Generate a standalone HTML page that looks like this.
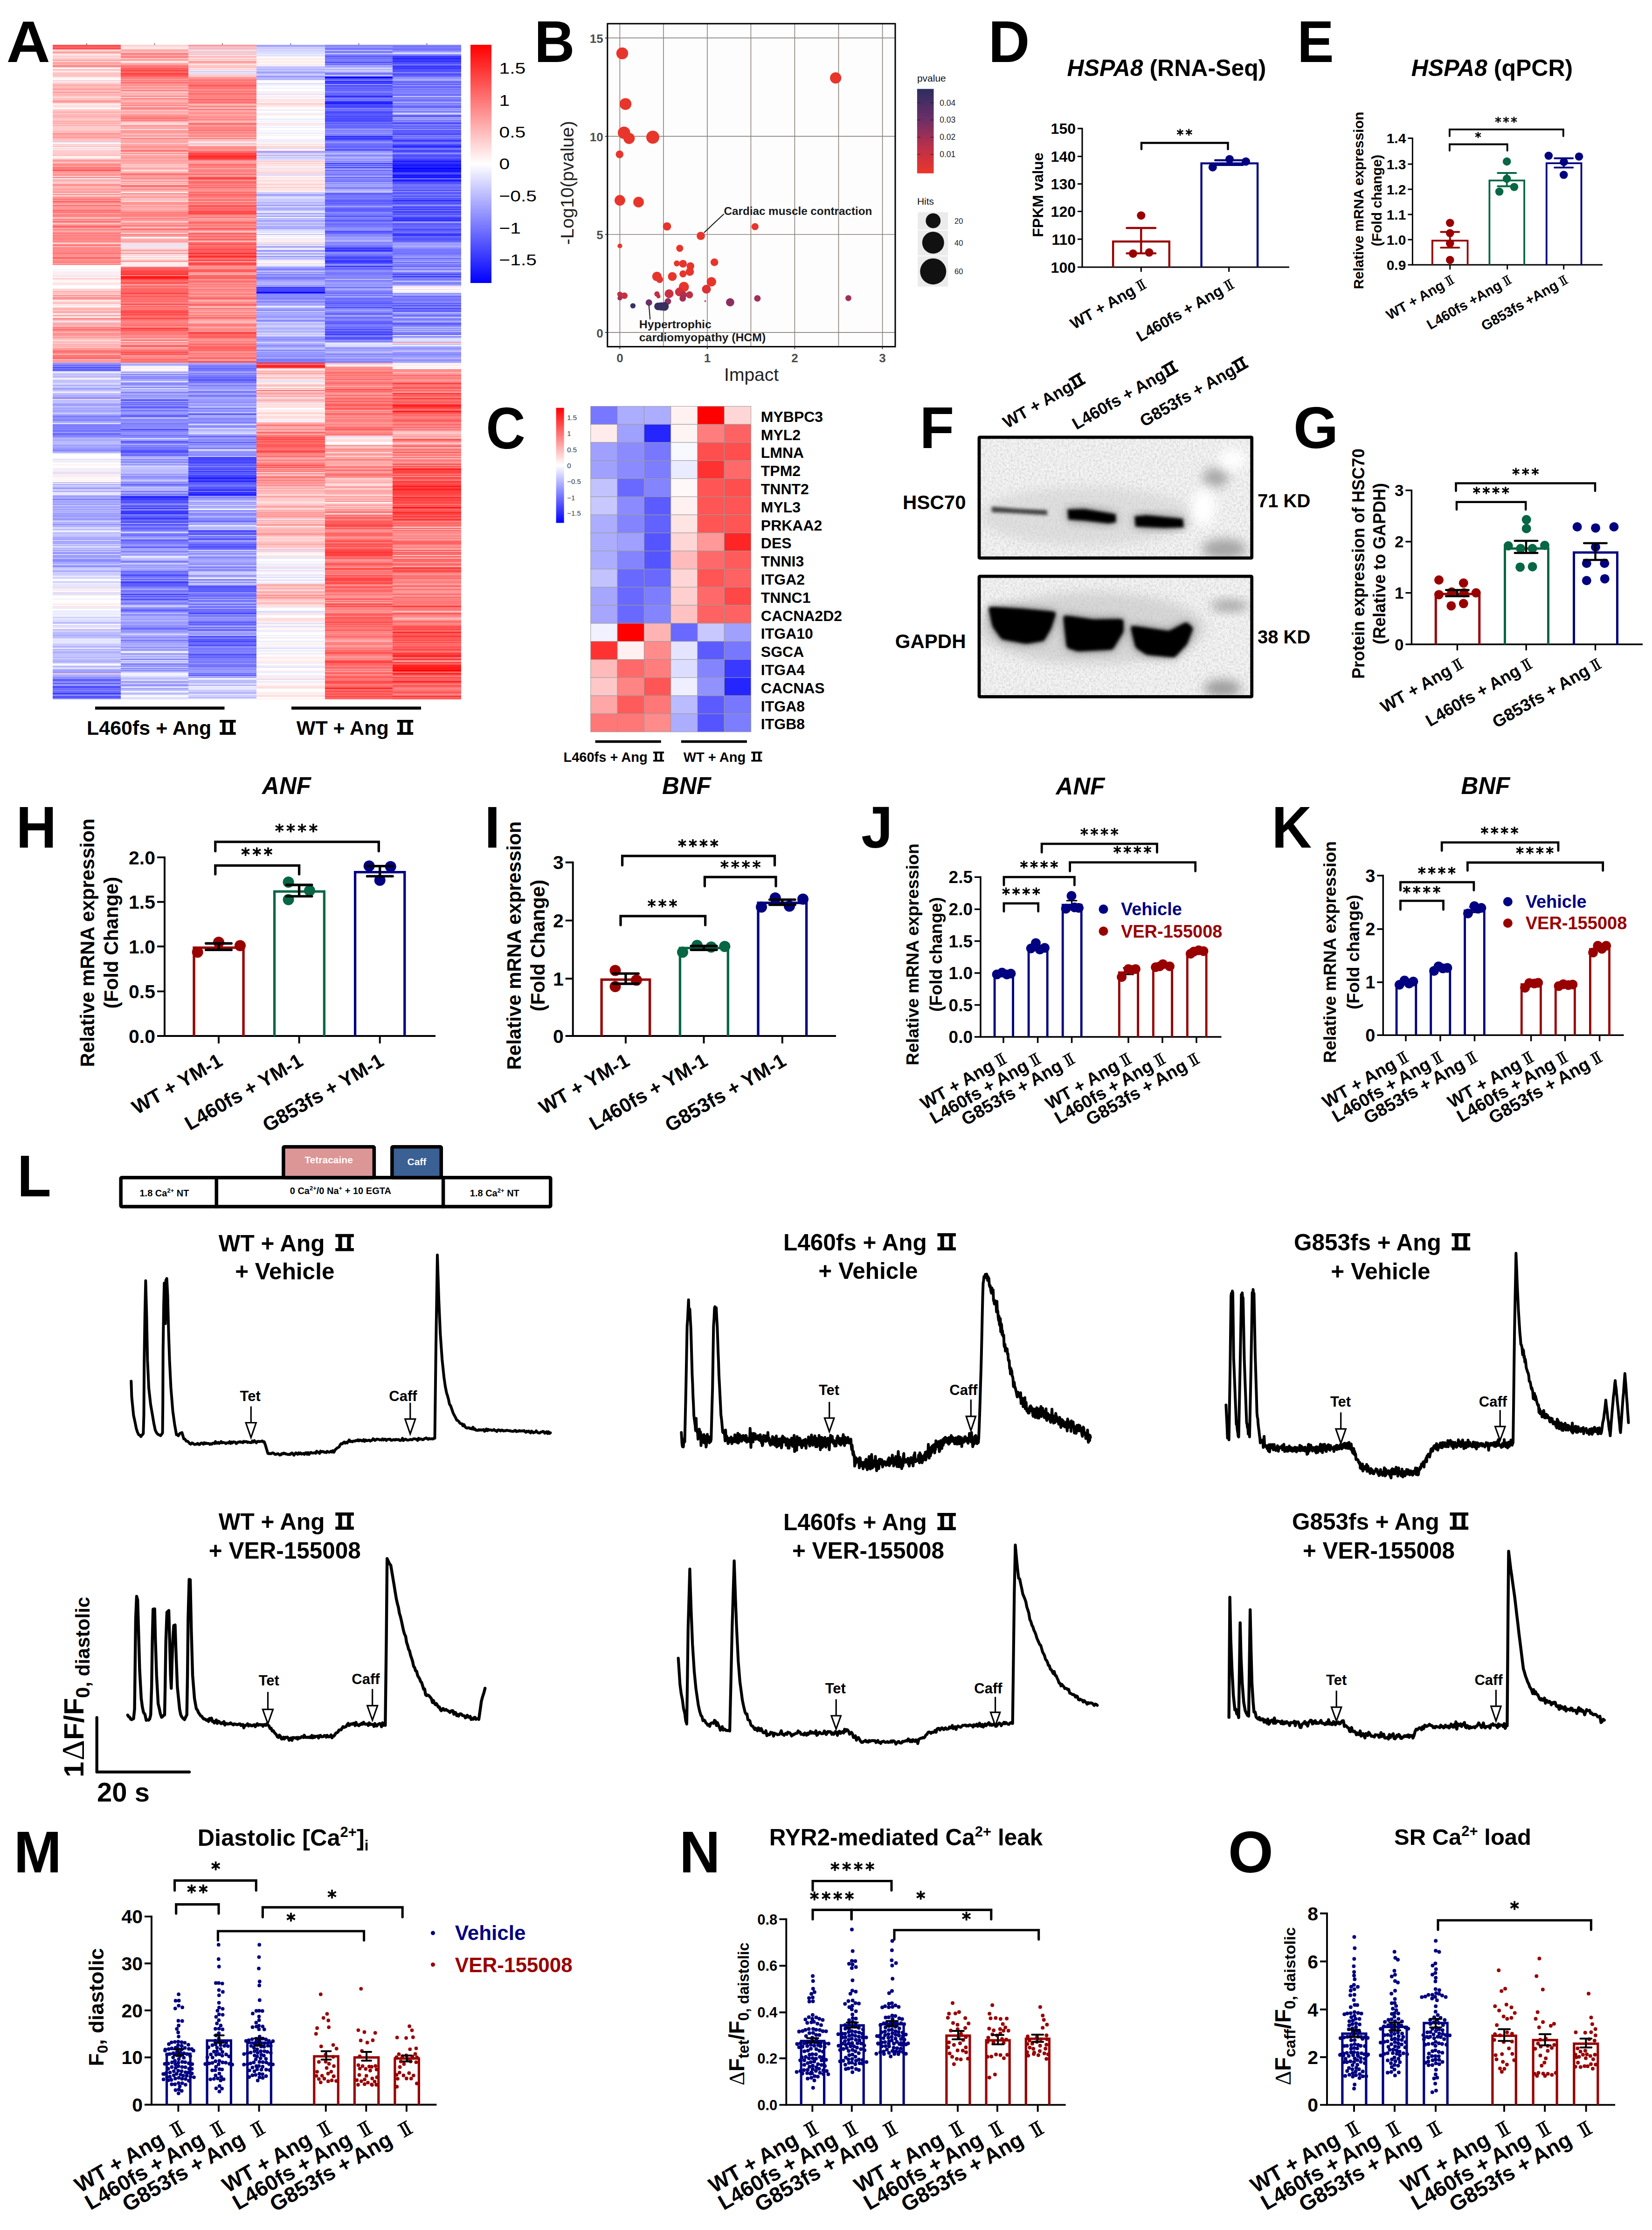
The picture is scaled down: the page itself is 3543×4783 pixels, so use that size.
<!DOCTYPE html>
<html><head><meta charset="utf-8"><title>Figure</title>
<style>
html,body{margin:0;padding:0;background:#fff}
#pg{position:relative;width:3543px;height:4783px;background:#fff;overflow:hidden;font-family:"Liberation Sans",sans-serif}
#pg svg{position:absolute;left:0;top:0}
svg text{font-family:"Liberation Sans",sans-serif}
</style></head><body><div id="pg">
<div style="position:absolute;left:113px;top:96px;width:146px;height:1404px;background:linear-gradient(#f55 0 2px,#f44 0 4px,#f77 0 6px,#f44 0 8px,#f55 0 10px,#fcc 0 12px,#fdd 0 14px,#faa 0 16px,#f99 0 18px,#fcc 0 20px,#fee 0 22px,#fdd 0 24px,#fcc 0 26px,#fdd 0 28px,#fcc 0 32px,#f99 0 34px,#fcc 0 38px,#f88 0 40px,#fbb 0 42px,#faa 0 44px,#f88 0 48px,#fdd 0 50px,#fff 0 52px,#fbb 0 54px,#fcc 0 56px,#fee 0 58px,#fdd 0 60px,#fbb 0 62px,#fcc 0 64px,#fbb 0 66px,#fcc 0 70px,#fff 0 72px,#fee 0 74px,#fff 0 76px,#fcc 0 78px,#eef 0 80px,#fdd 0 82px,#fcc 0 84px,#fbb 0 86px,#faa 0 88px,#fbb 0 94px,#f99 0 96px,#faa 0 98px,#fcc 0 100px,#faa 0 102px,#f99 0 104px,#fcc 0 106px,#faa 0 108px,#fbb 0 110px,#fcc 0 112px,#fdd 0 114px,#fbb 0 116px,#fcc 0 118px,#faa 0 120px,#f99 0 124px,#fcc 0 126px,#fee 0 130px,#fdd 0 134px,#fee 0 136px,#fff 0 138px,#fcc 0 142px,#fbb 0 144px,#faa 0 146px,#fcc 0 148px,#fbb 0 152px,#faa 0 154px,#fbb 0 158px,#fcc 0 162px,#fbb 0 164px,#faa 0 166px,#fbb 0 168px,#faa 0 170px,#fcc 0 172px,#faa 0 174px,#fcc 0 184px,#fbb 0 190px,#f88 0 192px,#faa 0 198px,#f99 0 200px,#fbb 0 204px,#fcc 0 206px,#fbb 0 208px,#ddf 0 210px,#fff 0 212px,#fdd 0 214px,#fcc 0 216px,#fdd 0 218px,#fbb 0 220px,#fff 0 222px,#fcc 0 224px,#eef 0 226px,#fcc 0 236px,#fbb 0 238px,#fdd 0 240px,#fff 0 242px,#fdd 0 246px,#f99 0 250px,#faa 0 252px,#fcc 0 254px,#f99 0 256px,#f88 0 260px,#faa 0 262px,#f77 0 266px,#f88 0 268px,#f44 0 270px,#f88 0 272px,#f99 0 276px,#faa 0 278px,#f88 0 280px,#faa 0 282px,#fdd 0 284px,#f77 0 286px,#eef 0 288px,#fbb 0 290px,#faa 0 292px,#fbb 0 294px,#fcc 0 298px,#faa 0 300px,#f77 0 302px,#fbb 0 304px,#faa 0 306px,#fbb 0 308px,#faa 0 310px,#f99 0 312px,#fbb 0 314px,#f99 0 318px,#fdd 0 320px,#f88 0 322px,#fcc 0 326px,#f88 0 328px,#faa 0 330px,#f66 0 332px,#f99 0 334px,#f88 0 336px,#f55 0 338px,#f99 0 342px,#faa 0 344px,#f66 0 346px,#f99 0 354px,#f66 0 356px,#f88 0 358px,#f66 0 360px,#f99 0 364px,#f77 0 366px,#f88 0 370px,#fcc 0 372px,#faa 0 374px,#f77 0 376px,#faa 0 378px,#f66 0 380px,#f88 0 382px,#fcc 0 384px,#faa 0 386px,#f99 0 388px,#f66 0 392px,#f99 0 394px,#faa 0 396px,#f77 0 398px,#faa 0 402px,#f88 0 404px,#f77 0 406px,#f99 0 408px,#f77 0 410px,#f88 0 416px,#f77 0 418px,#f99 0 420px,#f77 0 422px,#f99 0 424px,#fbb 0 426px,#fdd 0 428px,#f66 0 430px,#f88 0 432px,#fbb 0 434px,#f88 0 446px,#f77 0 450px,#faa 0 452px,#f77 0 454px,#faa 0 456px,#f44 0 458px,#f88 0 460px,#f99 0 462px,#f88 0 466px,#f77 0 468px,#faa 0 470px,#f77 0 472px,#fee 0 474px,#fff 0 482px,#fee 0 484px,#fff 0 486px,#eef 0 488px,#fee 0 494px,#eef 0 496px,#fdd 0 498px,#fff 0 500px,#fcc 0 502px,#fdd 0 504px,#fee 0 506px,#fff 0 508px,#fee 0 512px,#fdd 0 514px,#fee 0 516px,#fff 0 522px,#fee 0 524px,#fcc 0 526px,#fdd 0 528px,#faa 0 530px,#fcc 0 532px,#faa 0 534px,#fee 0 536px,#f88 0 538px,#fbb 0 540px,#faa 0 542px,#f88 0 544px,#f99 0 546px,#fbb 0 548px,#fff 0 550px,#fcc 0 554px,#fbb 0 556px,#fee 0 558px,#fdd 0 560px,#fff 0 562px,#fdd 0 564px,#fbb 0 566px,#faa 0 568px,#fbb 0 570px,#fcc 0 572px,#f99 0 574px,#fbb 0 576px,#fee 0 578px,#fdd 0 580px,#f99 0 582px,#fdd 0 584px,#fee 0 586px,#f88 0 588px,#f99 0 590px,#fbb 0 592px,#fdd 0 594px,#ddf 0 596px,#faa 0 602px,#fbb 0 604px,#faa 0 606px,#f77 0 608px,#f99 0 610px,#f66 0 612px,#f88 0 614px,#f99 0 616px,#fbb 0 618px,#f88 0 620px,#f99 0 622px,#f88 0 624px,#fbb 0 626px,#f99 0 628px,#faa 0 630px,#fbb 0 632px,#fcc 0 634px,#fdd 0 636px,#fbb 0 640px,#fcc 0 642px,#faa 0 644px,#fbb 0 646px,#faa 0 648px,#fcc 0 650px,#f99 0 652px,#faa 0 654px,#f77 0 656px,#f88 0 658px,#f55 0 660px,#f99 0 662px,#f88 0 664px,#fbb 0 666px,#f55 0 668px,#f88 0 670px,#f66 0 674px,#fbb 0 676px,#f99 0 680px,#faa 0 682px,#88f 0 684px,#aaf 0 686px,#55f 0 688px,#88f 0 690px,#77f 0 692px,#44f 0 694px,#88f 0 696px,#55f 0 698px,#66f 0 700px,#ddf 0 702px,#eef 0 704px,#ccf 0 706px,#bbf 0 708px,#ccf 0 710px,#bbf 0 714px,#fdd 0 716px,#fff 0 718px,#bbf 0 720px,#ccf 0 722px,#bbf 0 724px,#ccf 0 726px,#ddf 0 728px,#ccf 0 730px,#aaf 0 732px,#ccf 0 736px,#99f 0 738px,#aaf 0 740px,#bbf 0 742px,#ccf 0 744px,#fee 0 746px,#ddf 0 748px,#aaf 0 750px,#ccf 0 752px,#99f 0 754px,#bbf 0 756px,#88f 0 758px,#99f 0 760px,#fdd 0 762px,#bbf 0 766px,#ccf 0 768px,#aaf 0 772px,#88f 0 774px,#ccf 0 776px,#aaf 0 778px,#bbf 0 780px,#99f 0 782px,#bbf 0 784px,#99f 0 786px,#aaf 0 788px,#bbf 0 790px,#ccf 0 792px,#aaf 0 794px,#99f 0 796px,#77f 0 798px,#88f 0 800px,#99f 0 802px,#88f 0 808px,#bbf 0 810px,#aaf 0 812px,#eef 0 814px,#66f 0 816px,#88f 0 818px,#77f 0 820px,#88f 0 822px,#77f 0 824px,#88f 0 826px,#77f 0 828px,#66f 0 830px,#aaf 0 832px,#77f 0 834px,#66f 0 836px,#77f 0 838px,#88f 0 842px,#aaf 0 844px,#bbf 0 846px,#aaf 0 850px,#bbf 0 858px,#99f 0 860px,#aaf 0 864px,#99f 0 868px,#88f 0 872px,#aaf 0 874px,#bbf 0 876px,#eef 0 878px,#fff 0 888px,#ddf 0 890px,#fee 0 892px,#eef 0 896px,#fff 0 900px,#fee 0 902px,#fff 0 908px,#eef 0 912px,#fee 0 914px,#eef 0 916px,#fdd 0 918px,#ddf 0 920px,#eef 0 922px,#fee 0 924px,#eef 0 926px,#fee 0 928px,#fff 0 930px,#fee 0 932px,#fff 0 934px,#fee 0 936px,#fff 0 938px,#bbf 0 940px,#fee 0 942px,#aaf 0 944px,#ccf 0 948px,#bbf 0 950px,#99f 0 952px,#aaf 0 954px,#eef 0 956px,#aaf 0 958px,#bbf 0 960px,#fee 0 962px,#ddf 0 964px,#eef 0 966px,#aaf 0 968px,#99f 0 970px,#aaf 0 974px,#77f 0 976px,#aaf 0 980px,#99f 0 982px,#bbf 0 984px,#99f 0 986px,#aaf 0 988px,#ccf 0 990px,#99f 0 992px,#aaf 0 994px,#bbf 0 996px,#99f 0 998px,#bbf 0 1000px,#aaf 0 1002px,#bbf 0 1004px,#99f 0 1006px,#aaf 0 1008px,#99f 0 1012px,#aaf 0 1016px,#99f 0 1020px,#ccf 0 1024px,#aaf 0 1026px,#bbf 0 1028px,#88f 0 1030px,#bbf 0 1032px,#aaf 0 1034px,#ccf 0 1036px,#eef 0 1038px,#aaf 0 1040px,#ddf 0 1044px,#fff 0 1046px,#99f 0 1048px,#ddf 0 1050px,#bbf 0 1052px,#ccf 0 1054px,#bbf 0 1056px,#aaf 0 1060px,#99f 0 1062px,#ddf 0 1064px,#99f 0 1066px,#bbf 0 1068px,#88f 0 1070px,#ddf 0 1072px,#aaf 0 1074px,#ccf 0 1076px,#ddf 0 1078px,#ccf 0 1080px,#aaf 0 1082px,#ccf 0 1084px,#99f 0 1086px,#ccf 0 1088px,#99f 0 1090px,#88f 0 1092px,#ddf 0 1094px,#99f 0 1096px,#aaf 0 1098px,#88f 0 1100px,#ccf 0 1102px,#99f 0 1104px,#88f 0 1108px,#99f 0 1110px,#aaf 0 1114px,#ccf 0 1116px,#99f 0 1118px,#88f 0 1120px,#bbf 0 1122px,#ccf 0 1128px,#99f 0 1130px,#ccf 0 1138px,#ddf 0 1140px,#eef 0 1142px,#ccf 0 1144px,#ddf 0 1146px,#fff 0 1150px,#ddf 0 1152px,#ccf 0 1154px,#eef 0 1158px,#ddf 0 1160px,#eef 0 1162px,#ddf 0 1164px,#fdd 0 1166px,#eef 0 1168px,#fee 0 1170px,#eef 0 1172px,#fff 0 1174px,#ddf 0 1178px,#fdd 0 1180px,#eef 0 1182px,#fff 0 1188px,#eef 0 1190px,#fff 0 1198px,#fee 0 1202px,#fff 0 1204px,#fdd 0 1206px,#eef 0 1210px,#fff 0 1214px,#ddf 0 1216px,#fff 0 1218px,#ddf 0 1220px,#fff 0 1222px,#ddf 0 1224px,#fff 0 1226px,#ddf 0 1228px,#ccf 0 1230px,#eef 0 1232px,#ddf 0 1238px,#bbf 0 1242px,#fff 0 1244px,#ddf 0 1250px,#fee 0 1252px,#eef 0 1254px,#aaf 0 1256px,#ddf 0 1258px,#ccf 0 1260px,#bbf 0 1266px,#aaf 0 1268px,#bbf 0 1272px,#ccf 0 1274px,#eef 0 1276px,#ddf 0 1278px,#eef 0 1280px,#ddf 0 1282px,#eef 0 1284px,#ccf 0 1290px,#aaf 0 1292px,#ccf 0 1294px,#eef 0 1296px,#aaf 0 1298px,#ccf 0 1300px,#bbf 0 1302px,#aaf 0 1304px,#bbf 0 1308px,#ccf 0 1310px,#bbf 0 1312px,#ccf 0 1314px,#aaf 0 1316px,#ddf 0 1318px,#aaf 0 1320px,#bbf 0 1322px,#aaf 0 1324px,#bbf 0 1326px,#ddf 0 1328px,#fff 0 1330px,#eef 0 1332px,#bbf 0 1336px,#eef 0 1338px,#ccf 0 1340px,#99f 0 1342px,#aaf 0 1344px,#99f 0 1348px,#fcc 0 1350px,#bbf 0 1352px,#aaf 0 1356px,#88f 0 1358px,#99f 0 1360px,#66f 0 1362px,#55f 0 1364px,#77f 0 1366px,#99f 0 1368px,#77f 0 1370px,#55f 0 1372px,#bbf 0 1374px,#77f 0 1376px,#44f 0 1378px,#55f 0 1380px,#77f 0 1382px,#66f 0 1384px,#88f 0 1386px,#66f 0 1388px,#77f 0 1390px,#33f 0 1392px,#55f 0 1394px,#99f 0 1396px,#66f 0 1398px,#44f 0 1400px,#66f 0 1402px,#99f 0)"></div>
<div style="position:absolute;left:259px;top:96px;width:145px;height:1404px;background:linear-gradient(#fcc 0 2px,#fdd 0 6px,#fee 0 8px,#fdd 0 10px,#faa 0 14px,#fbb 0 18px,#f77 0 20px,#f88 0 22px,#faa 0 24px,#f88 0 26px,#f77 0 28px,#fcc 0 30px,#faa 0 32px,#f99 0 34px,#fcc 0 36px,#fff 0 38px,#fbb 0 40px,#faa 0 42px,#f99 0 44px,#f77 0 50px,#f55 0 52px,#f66 0 54px,#f44 0 56px,#f55 0 58px,#f77 0 60px,#f44 0 64px,#f55 0 68px,#f77 0 72px,#f88 0 74px,#f99 0 76px,#f77 0 78px,#f99 0 80px,#f66 0 82px,#f88 0 84px,#f99 0 86px,#f88 0 88px,#faa 0 92px,#f77 0 94px,#fcc 0 96px,#f88 0 100px,#fcc 0 102px,#fbb 0 104px,#faa 0 106px,#fbb 0 108px,#faa 0 110px,#f88 0 112px,#fdd 0 114px,#f88 0 116px,#f99 0 118px,#faa 0 120px,#fbb 0 122px,#faa 0 124px,#f99 0 128px,#faa 0 130px,#f77 0 132px,#fdd 0 134px,#f77 0 136px,#f88 0 138px,#f99 0 140px,#fcc 0 142px,#faa 0 146px,#fbb 0 148px,#faa 0 150px,#f99 0 152px,#f88 0 156px,#f77 0 160px,#f99 0 162px,#f77 0 164px,#fbb 0 166px,#fcc 0 168px,#fdd 0 172px,#f99 0 176px,#fbb 0 178px,#f88 0 180px,#fee 0 182px,#faa 0 184px,#f99 0 190px,#fbb 0 194px,#f99 0 196px,#faa 0 198px,#fcc 0 200px,#f77 0 202px,#faa 0 208px,#f99 0 210px,#fcc 0 212px,#fbb 0 214px,#f99 0 216px,#faa 0 218px,#f88 0 220px,#f99 0 222px,#faa 0 226px,#f66 0 228px,#f88 0 230px,#fcc 0 232px,#f88 0 234px,#fcc 0 236px,#faa 0 240px,#f99 0 244px,#faa 0 248px,#f99 0 250px,#faa 0 256px,#fcc 0 258px,#fbb 0 260px,#fcc 0 262px,#fbb 0 264px,#faa 0 266px,#f99 0 268px,#fff 0 270px,#faa 0 272px,#fdd 0 274px,#f88 0 278px,#f66 0 280px,#faa 0 282px,#f99 0 286px,#f88 0 288px,#faa 0 290px,#fcc 0 292px,#f88 0 294px,#fcc 0 296px,#f99 0 298px,#fdd 0 300px,#f88 0 302px,#f66 0 304px,#f88 0 306px,#fbb 0 308px,#f99 0 310px,#f88 0 312px,#fbb 0 316px,#fff 0 318px,#f88 0 320px,#faa 0 322px,#fbb 0 324px,#faa 0 326px,#f99 0 328px,#faa 0 330px,#fdd 0 332px,#f99 0 334px,#fee 0 336px,#fbb 0 338px,#f88 0 340px,#f99 0 344px,#fbb 0 346px,#f99 0 348px,#faa 0 352px,#fbb 0 354px,#f99 0 356px,#faa 0 358px,#f77 0 360px,#f88 0 364px,#f77 0 366px,#f88 0 370px,#faa 0 372px,#f77 0 374px,#f99 0 378px,#fcc 0 380px,#fbb 0 382px,#f88 0 384px,#faa 0 386px,#f77 0 388px,#f88 0 390px,#faa 0 392px,#fcc 0 394px,#f66 0 396px,#f77 0 398px,#faa 0 400px,#f99 0 402px,#faa 0 404px,#fdd 0 406px,#f77 0 408px,#f99 0 412px,#fff 0 414px,#fdd 0 416px,#fbb 0 418px,#f99 0 420px,#fbb 0 422px,#f88 0 424px,#eef 0 426px,#fcc 0 428px,#fee 0 430px,#ddf 0 432px,#eef 0 434px,#fdd 0 438px,#fcc 0 440px,#f99 0 442px,#fbb 0 444px,#eef 0 446px,#f88 0 448px,#fdd 0 450px,#fcc 0 452px,#fee 0 456px,#fcc 0 458px,#fff 0 460px,#fcc 0 462px,#fbb 0 464px,#f99 0 466px,#fee 0 474px,#eef 0 476px,#f77 0 478px,#f66 0 480px,#f55 0 482px,#f66 0 484px,#f44 0 492px,#f33 0 494px,#f88 0 496px,#f22 0 498px,#f11 0 500px,#f22 0 502px,#f44 0 504px,#f66 0 508px,#f77 0 510px,#f33 0 512px,#f88 0 514px,#f99 0 516px,#f77 0 518px,#f66 0 520px,#f88 0 522px,#f66 0 532px,#f44 0 534px,#f55 0 536px,#f88 0 538px,#f44 0 540px,#f77 0 542px,#f66 0 544px,#f77 0 546px,#f66 0 548px,#f77 0 550px,#f66 0 552px,#f88 0 554px,#f77 0 556px,#f44 0 558px,#f99 0 560px,#f66 0 562px,#f77 0 570px,#f44 0 572px,#f55 0 574px,#f44 0 576px,#f66 0 578px,#f44 0 580px,#f66 0 582px,#f77 0 584px,#f66 0 586px,#f44 0 588px,#f66 0 590px,#f77 0 592px,#f88 0 596px,#f77 0 598px,#f88 0 600px,#f66 0 602px,#f77 0 604px,#f99 0 606px,#f66 0 608px,#f33 0 610px,#f66 0 612px,#f55 0 614px,#f77 0 622px,#f88 0 624px,#f99 0 626px,#f77 0 628px,#f99 0 630px,#fbb 0 632px,#f77 0 634px,#f88 0 636px,#fdd 0 638px,#f77 0 640px,#faa 0 644px,#f66 0 646px,#f55 0 648px,#faa 0 650px,#f99 0 654px,#f66 0 656px,#f88 0 658px,#f44 0 660px,#f66 0 664px,#f55 0 666px,#faa 0 668px,#f88 0 674px,#f66 0 676px,#f77 0 680px,#f66 0 682px,#ccf 0 684px,#aaf 0 688px,#ddf 0 690px,#fff 0 692px,#fee 0 696px,#fff 0 698px,#fee 0 700px,#ccf 0 702px,#99f 0 704px,#ddf 0 706px,#77f 0 708px,#bbf 0 710px,#88f 0 712px,#99f 0 714px,#77f 0 716px,#aaf 0 718px,#99f 0 720px,#bbf 0 722px,#eef 0 724px,#88f 0 730px,#aaf 0 732px,#ccf 0 734px,#77f 0 736px,#ddf 0 738px,#bbf 0 740px,#aaf 0 742px,#ccf 0 744px,#77f 0 746px,#99f 0 748px,#aaf 0 752px,#88f 0 754px,#aaf 0 756px,#99f 0 758px,#bbf 0 760px,#66f 0 762px,#55f 0 764px,#aaf 0 766px,#66f 0 768px,#88f 0 770px,#66f 0 772px,#88f 0 776px,#55f 0 778px,#66f 0 780px,#99f 0 784px,#66f 0 786px,#99f 0 792px,#88f 0 794px,#66f 0 796px,#55f 0 798px,#99f 0 800px,#ccf 0 802px,#88f 0 808px,#99f 0 810px,#88f 0 812px,#77f 0 814px,#88f 0 822px,#99f 0 824px,#44f 0 826px,#77f 0 830px,#99f 0 832px,#88f 0 834px,#99f 0 836px,#88f 0 838px,#66f 0 840px,#99f 0 842px,#88f 0 844px,#eef 0 846px,#99f 0 850px,#55f 0 852px,#66f 0 854px,#77f 0 856px,#bbf 0 858px,#77f 0 860px,#99f 0 862px,#66f 0 864px,#88f 0 866px,#66f 0 868px,#77f 0 870px,#44f 0 872px,#55f 0 876px,#88f 0 878px,#66f 0 882px,#aaf 0 886px,#ccf 0 888px,#88f 0 890px,#99f 0 892px,#aaf 0 894px,#77f 0 896px,#aaf 0 898px,#bbf 0 900px,#88f 0 902px,#ccf 0 904px,#ddf 0 906px,#bbf 0 908px,#ccf 0 910px,#bbf 0 918px,#ccf 0 920px,#88f 0 922px,#bbf 0 924px,#99f 0 926px,#88f 0 928px,#99f 0 932px,#bbf 0 934px,#ccf 0 936px,#aaf 0 938px,#88f 0 940px,#99f 0 942px,#66f 0 944px,#77f 0 946px,#99f 0 948px,#bbf 0 950px,#ccf 0 952px,#99f 0 954px,#ddf 0 956px,#88f 0 958px,#77f 0 960px,#bbf 0 962px,#88f 0 964px,#77f 0 966px,#99f 0 968px,#22f 0 972px,#44f 0 974px,#33f 0 976px,#55f 0 984px,#99f 0 986px,#77f 0 988px,#55f 0 992px,#77f 0 994px,#33f 0 996px,#99f 0 998px,#66f 0 1000px,#33f 0 1002px,#44f 0 1004px,#22f 0 1006px,#66f 0 1008px,#77f 0 1010px,#66f 0 1012px,#55f 0 1016px,#22f 0 1018px,#77f 0 1020px,#66f 0 1022px,#55f 0 1026px,#aaf 0 1028px,#44f 0 1030px,#66f 0 1032px,#88f 0 1034px,#77f 0 1036px,#55f 0 1038px,#77f 0 1040px,#66f 0 1042px,#99f 0 1044px,#aaf 0 1046px,#eef 0 1048px,#55f 0 1050px,#88f 0 1052px,#66f 0 1054px,#99f 0 1058px,#bbf 0 1060px,#88f 0 1062px,#55f 0 1064px,#77f 0 1070px,#88f 0 1072px,#99f 0 1076px,#66f 0 1080px,#bbf 0 1082px,#99f 0 1084px,#aaf 0 1086px,#77f 0 1088px,#99f 0 1090px,#bbf 0 1092px,#99f 0 1096px,#eef 0 1098px,#ddf 0 1102px,#aaf 0 1104px,#ccf 0 1106px,#88f 0 1108px,#77f 0 1110px,#99f 0 1112px,#ddf 0 1114px,#aaf 0 1116px,#99f 0 1118px,#aaf 0 1120px,#99f 0 1122px,#bbf 0 1124px,#99f 0 1126px,#bbf 0 1128px,#55f 0 1130px,#88f 0 1132px,#66f 0 1134px,#88f 0 1136px,#44f 0 1138px,#55f 0 1140px,#77f 0 1144px,#99f 0 1146px,#55f 0 1148px,#99f 0 1150px,#66f 0 1152px,#33f 0 1154px,#55f 0 1156px,#66f 0 1158px,#55f 0 1160px,#66f 0 1162px,#77f 0 1164px,#88f 0 1166px,#99f 0 1168px,#aaf 0 1170px,#66f 0 1172px,#77f 0 1174px,#88f 0 1178px,#33f 0 1180px,#88f 0 1182px,#55f 0 1184px,#77f 0 1186px,#88f 0 1188px,#55f 0 1192px,#aaf 0 1194px,#88f 0 1198px,#77f 0 1200px,#99f 0 1202px,#ccf 0 1206px,#99f 0 1208px,#88f 0 1210px,#77f 0 1212px,#55f 0 1214px,#77f 0 1216px,#88f 0 1218px,#bbf 0 1220px,#aaf 0 1222px,#77f 0 1224px,#aaf 0 1232px,#99f 0 1234px,#bbf 0 1236px,#aaf 0 1238px,#99f 0 1242px,#aaf 0 1244px,#99f 0 1246px,#88f 0 1248px,#99f 0 1250px,#66f 0 1252px,#77f 0 1256px,#aaf 0 1258px,#88f 0 1260px,#aaf 0 1262px,#bbf 0 1264px,#ddf 0 1266px,#aaf 0 1270px,#88f 0 1272px,#99f 0 1274px,#bbf 0 1276px,#66f 0 1278px,#99f 0 1284px,#bbf 0 1286px,#99f 0 1288px,#bbf 0 1290px,#aaf 0 1292px,#88f 0 1294px,#bbf 0 1296px,#99f 0 1300px,#ddf 0 1302px,#fff 0 1304px,#bbf 0 1306px,#88f 0 1308px,#ccf 0 1310px,#bbf 0 1312px,#aaf 0 1314px,#ccf 0 1316px,#aaf 0 1318px,#77f 0 1320px,#eef 0 1322px,#aaf 0 1324px,#ddf 0 1326px,#99f 0 1328px,#77f 0 1330px,#aaf 0 1332px,#77f 0 1334px,#ddf 0 1336px,#88f 0 1338px,#99f 0 1340px,#bbf 0 1342px,#66f 0 1344px,#ddf 0 1346px,#ccf 0 1348px,#fff 0 1350px,#eef 0 1354px,#ddf 0 1356px,#ccf 0 1358px,#bbf 0 1362px,#eef 0 1364px,#aaf 0 1366px,#99f 0 1368px,#bbf 0 1370px,#ccf 0 1372px,#88f 0 1374px,#99f 0 1376px,#ddf 0 1380px,#99f 0 1382px,#bbf 0 1386px,#fff 0 1388px,#ddf 0 1390px,#bbf 0 1394px,#eef 0 1396px,#fff 0 1398px,#eef 0 1400px,#ddf 0)"></div>
<div style="position:absolute;left:404px;top:96px;width:146px;height:1404px;background:linear-gradient(#f88 0 2px,#fbb 0 4px,#faa 0 6px,#ddf 0 8px,#f99 0 10px,#eef 0 12px,#fcc 0 16px,#fbb 0 18px,#ddf 0 20px,#fbb 0 22px,#fee 0 24px,#fbb 0 28px,#fee 0 30px,#fbb 0 32px,#fdd 0 34px,#fbb 0 36px,#f88 0 38px,#fbb 0 40px,#fcc 0 42px,#fee 0 44px,#fbb 0 46px,#fcc 0 48px,#fbb 0 50px,#fee 0 52px,#fcc 0 54px,#fee 0 56px,#ccf 0 58px,#fdd 0 60px,#ddf 0 64px,#fcc 0 68px,#fbb 0 70px,#f88 0 72px,#f99 0 74px,#f77 0 78px,#f88 0 80px,#f77 0 86px,#f55 0 88px,#f66 0 90px,#f77 0 96px,#faa 0 98px,#f66 0 100px,#f88 0 104px,#f66 0 106px,#f77 0 108px,#f88 0 112px,#f77 0 114px,#f99 0 116px,#f55 0 118px,#f88 0 120px,#f66 0 122px,#f99 0 124px,#f44 0 126px,#fdd 0 128px,#f99 0 130px,#faa 0 132px,#f77 0 134px,#fbb 0 138px,#f66 0 140px,#faa 0 144px,#f99 0 146px,#f88 0 148px,#faa 0 150px,#f99 0 152px,#faa 0 154px,#f77 0 156px,#faa 0 158px,#f88 0 162px,#faa 0 164px,#fbb 0 166px,#faa 0 168px,#f66 0 170px,#f77 0 172px,#f99 0 176px,#f88 0 178px,#f77 0 180px,#f99 0 182px,#f66 0 184px,#f88 0 186px,#f99 0 188px,#f77 0 190px,#f99 0 194px,#f88 0 198px,#fbb 0 200px,#f77 0 202px,#fbb 0 206px,#fcc 0 208px,#eef 0 210px,#fdd 0 212px,#faa 0 214px,#fee 0 216px,#fbb 0 218px,#f88 0 224px,#f99 0 228px,#f66 0 232px,#f44 0 238px,#f22 0 240px,#f33 0 244px,#f44 0 246px,#f66 0 248px,#f99 0 250px,#faa 0 252px,#f99 0 256px,#f66 0 258px,#f77 0 260px,#f88 0 262px,#f77 0 264px,#faa 0 266px,#f88 0 270px,#f77 0 272px,#f88 0 274px,#f99 0 276px,#f77 0 280px,#faa 0 282px,#f88 0 284px,#f44 0 288px,#f66 0 290px,#f99 0 292px,#f77 0 294px,#f66 0 298px,#f99 0 300px,#f66 0 302px,#f88 0 304px,#f77 0 306px,#f66 0 308px,#f99 0 310px,#f88 0 312px,#f99 0 314px,#f88 0 316px,#f66 0 318px,#f88 0 320px,#f66 0 324px,#f77 0 328px,#f99 0 330px,#f88 0 332px,#f66 0 334px,#f88 0 336px,#faa 0 338px,#f55 0 340px,#f88 0 344px,#f55 0 348px,#f77 0 350px,#f66 0 354px,#f77 0 356px,#f44 0 358px,#f55 0 360px,#f44 0 362px,#f55 0 364px,#f77 0 366px,#f99 0 368px,#f88 0 370px,#f77 0 372px,#faa 0 374px,#f99 0 378px,#f88 0 380px,#f66 0 384px,#f99 0 386px,#f77 0 388px,#f88 0 394px,#f44 0 396px,#f88 0 398px,#f99 0 400px,#fcc 0 402px,#f99 0 404px,#f55 0 406px,#f77 0 408px,#f88 0 410px,#f66 0 412px,#f77 0 414px,#f99 0 416px,#f55 0 418px,#f77 0 420px,#faa 0 422px,#fbb 0 424px,#f44 0 426px,#f77 0 428px,#f44 0 430px,#f88 0 432px,#f66 0 438px,#f44 0 440px,#f66 0 442px,#f55 0 444px,#f66 0 446px,#f33 0 450px,#f88 0 452px,#f11 0 454px,#f44 0 458px,#f88 0 460px,#f55 0 462px,#f44 0 464px,#faa 0 466px,#f66 0 468px,#f44 0 472px,#f66 0 474px,#f99 0 476px,#f88 0 478px,#f99 0 480px,#f88 0 482px,#f55 0 484px,#f66 0 486px,#f55 0 488px,#faa 0 490px,#f99 0 492px,#faa 0 494px,#f66 0 500px,#f55 0 502px,#f99 0 504px,#f88 0 506px,#f77 0 508px,#f66 0 510px,#f99 0 512px,#f88 0 514px,#f77 0 516px,#f99 0 518px,#f77 0 520px,#f99 0 524px,#f77 0 526px,#f88 0 530px,#f99 0 534px,#f66 0 536px,#faa 0 538px,#f88 0 542px,#f66 0 546px,#f99 0 548px,#fbb 0 550px,#f99 0 552px,#f88 0 556px,#f66 0 560px,#faa 0 562px,#fcc 0 564px,#f77 0 566px,#f88 0 568px,#f99 0 572px,#faa 0 574px,#f77 0 576px,#faa 0 578px,#f99 0 580px,#f77 0 582px,#f99 0 584px,#f66 0 586px,#f77 0 588px,#f99 0 590px,#faa 0 594px,#fcc 0 596px,#f99 0 600px,#f66 0 602px,#f88 0 604px,#f99 0 606px,#faa 0 608px,#f88 0 614px,#f99 0 616px,#f44 0 620px,#f66 0 626px,#f55 0 628px,#f77 0 630px,#f88 0 632px,#f99 0 636px,#f77 0 638px,#f99 0 640px,#f77 0 642px,#f66 0 644px,#f88 0 646px,#f66 0 650px,#f55 0 652px,#f77 0 654px,#f55 0 656px,#f88 0 660px,#f99 0 662px,#f66 0 664px,#f99 0 666px,#f77 0 668px,#f99 0 670px,#f66 0 674px,#f99 0 676px,#faa 0 678px,#f55 0 682px,#aaf 0 684px,#99f 0 688px,#66f 0 690px,#88f 0 692px,#77f 0 694px,#66f 0 696px,#77f 0 700px,#99f 0 702px,#aaf 0 704px,#77f 0 706px,#99f 0 708px,#77f 0 710px,#88f 0 712px,#55f 0 714px,#88f 0 716px,#55f 0 718px,#66f 0 720px,#55f 0 722px,#88f 0 724px,#66f 0 726px,#aaf 0 728px,#99f 0 730px,#77f 0 732px,#99f 0 740px,#ccf 0 742px,#77f 0 744px,#88f 0 746px,#77f 0 748px,#ccf 0 750px,#77f 0 754px,#88f 0 756px,#aaf 0 760px,#99f 0 766px,#88f 0 768px,#aaf 0 772px,#99f 0 776px,#ddf 0 778px,#77f 0 780px,#88f 0 782px,#aaf 0 784px,#88f 0 786px,#99f 0 788px,#ccf 0 790px,#77f 0 792px,#55f 0 794px,#aaf 0 800px,#88f 0 806px,#99f 0 808px,#88f 0 810px,#77f 0 812px,#bbf 0 814px,#ddf 0 816px,#88f 0 820px,#99f 0 822px,#ddf 0 824px,#bbf 0 826px,#aaf 0 828px,#ccf 0 830px,#bbf 0 832px,#eef 0 834px,#bbf 0 836px,#99f 0 838px,#88f 0 840px,#55f 0 842px,#aaf 0 844px,#99f 0 846px,#88f 0 850px,#99f 0 852px,#55f 0 854px,#99f 0 856px,#77f 0 858px,#99f 0 862px,#aaf 0 864px,#77f 0 866px,#88f 0 868px,#fff 0 870px,#aaf 0 872px,#99f 0 874px,#88f 0 876px,#99f 0 878px,#88f 0 882px,#ccf 0 884px,#44f 0 892px,#55f 0 894px,#44f 0 898px,#66f 0 902px,#55f 0 904px,#88f 0 906px,#55f 0 910px,#44f 0 912px,#77f 0 914px,#33f 0 916px,#66f 0 918px,#44f 0 920px,#77f 0 922px,#44f 0 928px,#22f 0 932px,#55f 0 934px,#33f 0 936px,#22f 0 938px,#66f 0 940px,#55f 0 942px,#66f 0 944px,#77f 0 948px,#55f 0 954px,#22f 0 956px,#55f 0 958px,#77f 0 960px,#11f 0 962px,#44f 0 964px,#11f 0 966px,#44f 0 968px,#aaf 0 970px,#77f 0 972px,#99f 0 976px,#aaf 0 978px,#ddf 0 980px,#99f 0 982px,#aaf 0 988px,#ddf 0 990px,#88f 0 992px,#bbf 0 994px,#ccf 0 996px,#fff 0 998px,#88f 0 1000px,#99f 0 1002px,#bbf 0 1004px,#88f 0 1010px,#aaf 0 1012px,#bbf 0 1014px,#88f 0 1020px,#77f 0 1022px,#66f 0 1024px,#aaf 0 1028px,#99f 0 1030px,#eef 0 1032px,#ccf 0 1034px,#bbf 0 1036px,#aaf 0 1038px,#ccf 0 1040px,#99f 0 1042px,#22f 0 1044px,#77f 0 1046px,#66f 0 1048px,#55f 0 1050px,#66f 0 1052px,#bbf 0 1054px,#66f 0 1056px,#88f 0 1058px,#66f 0 1060px,#44f 0 1062px,#99f 0 1064px,#aaf 0 1066px,#77f 0 1068px,#88f 0 1070px,#55f 0 1072px,#66f 0 1076px,#44f 0 1078px,#66f 0 1082px,#88f 0 1084px,#ddf 0 1086px,#88f 0 1088px,#bbf 0 1090px,#88f 0 1092px,#99f 0 1094px,#bbf 0 1098px,#77f 0 1100px,#99f 0 1104px,#aaf 0 1110px,#99f 0 1114px,#88f 0 1116px,#ccf 0 1118px,#99f 0 1120px,#77f 0 1122px,#aaf 0 1124px,#99f 0 1126px,#77f 0 1128px,#aaf 0 1130px,#ccf 0 1136px,#bbf 0 1138px,#88f 0 1140px,#aaf 0 1142px,#ddf 0 1144px,#eef 0 1146px,#77f 0 1148px,#99f 0 1150px,#ccf 0 1152px,#88f 0 1154px,#bbf 0 1156px,#ccf 0 1158px,#aaf 0 1160px,#55f 0 1166px,#66f 0 1168px,#55f 0 1170px,#66f 0 1172px,#55f 0 1174px,#99f 0 1176px,#77f 0 1180px,#66f 0 1184px,#99f 0 1186px,#66f 0 1188px,#99f 0 1192px,#55f 0 1194px,#99f 0 1196px,#aaf 0 1198px,#88f 0 1200px,#66f 0 1202px,#bbf 0 1204px,#66f 0 1206px,#77f 0 1208px,#aaf 0 1210px,#66f 0 1212px,#77f 0 1214px,#66f 0 1216px,#77f 0 1218px,#44f 0 1220px,#55f 0 1222px,#aaf 0 1224px,#55f 0 1226px,#99f 0 1230px,#88f 0 1232px,#99f 0 1234px,#88f 0 1236px,#77f 0 1238px,#55f 0 1240px,#77f 0 1242px,#66f 0 1246px,#ccf 0 1248px,#66f 0 1250px,#88f 0 1252px,#99f 0 1254px,#55f 0 1256px,#77f 0 1258px,#bbf 0 1260px,#99f 0 1266px,#bbf 0 1268px,#44f 0 1270px,#66f 0 1272px,#88f 0 1274px,#55f 0 1276px,#66f 0 1278px,#44f 0 1280px,#55f 0 1282px,#77f 0 1284px,#66f 0 1288px,#44f 0 1290px,#99f 0 1292px,#88f 0 1294px,#77f 0 1298px,#88f 0 1300px,#77f 0 1302px,#88f 0 1306px,#55f 0 1310px,#77f 0 1312px,#66f 0 1316px,#88f 0 1318px,#77f 0 1320px,#88f 0 1322px,#77f 0 1326px,#99f 0 1328px,#77f 0 1332px,#66f 0 1334px,#88f 0 1336px,#99f 0 1338px,#88f 0 1340px,#99f 0 1348px,#66f 0 1350px,#88f 0 1352px,#55f 0 1354px,#bbf 0 1356px,#99f 0 1358px,#eef 0 1362px,#bbf 0 1370px,#eef 0 1372px,#bbf 0 1376px,#fff 0 1378px,#ddf 0 1380px,#eef 0 1382px,#ddf 0 1384px,#ccf 0 1388px,#bbf 0 1390px,#aaf 0 1392px,#eef 0 1394px,#ccf 0 1396px,#ddf 0 1398px,#bbf 0 1402px,#eef 0)"></div>
<div style="position:absolute;left:550px;top:96px;width:147px;height:1404px;background:linear-gradient(#aaf 0 2px,#99f 0 4px,#ccf 0 10px,#ddf 0 12px,#ccf 0 14px,#ddf 0 20px,#eef 0 22px,#ddf 0 24px,#eef 0 26px,#fff 0 28px,#fee 0 34px,#fff 0 36px,#fdd 0 38px,#fff 0 40px,#fee 0 44px,#eef 0 46px,#ccf 0 48px,#bbf 0 50px,#ccf 0 52px,#aaf 0 54px,#ccf 0 56px,#bbf 0 58px,#99f 0 60px,#aaf 0 62px,#ccf 0 66px,#aaf 0 68px,#88f 0 70px,#ccf 0 72px,#aaf 0 74px,#bbf 0 76px,#fff 0 82px,#ddf 0 84px,#eef 0 88px,#fff 0 92px,#eef 0 94px,#fff 0 100px,#eef 0 102px,#fee 0 106px,#ddf 0 108px,#fff 0 110px,#fee 0 112px,#eef 0 114px,#fff 0 116px,#fdd 0 118px,#fee 0 120px,#fdd 0 122px,#fee 0 126px,#fbb 0 128px,#fee 0 130px,#fdd 0 132px,#fee 0 134px,#fff 0 138px,#fee 0 140px,#eef 0 142px,#fff 0 146px,#eef 0 148px,#fee 0 152px,#fff 0 158px,#eef 0 162px,#fff 0 164px,#eef 0 166px,#fff 0 168px,#fdd 0 170px,#fee 0 172px,#eef 0 174px,#fff 0 176px,#eef 0 178px,#fff 0 184px,#eef 0 186px,#fff 0 188px,#eef 0 192px,#fff 0 194px,#fee 0 196px,#fff 0 202px,#eef 0 204px,#fee 0 206px,#eef 0 210px,#fff 0 212px,#fdd 0 214px,#fee 0 218px,#fcc 0 220px,#fdd 0 222px,#ddf 0 224px,#fff 0 226px,#fdd 0 228px,#99f 0 230px,#aaf 0 232px,#ccf 0 234px,#fdd 0 236px,#aaf 0 238px,#ddf 0 240px,#ccf 0 244px,#ddf 0 248px,#fdd 0 250px,#fcc 0 252px,#fee 0 254px,#fcc 0 256px,#fee 0 258px,#fdd 0 260px,#fee 0 264px,#fdd 0 266px,#eef 0 268px,#fdd 0 270px,#fee 0 272px,#fcc 0 274px,#fdd 0 276px,#ddf 0 280px,#fdd 0 282px,#fff 0 284px,#fdd 0 286px,#fee 0 290px,#fdd 0 294px,#fee 0 298px,#fcc 0 300px,#fdd 0 302px,#fee 0 304px,#fdd 0 306px,#fcc 0 308px,#fee 0 310px,#fdd 0 312px,#fee 0 316px,#ccf 0 320px,#aaf 0 322px,#99f 0 324px,#ccf 0 326px,#ddf 0 330px,#ccf 0 338px,#aaf 0 340px,#ccf 0 342px,#bbf 0 344px,#99f 0 346px,#ddf 0 348px,#bbf 0 350px,#aaf 0 354px,#bbf 0 356px,#ddf 0 358px,#eef 0 360px,#ccf 0 362px,#88f 0 364px,#fff 0 366px,#99f 0 368px,#bbf 0 370px,#fff 0 372px,#aaf 0 374px,#ccf 0 376px,#99f 0 378px,#aaf 0 380px,#ccf 0 382px,#bbf 0 384px,#aaf 0 386px,#ccf 0 388px,#bbf 0 390px,#99f 0 392px,#bbf 0 394px,#99f 0 396px,#eef 0 398px,#ccf 0 400px,#eef 0 402px,#ddf 0 404px,#fff 0 406px,#bbf 0 408px,#fff 0 410px,#eef 0 412px,#fff 0 414px,#fee 0 416px,#eef 0 418px,#fee 0 424px,#ddf 0 426px,#fdd 0 428px,#ccf 0 430px,#eef 0 432px,#99f 0 434px,#bbf 0 436px,#eef 0 438px,#fee 0 440px,#99f 0 444px,#ddf 0 446px,#ccf 0 448px,#88f 0 450px,#fff 0 452px,#aaf 0 454px,#99f 0 456px,#ddf 0 458px,#aaf 0 460px,#ddf 0 462px,#eef 0 464px,#fee 0 466px,#fff 0 468px,#fdd 0 470px,#eef 0 474px,#ddf 0 476px,#99f 0 478px,#aaf 0 480px,#77f 0 482px,#88f 0 484px,#bbf 0 488px,#88f 0 490px,#bbf 0 492px,#77f 0 494px,#99f 0 498px,#77f 0 502px,#88f 0 504px,#99f 0 506px,#aaf 0 510px,#bbf 0 512px,#aaf 0 514px,#bbf 0 516px,#88f 0 518px,#99f 0 520px,#22f 0 522px,#55f 0 524px,#44f 0 530px,#00f 0 532px,#33f 0 534px,#88f 0 544px,#77f 0 546px,#99f 0 548px,#aaf 0 550px,#77f 0 552px,#99f 0 554px,#aaf 0 556px,#99f 0 558px,#aaf 0 560px,#eef 0 562px,#ddf 0 564px,#aaf 0 566px,#99f 0 570px,#88f 0 572px,#eef 0 574px,#77f 0 576px,#ccf 0 578px,#99f 0 580px,#aaf 0 582px,#99f 0 586px,#bbf 0 590px,#88f 0 594px,#ccf 0 598px,#aaf 0 600px,#ccf 0 606px,#bbf 0 608px,#aaf 0 610px,#bbf 0 612px,#ccf 0 614px,#aaf 0 616px,#bbf 0 618px,#ddf 0 620px,#bbf 0 622px,#ddf 0 624px,#ccf 0 626px,#99f 0 632px,#88f 0 634px,#aaf 0 638px,#ddf 0 640px,#aaf 0 644px,#88f 0 646px,#99f 0 648px,#aaf 0 650px,#bbf 0 652px,#ccf 0 654px,#77f 0 656px,#aaf 0 660px,#88f 0 662px,#aaf 0 664px,#88f 0 666px,#99f 0 668px,#88f 0 670px,#aaf 0 672px,#99f 0 674px,#77f 0 678px,#88f 0 680px,#77f 0 682px,#f22 0 684px,#f88 0 686px,#f33 0 688px,#f22 0 692px,#f55 0 694px,#fdd 0 696px,#fee 0 698px,#fcc 0 700px,#faa 0 702px,#fcc 0 704px,#f99 0 706px,#fcc 0 710px,#fee 0 712px,#fbb 0 714px,#fcc 0 718px,#fee 0 720px,#ddf 0 722px,#fdd 0 724px,#fee 0 728px,#fcc 0 730px,#fbb 0 732px,#fcc 0 734px,#fff 0 736px,#faa 0 738px,#fff 0 740px,#f66 0 742px,#fbb 0 744px,#fcc 0 746px,#f99 0 748px,#faa 0 750px,#fbb 0 754px,#faa 0 756px,#eef 0 758px,#fcc 0 760px,#fbb 0 762px,#faa 0 764px,#fcc 0 768px,#eef 0 770px,#fdd 0 774px,#fee 0 776px,#fcc 0 778px,#fff 0 782px,#fee 0 788px,#fdd 0 790px,#fcc 0 792px,#fee 0 796px,#fdd 0 802px,#fee 0 806px,#eef 0 808px,#fee 0 810px,#faa 0 814px,#f88 0 816px,#f77 0 818px,#faa 0 824px,#f88 0 826px,#faa 0 828px,#fbb 0 830px,#f66 0 832px,#f77 0 834px,#faa 0 836px,#f99 0 838px,#f66 0 840px,#f77 0 842px,#f44 0 844px,#f66 0 846px,#f44 0 848px,#f77 0 850px,#f55 0 852px,#f66 0 854px,#f77 0 856px,#f55 0 858px,#f66 0 860px,#f44 0 862px,#f77 0 864px,#f55 0 866px,#f88 0 868px,#f66 0 870px,#f55 0 872px,#f44 0 874px,#f66 0 876px,#f88 0 882px,#f66 0 884px,#f99 0 886px,#faa 0 890px,#f77 0 892px,#f99 0 894px,#faa 0 896px,#f77 0 898px,#f88 0 900px,#f66 0 902px,#f55 0 904px,#f88 0 906px,#f55 0 908px,#faa 0 910px,#f77 0 912px,#f99 0 914px,#f66 0 916px,#fdd 0 918px,#f99 0 922px,#fcc 0 924px,#faa 0 926px,#f66 0 928px,#f88 0 930px,#f99 0 934px,#f77 0 936px,#faa 0 938px,#f88 0 940px,#f99 0 942px,#faa 0 944px,#f88 0 946px,#faa 0 948px,#fcc 0 950px,#f99 0 952px,#fcc 0 954px,#fbb 0 956px,#faa 0 958px,#fbb 0 964px,#fdd 0 966px,#fcc 0 968px,#f99 0 970px,#fbb 0 972px,#fcc 0 980px,#fee 0 982px,#fcc 0 984px,#fdd 0 986px,#fbb 0 990px,#f99 0 992px,#fbb 0 994px,#fdd 0 996px,#fcc 0 998px,#faa 0 1000px,#fbb 0 1002px,#f99 0 1004px,#faa 0 1006px,#f99 0 1008px,#faa 0 1010px,#f99 0 1014px,#fcc 0 1016px,#fbb 0 1018px,#eef 0 1020px,#f99 0 1022px,#fdd 0 1024px,#faa 0 1026px,#fcc 0 1028px,#f99 0 1032px,#fee 0 1034px,#fcc 0 1036px,#fbb 0 1040px,#faa 0 1042px,#fbb 0 1046px,#faa 0 1048px,#f99 0 1052px,#fbb 0 1054px,#fcc 0 1056px,#fdd 0 1058px,#fcc 0 1062px,#fdd 0 1064px,#fcc 0 1066px,#fbb 0 1068px,#fcc 0 1070px,#f99 0 1072px,#fcc 0 1074px,#fbb 0 1076px,#fcc 0 1080px,#eef 0 1082px,#fbb 0 1084px,#ddf 0 1086px,#fcc 0 1088px,#fee 0 1092px,#fff 0 1094px,#fee 0 1096px,#fdd 0 1098px,#eef 0 1100px,#ddf 0 1102px,#fff 0 1108px,#eef 0 1110px,#fff 0 1112px,#eef 0 1120px,#fdd 0 1122px,#ddf 0 1124px,#fff 0 1126px,#ddf 0 1128px,#fee 0 1130px,#eef 0 1132px,#fff 0 1136px,#ddf 0 1138px,#fee 0 1140px,#eef 0 1142px,#ddf 0 1144px,#fff 0 1146px,#eef 0 1148px,#ddf 0 1150px,#fff 0 1152px,#eef 0 1156px,#fbb 0 1158px,#faa 0 1162px,#fdd 0 1164px,#faa 0 1166px,#fbb 0 1168px,#fcc 0 1170px,#fdd 0 1172px,#faa 0 1176px,#fcc 0 1178px,#fbb 0 1180px,#f88 0 1182px,#fbb 0 1184px,#f99 0 1188px,#fcc 0 1190px,#fbb 0 1192px,#fdd 0 1194px,#fcc 0 1196px,#fbb 0 1200px,#fdd 0 1206px,#eef 0 1208px,#fff 0 1214px,#ddf 0 1218px,#eef 0 1220px,#fdd 0 1222px,#fee 0 1224px,#fff 0 1228px,#fee 0 1230px,#fdd 0 1236px,#fee 0 1240px,#ddf 0 1242px,#fee 0 1244px,#fff 0 1246px,#ddf 0 1248px,#eef 0 1250px,#fee 0 1252px,#fff 0 1254px,#fee 0 1256px,#eef 0 1260px,#fff 0 1266px,#eef 0 1268px,#fff 0 1270px,#eef 0 1272px,#fee 0 1274px,#fff 0 1278px,#eef 0 1282px,#fff 0 1284px,#fee 0 1288px,#fff 0 1290px,#eef 0 1294px,#ddf 0 1296px,#fff 0 1298px,#eef 0 1302px,#fff 0 1304px,#fee 0 1306px,#eef 0 1308px,#fff 0 1312px,#fee 0 1318px,#fff 0 1320px,#fee 0 1324px,#eef 0 1326px,#fee 0 1328px,#fff 0 1330px,#fee 0 1332px,#eef 0 1334px,#ddf 0 1336px,#fff 0 1342px,#fee 0 1344px,#eef 0 1348px,#fff 0 1352px,#eef 0 1356px,#fee 0 1358px,#eef 0 1360px,#fcc 0 1362px,#fff 0 1364px,#eef 0 1368px,#fee 0 1370px,#fff 0 1372px,#fee 0 1376px,#fdd 0 1380px,#fee 0 1382px,#fff 0 1388px,#fee 0 1396px,#fcc 0 1398px,#fff 0 1402px,#fee 0)"></div>
<div style="position:absolute;left:697px;top:96px;width:145px;height:1404px;background:linear-gradient(#88f 0 4px,#99f 0 6px,#88f 0 8px,#66f 0 10px,#99f 0 12px,#bbf 0 14px,#66f 0 16px,#88f 0 18px,#ccf 0 20px,#88f 0 22px,#77f 0 24px,#55f 0 26px,#77f 0 28px,#66f 0 30px,#88f 0 32px,#66f 0 34px,#99f 0 36px,#44f 0 38px,#66f 0 40px,#88f 0 42px,#66f 0 44px,#bbf 0 46px,#99f 0 48px,#bbf 0 50px,#ddf 0 52px,#aaf 0 54px,#ccf 0 58px,#aaf 0 60px,#77f 0 64px,#aaf 0 66px,#ccf 0 68px,#00f 0 70px,#11f 0 72px,#55f 0 74px,#66f 0 76px,#77f 0 78px,#22f 0 80px,#44f 0 82px,#33f 0 84px,#99f 0 86px,#55f 0 90px,#66f 0 94px,#55f 0 96px,#77f 0 98px,#55f 0 100px,#99f 0 102px,#66f 0 108px,#55f 0 110px,#22f 0 112px,#55f 0 114px,#88f 0 116px,#66f 0 118px,#88f 0 120px,#44f 0 122px,#33f 0 124px,#11f 0 126px,#33f 0 128px,#55f 0 130px,#44f 0 134px,#55f 0 136px,#88f 0 138px,#66f 0 140px,#77f 0 142px,#55f 0 144px,#44f 0 146px,#55f 0 150px,#66f 0 152px,#44f 0 154px,#55f 0 158px,#44f 0 160px,#55f 0 162px,#44f 0 164px,#55f 0 166px,#77f 0 168px,#55f 0 170px,#77f 0 172px,#66f 0 180px,#aaf 0 182px,#77f 0 184px,#88f 0 190px,#99f 0 192px,#77f 0 196px,#22f 0 198px,#55f 0 200px,#33f 0 202px,#44f 0 204px,#66f 0 206px,#77f 0 208px,#99f 0 210px,#88f 0 212px,#66f 0 214px,#77f 0 216px,#66f 0 222px,#88f 0 224px,#44f 0 226px,#66f 0 228px,#99f 0 232px,#bbf 0 234px,#aaf 0 236px,#88f 0 240px,#bbf 0 242px,#aaf 0 244px,#99f 0 248px,#aaf 0 250px,#77f 0 252px,#99f 0 254px,#33f 0 256px,#88f 0 258px,#55f 0 260px,#99f 0 262px,#44f 0 264px,#77f 0 266px,#bbf 0 268px,#55f 0 270px,#99f 0 272px,#77f 0 274px,#99f 0 276px,#77f 0 280px,#99f 0 282px,#aaf 0 284px,#55f 0 286px,#99f 0 288px,#77f 0 290px,#88f 0 292px,#66f 0 294px,#aaf 0 296px,#88f 0 298px,#aaf 0 300px,#99f 0 302px,#aaf 0 304px,#99f 0 306px,#77f 0 308px,#88f 0 310px,#bbf 0 312px,#aaf 0 314px,#ccf 0 316px,#aaf 0 318px,#55f 0 320px,#66f 0 322px,#77f 0 330px,#88f 0 332px,#55f 0 334px,#66f 0 336px,#55f 0 338px,#77f 0 340px,#55f 0 342px,#77f 0 346px,#aaf 0 348px,#77f 0 350px,#66f 0 352px,#55f 0 354px,#66f 0 356px,#55f 0 358px,#88f 0 362px,#77f 0 366px,#66f 0 368px,#55f 0 370px,#99f 0 372px,#77f 0 376px,#55f 0 378px,#66f 0 380px,#88f 0 382px,#77f 0 384px,#66f 0 386px,#77f 0 392px,#99f 0 394px,#88f 0 396px,#99f 0 398px,#77f 0 400px,#44f 0 402px,#66f 0 406px,#88f 0 412px,#aaf 0 414px,#99f 0 418px,#aaf 0 420px,#bbf 0 422px,#99f 0 424px,#77f 0 426px,#99f 0 428px,#88f 0 430px,#77f 0 434px,#55f 0 436px,#33f 0 438px,#55f 0 440px,#33f 0 444px,#99f 0 446px,#77f 0 448px,#99f 0 450px,#55f 0 452px,#88f 0 454px,#33f 0 456px,#55f 0 458px,#44f 0 460px,#66f 0 462px,#33f 0 466px,#44f 0 468px,#55f 0 470px,#88f 0 472px,#99f 0 474px,#22f 0 476px,#77f 0 478px,#66f 0 482px,#77f 0 484px,#99f 0 486px,#88f 0 488px,#77f 0 494px,#88f 0 500px,#77f 0 502px,#ccf 0 504px,#77f 0 506px,#99f 0 508px,#77f 0 510px,#bbf 0 512px,#88f 0 514px,#99f 0 520px,#66f 0 522px,#aaf 0 526px,#99f 0 528px,#77f 0 530px,#88f 0 532px,#55f 0 534px,#aaf 0 536px,#66f 0 538px,#99f 0 540px,#aaf 0 542px,#77f 0 544px,#66f 0 546px,#77f 0 550px,#66f 0 554px,#55f 0 556px,#77f 0 558px,#66f 0 560px,#88f 0 562px,#44f 0 564px,#77f 0 566px,#88f 0 568px,#99f 0 570px,#aaf 0 572px,#77f 0 574px,#88f 0 576px,#55f 0 578px,#77f 0 580px,#aaf 0 582px,#99f 0 584px,#66f 0 586px,#77f 0 588px,#88f 0 592px,#66f 0 596px,#55f 0 598px,#66f 0 600px,#88f 0 602px,#77f 0 606px,#66f 0 608px,#77f 0 610px,#44f 0 612px,#77f 0 614px,#55f 0 616px,#44f 0 618px,#66f 0 620px,#33f 0 622px,#66f 0 624px,#88f 0 626px,#66f 0 628px,#44f 0 630px,#55f 0 632px,#77f 0 634px,#99f 0 636px,#77f 0 638px,#ccf 0 640px,#eef 0 642px,#ddf 0 648px,#aaf 0 650px,#88f 0 652px,#aaf 0 654px,#99f 0 656px,#aaf 0 658px,#bbf 0 662px,#88f 0 666px,#aaf 0 668px,#88f 0 670px,#bbf 0 672px,#99f 0 674px,#88f 0 676px,#99f 0 678px,#88f 0 680px,#77f 0 682px,#fbb 0 686px,#fff 0 688px,#fdd 0 690px,#fbb 0 692px,#f77 0 694px,#f99 0 696px,#f77 0 698px,#f99 0 700px,#f88 0 702px,#f66 0 704px,#f77 0 706px,#f88 0 708px,#f66 0 710px,#f99 0 712px,#f66 0 714px,#faa 0 716px,#f55 0 718px,#f88 0 720px,#f99 0 722px,#f77 0 726px,#f66 0 728px,#f88 0 732px,#faa 0 734px,#f77 0 736px,#f99 0 738px,#f44 0 740px,#f77 0 742px,#f66 0 744px,#f77 0 746px,#f99 0 750px,#f88 0 752px,#f66 0 754px,#faa 0 756px,#f77 0 758px,#f66 0 760px,#f77 0 762px,#f88 0 764px,#f55 0 766px,#f88 0 768px,#f77 0 770px,#f66 0 772px,#f55 0 774px,#f66 0 776px,#f88 0 778px,#f66 0 780px,#f55 0 782px,#f77 0 784px,#faa 0 786px,#f77 0 788px,#f99 0 790px,#f66 0 794px,#f88 0 796px,#f99 0 798px,#f77 0 800px,#f99 0 802px,#f88 0 804px,#f77 0 806px,#f88 0 808px,#f77 0 810px,#faa 0 812px,#f88 0 816px,#f99 0 818px,#f88 0 820px,#f66 0 822px,#f77 0 824px,#f55 0 826px,#f77 0 828px,#f99 0 830px,#f88 0 834px,#f77 0 838px,#fcc 0 840px,#ddf 0 842px,#fee 0 846px,#fdd 0 852px,#fff 0 858px,#f99 0 860px,#faa 0 862px,#fcc 0 864px,#fbb 0 866px,#f99 0 868px,#f88 0 870px,#faa 0 872px,#f99 0 874px,#fee 0 876px,#f99 0 880px,#faa 0 882px,#fdd 0 884px,#f99 0 886px,#faa 0 888px,#f88 0 890px,#f77 0 892px,#fbb 0 894px,#f99 0 896px,#fbb 0 898px,#f99 0 900px,#fbb 0 902px,#faa 0 904px,#f77 0 908px,#faa 0 910px,#f88 0 912px,#f66 0 914px,#f99 0 916px,#faa 0 918px,#f88 0 920px,#f77 0 922px,#f66 0 924px,#f88 0 928px,#faa 0 930px,#fdd 0 932px,#fbb 0 938px,#faa 0 940px,#fcc 0 942px,#fdd 0 946px,#fbb 0 948px,#f88 0 950px,#fcc 0 954px,#fbb 0 956px,#f99 0 958px,#faa 0 964px,#fcc 0 966px,#fdd 0 968px,#f99 0 970px,#fbb 0 974px,#f99 0 976px,#fcc 0 978px,#f88 0 980px,#fdd 0 982px,#fff 0 984px,#faa 0 986px,#fbb 0 988px,#f99 0 990px,#fdd 0 992px,#f99 0 994px,#fcc 0 996px,#f88 0 998px,#faa 0 1000px,#f88 0 1002px,#f66 0 1004px,#fcc 0 1008px,#f66 0 1010px,#f88 0 1012px,#f77 0 1014px,#f55 0 1016px,#f77 0 1018px,#f88 0 1020px,#f66 0 1022px,#f55 0 1024px,#f66 0 1026px,#f55 0 1030px,#f44 0 1034px,#f88 0 1036px,#f55 0 1038px,#f77 0 1040px,#f99 0 1042px,#f88 0 1044px,#f99 0 1046px,#f66 0 1054px,#f88 0 1056px,#f99 0 1058px,#f88 0 1060px,#f77 0 1062px,#f66 0 1064px,#f44 0 1066px,#f77 0 1070px,#f44 0 1072px,#f66 0 1074px,#f55 0 1078px,#f88 0 1080px,#f55 0 1084px,#f44 0 1088px,#f33 0 1090px,#f44 0 1094px,#f33 0 1096px,#f66 0 1104px,#faa 0 1106px,#f88 0 1110px,#f77 0 1112px,#f55 0 1116px,#f77 0 1120px,#f99 0 1122px,#f55 0 1124px,#f44 0 1126px,#f88 0 1128px,#f77 0 1136px,#f88 0 1138px,#f44 0 1140px,#f77 0 1142px,#f55 0 1144px,#f44 0 1150px,#f66 0 1152px,#f55 0 1154px,#f44 0 1156px,#f66 0 1158px,#f99 0 1160px,#f77 0 1162px,#f55 0 1164px,#f66 0 1166px,#f88 0 1168px,#f66 0 1174px,#f88 0 1178px,#f77 0 1180px,#f88 0 1182px,#f99 0 1186px,#f88 0 1188px,#f55 0 1190px,#f77 0 1192px,#faa 0 1194px,#f55 0 1196px,#fcc 0 1198px,#f44 0 1200px,#f55 0 1202px,#f77 0 1204px,#f44 0 1206px,#f88 0 1210px,#f77 0 1212px,#f99 0 1214px,#f88 0 1216px,#f99 0 1218px,#f88 0 1220px,#f55 0 1222px,#f66 0 1226px,#f88 0 1228px,#f44 0 1230px,#f66 0 1238px,#f44 0 1240px,#f77 0 1242px,#f55 0 1244px,#f77 0 1246px,#f66 0 1250px,#f88 0 1252px,#f66 0 1254px,#f77 0 1256px,#f55 0 1258px,#f99 0 1260px,#f77 0 1262px,#f99 0 1264px,#f77 0 1266px,#f88 0 1268px,#f66 0 1270px,#f77 0 1272px,#f88 0 1274px,#f99 0 1278px,#fbb 0 1280px,#f99 0 1282px,#f77 0 1284px,#f88 0 1286px,#f77 0 1288px,#faa 0 1290px,#f99 0 1292px,#f88 0 1294px,#f77 0 1296px,#f88 0 1298px,#f66 0 1300px,#f77 0 1302px,#f55 0 1306px,#f66 0 1308px,#f88 0 1310px,#f77 0 1312px,#faa 0 1314px,#f88 0 1320px,#f55 0 1322px,#f44 0 1326px,#f66 0 1332px,#f88 0 1334px,#f66 0 1338px,#f88 0 1342px,#f77 0 1344px,#faa 0 1346px,#f55 0 1348px,#f66 0 1350px,#f99 0 1352px,#f77 0 1354px,#f66 0 1356px,#f55 0 1358px,#f77 0 1364px,#f55 0 1366px,#f44 0 1368px,#f55 0 1370px,#f66 0 1372px,#f88 0 1374px,#f66 0 1378px,#f44 0 1380px,#f22 0 1382px,#f77 0 1384px,#f66 0 1386px,#f44 0 1388px,#f66 0 1392px,#f44 0 1394px,#f77 0 1396px,#f44 0 1398px,#f55 0 1400px,#f66 0)"></div>
<div style="position:absolute;left:842px;top:96px;width:147px;height:1404px;background:linear-gradient(#88f 0 2px,#77f 0 6px,#88f 0 8px,#66f 0 10px,#77f 0 12px,#88f 0 14px,#99f 0 16px,#ccf 0 18px,#ddf 0 20px,#88f 0 22px,#77f 0 24px,#33f 0 26px,#44f 0 28px,#22f 0 30px,#33f 0 32px,#44f 0 34px,#33f 0 38px,#66f 0 40px,#44f 0 42px,#88f 0 44px,#44f 0 46px,#33f 0 48px,#44f 0 50px,#33f 0 52px,#55f 0 56px,#44f 0 58px,#88f 0 60px,#66f 0 62px,#55f 0 64px,#44f 0 66px,#77f 0 68px,#66f 0 70px,#aaf 0 72px,#88f 0 74px,#bbf 0 76px,#99f 0 78px,#66f 0 82px,#88f 0 84px,#55f 0 86px,#99f 0 88px,#77f 0 90px,#55f 0 92px,#88f 0 94px,#77f 0 98px,#88f 0 100px,#77f 0 102px,#88f 0 106px,#66f 0 108px,#77f 0 110px,#ccf 0 112px,#77f 0 114px,#88f 0 116px,#77f 0 120px,#66f 0 122px,#bbf 0 124px,#88f 0 126px,#77f 0 128px,#99f 0 130px,#66f 0 136px,#aaf 0 138px,#88f 0 140px,#aaf 0 142px,#77f 0 144px,#88f 0 146px,#ddf 0 148px,#bbf 0 150px,#77f 0 152px,#44f 0 154px,#88f 0 156px,#aaf 0 158px,#88f 0 160px,#aaf 0 162px,#66f 0 164px,#99f 0 166px,#55f 0 168px,#44f 0 170px,#88f 0 172px,#77f 0 174px,#55f 0 176px,#88f 0 178px,#44f 0 180px,#aaf 0 182px,#55f 0 184px,#66f 0 186px,#55f 0 188px,#66f 0 190px,#44f 0 192px,#55f 0 194px,#88f 0 196px,#66f 0 198px,#88f 0 200px,#66f 0 204px,#33f 0 206px,#44f 0 208px,#66f 0 210px,#88f 0 212px,#55f 0 216px,#22f 0 218px,#33f 0 220px,#44f 0 222px,#88f 0 224px,#66f 0 226px,#44f 0 230px,#66f 0 232px,#99f 0 234px,#66f 0 236px,#55f 0 238px,#44f 0 240px,#66f 0 242px,#55f 0 246px,#33f 0 250px,#11f 0 252px,#44f 0 254px,#22f 0 258px,#11f 0 260px,#22f 0 264px,#00f 0 266px,#11f 0 268px,#22f 0 270px,#00f 0 272px,#33f 0 274px,#44f 0 276px,#55f 0 278px,#22f 0 280px,#11f 0 282px,#22f 0 284px,#11f 0 286px,#77f 0 288px,#44f 0 290px,#11f 0 292px,#33f 0 294px,#55f 0 296px,#44f 0 298px,#77f 0 300px,#66f 0 302px,#88f 0 304px,#55f 0 306px,#77f 0 308px,#66f 0 310px,#77f 0 312px,#44f 0 314px,#99f 0 316px,#55f 0 320px,#77f 0 324px,#44f 0 326px,#88f 0 328px,#55f 0 334px,#11f 0 336px,#77f 0 338px,#44f 0 340px,#55f 0 342px,#77f 0 344px,#99f 0 346px,#55f 0 348px,#44f 0 350px,#66f 0 352px,#33f 0 354px,#77f 0 356px,#55f 0 358px,#33f 0 360px,#66f 0 362px,#55f 0 366px,#88f 0 368px,#55f 0 370px,#44f 0 372px,#33f 0 374px,#44f 0 376px,#22f 0 378px,#77f 0 380px,#aaf 0 382px,#66f 0 384px,#55f 0 386px,#66f 0 392px,#77f 0 394px,#55f 0 396px,#44f 0 398px,#66f 0 402px,#77f 0 404px,#44f 0 406px,#33f 0 410px,#66f 0 414px,#55f 0 420px,#66f 0 424px,#aaf 0 426px,#99f 0 430px,#aaf 0 434px,#99f 0 436px,#88f 0 438px,#77f 0 448px,#66f 0 450px,#99f 0 452px,#77f 0 454px,#aaf 0 456px,#88f 0 458px,#66f 0 460px,#99f 0 462px,#88f 0 464px,#aaf 0 466px,#66f 0 468px,#99f 0 470px,#77f 0 472px,#88f 0 474px,#55f 0 476px,#99f 0 482px,#66f 0 484px,#ddf 0 486px,#99f 0 488px,#77f 0 490px,#66f 0 492px,#44f 0 494px,#88f 0 496px,#33f 0 498px,#66f 0 500px,#88f 0 502px,#77f 0 506px,#ccf 0 508px,#99f 0 510px,#77f 0 512px,#88f 0 514px,#99f 0 516px,#ccf 0 518px,#fee 0 522px,#fff 0 524px,#fdd 0 526px,#fff 0 528px,#eef 0 530px,#fff 0 532px,#99f 0 536px,#bbf 0 538px,#66f 0 540px,#77f 0 542px,#88f 0 544px,#77f 0 550px,#88f 0 554px,#55f 0 556px,#88f 0 558px,#55f 0 560px,#66f 0 562px,#99f 0 564px,#44f 0 566px,#66f 0 568px,#77f 0 570px,#55f 0 572px,#77f 0 574px,#ccf 0 576px,#88f 0 580px,#66f 0 582px,#88f 0 584px,#ccf 0 586px,#88f 0 588px,#77f 0 590px,#88f 0 592px,#aaf 0 596px,#55f 0 598px,#66f 0 602px,#88f 0 604px,#99f 0 606px,#bbf 0 608px,#88f 0 610px,#bbf 0 612px,#88f 0 614px,#bbf 0 616px,#77f 0 618px,#88f 0 620px,#44f 0 622px,#eef 0 624px,#99f 0 628px,#bbf 0 630px,#eef 0 632px,#ddf 0 636px,#ccf 0 638px,#f99 0 640px,#ddf 0 642px,#bbf 0 644px,#fff 0 646px,#bbf 0 648px,#aaf 0 650px,#88f 0 652px,#aaf 0 654px,#99f 0 656px,#ddf 0 658px,#99f 0 662px,#88f 0 666px,#99f 0 670px,#aaf 0 672px,#bbf 0 674px,#99f 0 676px,#88f 0 678px,#aaf 0 680px,#99f 0 682px,#fee 0 690px,#fff 0 692px,#eef 0 694px,#fff 0 696px,#f77 0 698px,#f99 0 700px,#f88 0 702px,#fbb 0 704px,#f99 0 708px,#f66 0 710px,#f88 0 714px,#f77 0 716px,#f88 0 718px,#f99 0 722px,#f88 0 724px,#f66 0 726px,#f33 0 728px,#f77 0 734px,#f55 0 738px,#f88 0 740px,#f77 0 742px,#f55 0 744px,#fcc 0 746px,#f44 0 750px,#f66 0 752px,#f55 0 754px,#f77 0 758px,#f33 0 760px,#f66 0 762px,#f77 0 764px,#f66 0 766px,#f55 0 768px,#f77 0 770px,#f55 0 772px,#f11 0 774px,#f33 0 776px,#f22 0 778px,#f55 0 780px,#f44 0 782px,#f88 0 784px,#f44 0 786px,#f11 0 788px,#f55 0 792px,#f77 0 794px,#f66 0 796px,#f77 0 798px,#f88 0 800px,#f77 0 804px,#f55 0 806px,#f66 0 810px,#f99 0 812px,#f77 0 814px,#f66 0 816px,#f88 0 820px,#f66 0 822px,#f99 0 824px,#f77 0 826px,#f88 0 828px,#fbb 0 832px,#fdd 0 834px,#faa 0 836px,#fbb 0 838px,#faa 0 840px,#f99 0 842px,#fcc 0 844px,#f99 0 846px,#f44 0 848px,#f77 0 850px,#f88 0 852px,#faa 0 854px,#fcc 0 856px,#faa 0 858px,#f88 0 860px,#f55 0 862px,#f99 0 864px,#fbb 0 866px,#f77 0 870px,#f88 0 874px,#f55 0 876px,#faa 0 878px,#f77 0 882px,#fbb 0 884px,#f66 0 886px,#fbb 0 888px,#f99 0 890px,#f77 0 892px,#f88 0 896px,#faa 0 898px,#f55 0 900px,#f66 0 902px,#f99 0 904px,#f44 0 906px,#f88 0 908px,#f33 0 910px,#f22 0 912px,#f44 0 920px,#f88 0 922px,#f44 0 924px,#f77 0 926px,#f88 0 928px,#f22 0 930px,#f66 0 934px,#f77 0 936px,#f33 0 938px,#f44 0 940px,#f55 0 942px,#f44 0 946px,#f11 0 948px,#f44 0 950px,#f33 0 954px,#f11 0 956px,#f55 0 958px,#f33 0 960px,#f44 0 966px,#f55 0 968px,#f66 0 970px,#f22 0 972px,#f44 0 980px,#f66 0 982px,#f22 0 984px,#f88 0 986px,#f55 0 992px,#f00 0 994px,#f55 0 996px,#f66 0 998px,#f55 0 1002px,#f22 0 1004px,#f44 0 1006px,#f33 0 1008px,#f66 0 1010px,#f44 0 1012px,#f33 0 1014px,#f77 0 1016px,#f44 0 1018px,#f33 0 1020px,#f66 0 1022px,#f88 0 1024px,#f66 0 1028px,#f77 0 1030px,#f66 0 1032px,#f77 0 1034px,#fdd 0 1036px,#f44 0 1038px,#fcc 0 1040px,#f66 0 1042px,#f88 0 1048px,#f99 0 1052px,#f88 0 1056px,#f99 0 1058px,#f77 0 1060px,#faa 0 1062px,#f88 0 1064px,#f66 0 1068px,#f55 0 1070px,#f77 0 1074px,#faa 0 1076px,#f77 0 1078px,#f88 0 1080px,#faa 0 1082px,#f99 0 1084px,#f55 0 1086px,#faa 0 1088px,#f55 0 1090px,#f77 0 1092px,#f55 0 1094px,#fcc 0 1096px,#f77 0 1098px,#f66 0 1100px,#fbb 0 1102px,#f77 0 1104px,#f55 0 1106px,#f77 0 1108px,#f66 0 1110px,#faa 0 1112px,#f66 0 1116px,#f77 0 1118px,#fbb 0 1120px,#f55 0 1122px,#f33 0 1124px,#f66 0 1126px,#f55 0 1128px,#f44 0 1130px,#f55 0 1132px,#f88 0 1136px,#f99 0 1138px,#f66 0 1140px,#f77 0 1144px,#f66 0 1146px,#f99 0 1148px,#f88 0 1152px,#f77 0 1154px,#f88 0 1156px,#faa 0 1158px,#f88 0 1160px,#f66 0 1162px,#f77 0 1164px,#fbb 0 1166px,#f77 0 1170px,#f99 0 1176px,#f88 0 1178px,#f66 0 1180px,#f99 0 1184px,#f66 0 1186px,#f88 0 1188px,#f77 0 1190px,#f88 0 1192px,#f77 0 1200px,#f88 0 1202px,#f66 0 1204px,#f33 0 1206px,#f77 0 1214px,#fbb 0 1218px,#f55 0 1220px,#f66 0 1222px,#f77 0 1224px,#f88 0 1228px,#faa 0 1230px,#fbb 0 1232px,#faa 0 1234px,#f88 0 1236px,#f66 0 1238px,#f77 0 1240px,#f88 0 1244px,#f77 0 1246px,#f55 0 1250px,#f44 0 1252px,#f66 0 1254px,#f33 0 1256px,#f88 0 1258px,#f44 0 1260px,#f22 0 1262px,#f66 0 1264px,#f55 0 1268px,#f33 0 1270px,#f55 0 1274px,#f66 0 1276px,#f44 0 1278px,#f66 0 1282px,#f44 0 1284px,#f88 0 1286px,#f55 0 1288px,#f77 0 1290px,#f55 0 1294px,#f66 0 1296px,#f44 0 1298px,#f55 0 1300px,#f77 0 1304px,#f33 0 1306px,#f44 0 1308px,#f33 0 1310px,#f22 0 1312px,#f33 0 1314px,#f88 0 1316px,#f44 0 1318px,#f33 0 1320px,#f99 0 1324px,#f33 0 1326px,#f66 0 1328px,#f55 0 1330px,#f22 0 1336px,#f11 0 1338px,#f22 0 1340px,#f11 0 1342px,#f00 0 1344px,#f66 0 1348px,#f11 0 1350px,#f44 0 1352px,#f66 0 1354px,#f88 0 1356px,#f44 0 1358px,#f66 0 1360px,#f55 0 1362px,#f77 0 1364px,#f22 0 1366px,#f33 0 1368px,#f55 0 1370px,#f77 0 1374px,#f44 0 1376px,#f66 0 1378px,#f77 0 1380px,#f88 0 1382px,#f77 0 1386px,#f66 0 1388px,#f55 0 1390px,#f66 0 1392px,#f88 0 1396px,#f33 0 1398px,#f44 0 1400px,#f77 0 1402px,#f44 0)"></div>
<svg width="3543" height="4783" viewBox="0 0 3543 4783" fill="#000" stroke="none">

<!-- panelA -->

<text transform="translate(16.9 132.7) scale(1.066 1.04)" x="-2.9" y="0" font-size="122" font-weight="bold">A</text>
<path d="M186 93L186 96" stroke="#444" stroke-width="1.5"/>
<path d="M331.5 93L331.5 96" stroke="#444" stroke-width="1.5"/>
<path d="M477 93L477 96" stroke="#444" stroke-width="1.5"/>
<path d="M623.5 93L623.5 96" stroke="#444" stroke-width="1.5"/>
<path d="M769.5 93L769.5 96" stroke="#444" stroke-width="1.5"/>
<path d="M915.5 93L915.5 96" stroke="#444" stroke-width="1.5"/>
<defs><linearGradient id="cbA" x1="0" y1="0" x2="0" y2="1"><stop offset="0" stop-color="#f00"/><stop offset="0.5" stop-color="#fff"/><stop offset="1" stop-color="#00f"/></linearGradient></defs>
<rect x="1009" y="96" width="45" height="511" fill="url(#cbA)"/>
<text x="0" y="0" font-size="34"  transform="translate(1070.5 158) scale(1.200 1)">1.5</text>
<text x="0" y="0" font-size="34"  transform="translate(1070.5 226.5) scale(1.200 1)">1</text>
<text x="0" y="0" font-size="34"  transform="translate(1070.5 295.1) scale(1.200 1)">0.5</text>
<text x="0" y="0" font-size="34"  transform="translate(1070.5 362.9) scale(1.200 1)">0</text>
<text x="0" y="0" font-size="34"  transform="translate(1070.5 431.7) scale(1.200 1)">−0.5</text>
<text x="0" y="0" font-size="34"  transform="translate(1070.5 500.9) scale(1.200 1)">−1</text>
<text x="0" y="0" font-size="34"  transform="translate(1070.5 569.2) scale(1.200 1)">−1.5</text>
<rect x="204" y="1515.5" width="277.5" height="6.5" fill="#000"/>
<rect x="625" y="1515.5" width="278" height="6.5" fill="#000"/>
<g transform="translate(186 1576)"><text x="0" y="0" font-size="43" font-weight="bold">L460fs + Ang</text><path d="M0 -32h34.4v5.8h-34.4zM0 -5.8h34.4v5.8h-34.4zM5.4 -32h7.1v32h-7.1zM21.7 -32h7.1v32h-7.1z" transform="translate(285.3 0)"/></g>
<g transform="translate(761 1576)"><text x="-125.2" y="0" font-size="43" font-weight="bold">WT + Ang</text><path d="M0 -32h34.4v5.8h-34.4zM0 -5.8h34.4v5.8h-34.4zM5.4 -32h7.1v32h-7.1zM21.7 -32h7.1v32h-7.1z" transform="translate(90.8 0)"/></g>

<!-- panelB -->

<text transform="translate(1153.9 132.7) scale(0.982 1.04)" x="-8.1" y="0" font-size="122" font-weight="bold">B</text>
<rect x="1302.8" y="50.8" width="617.2" height="692.8" fill="#fdfdfd"/>
<path d="M1329.4 50.8V743.6M1422.9 50.8V743.6M1516.9 50.8V743.6M1610.4 50.8V743.6M1704.4 50.8V743.6M1798.5 50.8V743.6M1892.6 50.8V743.6M1302.8 81.4H1919.9M1302.8 292.4H1919.9M1302.8 502.8H1919.9M1302.8 713.1H1919.9" stroke="#8a817c" stroke-width="1.6" fill="none"/>
<circle cx="1334.5" cy="114.4" r="12.7" fill="#e8352b"/>
<circle cx="1792.2" cy="167.2" r="12.1" fill="#e8352b"/>
<circle cx="1341.5" cy="223.1" r="12.7" fill="#e8352b"/>
<circle cx="1338.3" cy="284.7" r="13.3" fill="#e8352b"/>
<circle cx="1349.2" cy="296.8" r="12.1" fill="#e8352b"/>
<circle cx="1400" cy="294.3" r="14" fill="#e8352b"/>
<circle cx="1328.8" cy="331.1" r="8.3" fill="#e8352b"/>
<circle cx="1329.4" cy="429.7" r="11.4" fill="#e8352b"/>
<circle cx="1369.5" cy="433.5" r="11.4" fill="#e8352b"/>
<circle cx="1430.5" cy="485.6" r="8.9" fill="#e8352b"/>
<circle cx="1619.3" cy="486.2" r="7.6" fill="#e8352b"/>
<circle cx="1503" cy="505.9" r="8.9" fill="#e8352b"/>
<circle cx="1329.4" cy="527.5" r="5.1" fill="#e8352b"/>
<circle cx="1457.8" cy="532.6" r="7.6" fill="#e8352b"/>
<circle cx="1451.5" cy="565" r="6.4" fill="#e8352b"/>
<circle cx="1464.8" cy="565.7" r="8.3" fill="#e8352b"/>
<circle cx="1480.7" cy="570.8" r="8.3" fill="#e8352b"/>
<circle cx="1532.2" cy="562.5" r="8.3" fill="#e8352b"/>
<circle cx="1479.4" cy="582.8" r="8.9" fill="#e8352b"/>
<circle cx="1464.8" cy="587.3" r="7.6" fill="#e8352b"/>
<circle cx="1408.9" cy="593" r="10.2" fill="#e8352b"/>
<circle cx="1414.6" cy="599.4" r="7.6" fill="#e8352b"/>
<circle cx="1441.9" cy="593" r="9.5" fill="#e8352b"/>
<circle cx="1525.8" cy="604.4" r="10.2" fill="#e8352b"/>
<circle cx="1466.7" cy="615.3" r="10.8" fill="#e8352b"/>
<circle cx="1515" cy="620.3" r="9.5" fill="#dc3034"/>
<circle cx="1457.2" cy="626.1" r="9.5" fill="#d2303a"/>
<circle cx="1435" cy="629.9" r="9.5" fill="#cc3040"/>
<circle cx="1465.5" cy="632.4" r="7.6" fill="#b03050"/>
<circle cx="1478.8" cy="632.4" r="7.6" fill="#c03045"/>
<circle cx="1329.4" cy="631.1" r="5.7" fill="#c03045"/>
<circle cx="1339" cy="634.3" r="7" fill="#c83040"/>
<circle cx="1329.4" cy="639.4" r="5.1" fill="#a03055"/>
<circle cx="1408.9" cy="630.5" r="5.7" fill="#c03045"/>
<circle cx="1412.1" cy="635.6" r="4.4" fill="#c03045"/>
<circle cx="1464.2" cy="640" r="7" fill="#a03058"/>
<circle cx="1432.4" cy="646.4" r="7" fill="#903060"/>
<circle cx="1624.4" cy="640" r="7" fill="#a03058"/>
<circle cx="1819.5" cy="639.4" r="6.4" fill="#a03058"/>
<circle cx="1565.9" cy="648.3" r="8.9" fill="#8a3060"/>
<circle cx="1512.5" cy="645.8" r="1.9" fill="#c03045"/>
<circle cx="1391.7" cy="648.9" r="7" fill="#6a3068"/>
<circle cx="1357.4" cy="655.9" r="5.7" fill="#3b3068"/>
<circle cx="1411.4" cy="657.2" r="8.3" fill="#353060"/>
<circle cx="1417.8" cy="657.2" r="8.9" fill="#353060"/>
<circle cx="1424.8" cy="657.2" r="9.5" fill="#353060"/>
<rect x="1302.8" y="50.8" width="617.2" height="692.8" fill="none" stroke="#000" stroke-width="3"/>
<path d="M1302.8 81.4h-5M1302.8 292.4h-5M1302.8 502.8h-5M1302.8 713.1h-5M1329.4 743.6v5M1516.9 743.6v5M1704.4 743.6v5M1892.6 743.6v5" stroke="#333" stroke-width="2" fill="none"/>
<text x="1293.6" y="91.9" font-size="26" font-weight="bold" text-anchor="end" fill="#4d4d4d">15</text>
<text x="1293.6" y="302.9" font-size="26" font-weight="bold" text-anchor="end" fill="#4d4d4d">10</text>
<text x="1293.6" y="513.3" font-size="26" font-weight="bold" text-anchor="end" fill="#4d4d4d">5</text>
<text x="1293.6" y="723.6" font-size="26" font-weight="bold" text-anchor="end" fill="#4d4d4d">0</text>
<text x="1329.4" y="776.7" font-size="26" font-weight="bold" text-anchor="middle" fill="#4d4d4d">0</text>
<text x="1516.9" y="776.7" font-size="26" font-weight="bold" text-anchor="middle" fill="#4d4d4d">1</text>
<text x="1704.4" y="776.7" font-size="26" font-weight="bold" text-anchor="middle" fill="#4d4d4d">2</text>
<text x="1892.6" y="776.7" font-size="26" font-weight="bold" text-anchor="middle" fill="#4d4d4d">3</text>
<text x="1611.6" y="816.7" font-size="39"  text-anchor="middle" fill="#222">Impact</text>
<text x="1230.3" y="392.2" font-size="39.5"  text-anchor="middle" fill="#222" transform="rotate(-90 1230.3 392.2)">-Log10(pvalue)</text>
<path d="M1552.5 458.9L1510 498.9" stroke="#111" stroke-width="2"/>
<text x="1552.5" y="460.8" font-size="23" font-weight="bold" fill="#1a1a1a" textLength="317.8" lengthAdjust="spacingAndGlyphs">Cardiac muscle contraction</text>
<path d="M1391.7 654.7L1394.3 685.2" stroke="#111" stroke-width="2"/>
<text x="1370.8" y="703.6" font-size="23" font-weight="bold" fill="#1a1a1a" textLength="155.1" lengthAdjust="spacingAndGlyphs">Hypertrophic</text>
<text x="1370.8" y="731.6" font-size="23" font-weight="bold" fill="#1a1a1a" textLength="271.4" lengthAdjust="spacingAndGlyphs">cardiomyopathy (HCM)</text>
<text x="1966.9" y="175.4" font-size="21"  fill="#111">pvalue</text>
<defs><linearGradient id="cbB" x1="0" y1="0" x2="0" y2="1"><stop offset="0" stop-color="#2c2d5e"/><stop offset="0.35" stop-color="#6a2f68"/><stop offset="0.7" stop-color="#bd3048"/><stop offset="1" stop-color="#ec362b"/></linearGradient></defs>
<rect x="1966.9" y="190.7" width="35.6" height="181.1" fill="url(#cbB)"/>
<text x="2015.2" y="226.5" font-size="17.5"  fill="#222">0.04</text>
<path d="M1966.9 220.5L1973.9 220.5" stroke="#1a1a1a" stroke-width="1"/>
<path d="M1995.5 220.5L2002.5 220.5" stroke="#1a1a1a" stroke-width="1"/>
<text x="2015.2" y="263.4" font-size="17.5"  fill="#222">0.03</text>
<path d="M1966.9 257.4L1973.9 257.4" stroke="#1a1a1a" stroke-width="1"/>
<path d="M1995.5 257.4L2002.5 257.4" stroke="#1a1a1a" stroke-width="1"/>
<text x="2015.2" y="300.3" font-size="17.5"  fill="#222">0.02</text>
<path d="M1966.9 294.3L1973.9 294.3" stroke="#1a1a1a" stroke-width="1"/>
<path d="M1995.5 294.3L2002.5 294.3" stroke="#1a1a1a" stroke-width="1"/>
<text x="2015.2" y="337.1" font-size="17.5"  fill="#222">0.01</text>
<path d="M1966.9 331.1L1973.9 331.1" stroke="#1a1a1a" stroke-width="1"/>
<path d="M1995.5 331.1L2002.5 331.1" stroke="#1a1a1a" stroke-width="1"/>
<text x="1966.9" y="439.2" font-size="21"  fill="#111">Hits</text>
<rect x="1968.2" y="455.1" width="64.8" height="37.5" fill="#ebebeb"/>
<rect x="1968.2" y="494.5" width="64.8" height="53.4" fill="#ebebeb"/>
<rect x="1968.2" y="549.8" width="64.8" height="64.8" fill="#ebebeb"/>
<circle cx="2001.3" cy="473.5" r="15.9" fill="#111"/>
<circle cx="2001.3" cy="520.5" r="23.5" fill="#111"/>
<circle cx="2001.3" cy="582.2" r="28" fill="#111"/>
<text x="2047" y="479.5" font-size="16.5"  fill="#222">20</text>
<text x="2047" y="526.5" font-size="16.5"  fill="#222">40</text>
<text x="2047" y="588.2" font-size="16.5"  fill="#222">60</text>

<!-- panelC -->

<text transform="translate(1047 962) scale(0.959 1.04)" x="-5" y="0" font-size="122" font-weight="bold">C</text>
<defs><linearGradient id="cbC" x1="0" y1="0" x2="0" y2="1"><stop offset="0" stop-color="#f00"/><stop offset="0.5" stop-color="#fff"/><stop offset="1" stop-color="#00f"/></linearGradient></defs>
<rect x="1192.7" y="874.7" width="16.9" height="246.8" fill="url(#cbC)"/>
<text x="1216.2" y="900.9" font-size="15"  fill="#333">1.5</text>
<text x="1216.2" y="935.2" font-size="15"  fill="#333">1</text>
<text x="1216.2" y="969.5" font-size="15"  fill="#333">0.5</text>
<text x="1216.2" y="1003.8" font-size="15"  fill="#333">0</text>
<text x="1216.2" y="1038.2" font-size="15"  fill="#333">−0.5</text>
<text x="1216.2" y="1072.5" font-size="15"  fill="#333">−1</text>
<text x="1216.2" y="1106.3" font-size="15"  fill="#333">−1.5</text>
<rect x="1266.8" y="871.4" width="57.3" height="38.8" fill="#7777ff" stroke="#999" stroke-width="1"/>
<rect x="1324.1" y="871.4" width="57.3" height="38.8" fill="#adadff" stroke="#999" stroke-width="1"/>
<rect x="1381.4" y="871.4" width="57.3" height="38.8" fill="#adadff" stroke="#999" stroke-width="1"/>
<rect x="1438.7" y="871.4" width="57.3" height="38.8" fill="#fff1f1" stroke="#999" stroke-width="1"/>
<rect x="1496" y="871.4" width="57.3" height="38.8" fill="#ff0000" stroke="#999" stroke-width="1"/>
<rect x="1553.3" y="871.4" width="57.3" height="38.8" fill="#ffd6d6" stroke="#999" stroke-width="1"/>
<text x="1631.8" y="904.8" font-size="32" font-weight="bold">MYBPC3</text>
<rect x="1266.8" y="910.2" width="57.3" height="38.8" fill="#ffebeb" stroke="#999" stroke-width="1"/>
<rect x="1324.1" y="910.2" width="57.3" height="38.8" fill="#a0a0ff" stroke="#999" stroke-width="1"/>
<rect x="1381.4" y="910.2" width="57.3" height="38.8" fill="#2525ff" stroke="#999" stroke-width="1"/>
<rect x="1438.7" y="910.2" width="57.3" height="38.8" fill="#fff4f4" stroke="#999" stroke-width="1"/>
<rect x="1496" y="910.2" width="57.3" height="38.8" fill="#ff7d7d" stroke="#999" stroke-width="1"/>
<rect x="1553.3" y="910.2" width="57.3" height="38.8" fill="#ff6262" stroke="#999" stroke-width="1"/>
<text x="1631.8" y="943.6" font-size="32" font-weight="bold">MYL2</text>
<rect x="1266.8" y="949" width="57.3" height="38.8" fill="#a0a0ff" stroke="#999" stroke-width="1"/>
<rect x="1324.1" y="949" width="57.3" height="38.8" fill="#8b8bff" stroke="#999" stroke-width="1"/>
<rect x="1381.4" y="949" width="57.3" height="38.8" fill="#7777ff" stroke="#999" stroke-width="1"/>
<rect x="1438.7" y="949" width="57.3" height="38.8" fill="#f8f8ff" stroke="#999" stroke-width="1"/>
<rect x="1496" y="949" width="57.3" height="38.8" fill="#ff4e4e" stroke="#999" stroke-width="1"/>
<rect x="1553.3" y="949" width="57.3" height="38.8" fill="#ff4e4e" stroke="#999" stroke-width="1"/>
<text x="1631.8" y="982.4" font-size="32" font-weight="bold">LMNA</text>
<rect x="1266.8" y="987.8" width="57.3" height="38.8" fill="#a0a0ff" stroke="#999" stroke-width="1"/>
<rect x="1324.1" y="987.8" width="57.3" height="38.8" fill="#8b8bff" stroke="#999" stroke-width="1"/>
<rect x="1381.4" y="987.8" width="57.3" height="38.8" fill="#7d7dff" stroke="#999" stroke-width="1"/>
<rect x="1438.7" y="987.8" width="57.3" height="38.8" fill="#ebebff" stroke="#999" stroke-width="1"/>
<rect x="1496" y="987.8" width="57.3" height="38.8" fill="#ff3232" stroke="#999" stroke-width="1"/>
<rect x="1553.3" y="987.8" width="57.3" height="38.8" fill="#ff6969" stroke="#999" stroke-width="1"/>
<text x="1631.8" y="1021.2" font-size="32" font-weight="bold">TPM2</text>
<rect x="1266.8" y="1026.6" width="57.3" height="38.8" fill="#c2c2ff" stroke="#999" stroke-width="1"/>
<rect x="1324.1" y="1026.6" width="57.3" height="38.8" fill="#6969ff" stroke="#999" stroke-width="1"/>
<rect x="1381.4" y="1026.6" width="57.3" height="38.8" fill="#8484ff" stroke="#999" stroke-width="1"/>
<rect x="1438.7" y="1026.6" width="57.3" height="38.8" fill="#fff8f8" stroke="#999" stroke-width="1"/>
<rect x="1496" y="1026.6" width="57.3" height="38.8" fill="#ff5555" stroke="#999" stroke-width="1"/>
<rect x="1553.3" y="1026.6" width="57.3" height="38.8" fill="#ff4e4e" stroke="#999" stroke-width="1"/>
<text x="1631.8" y="1060" font-size="32" font-weight="bold">TNNT2</text>
<rect x="1266.8" y="1065.4" width="57.3" height="38.8" fill="#c8c8ff" stroke="#999" stroke-width="1"/>
<rect x="1324.1" y="1065.4" width="57.3" height="38.8" fill="#8b8bff" stroke="#999" stroke-width="1"/>
<rect x="1381.4" y="1065.4" width="57.3" height="38.8" fill="#5b5bff" stroke="#999" stroke-width="1"/>
<rect x="1438.7" y="1065.4" width="57.3" height="38.8" fill="#fff1f1" stroke="#999" stroke-width="1"/>
<rect x="1496" y="1065.4" width="57.3" height="38.8" fill="#ff5555" stroke="#999" stroke-width="1"/>
<rect x="1553.3" y="1065.4" width="57.3" height="38.8" fill="#ff5555" stroke="#999" stroke-width="1"/>
<text x="1631.8" y="1098.8" font-size="32" font-weight="bold">MYL3</text>
<rect x="1266.8" y="1104.2" width="57.3" height="38.8" fill="#adadff" stroke="#999" stroke-width="1"/>
<rect x="1324.1" y="1104.2" width="57.3" height="38.8" fill="#8484ff" stroke="#999" stroke-width="1"/>
<rect x="1381.4" y="1104.2" width="57.3" height="38.8" fill="#6262ff" stroke="#999" stroke-width="1"/>
<rect x="1438.7" y="1104.2" width="57.3" height="38.8" fill="#ffe4e4" stroke="#999" stroke-width="1"/>
<rect x="1496" y="1104.2" width="57.3" height="38.8" fill="#ff5555" stroke="#999" stroke-width="1"/>
<rect x="1553.3" y="1104.2" width="57.3" height="38.8" fill="#ff5555" stroke="#999" stroke-width="1"/>
<text x="1631.8" y="1137.6" font-size="32" font-weight="bold">PRKAA2</text>
<rect x="1266.8" y="1143" width="57.3" height="38.8" fill="#adadff" stroke="#999" stroke-width="1"/>
<rect x="1324.1" y="1143" width="57.3" height="38.8" fill="#a0a0ff" stroke="#999" stroke-width="1"/>
<rect x="1381.4" y="1143" width="57.3" height="38.8" fill="#5555ff" stroke="#999" stroke-width="1"/>
<rect x="1438.7" y="1143" width="57.3" height="38.8" fill="#ffd6d6" stroke="#999" stroke-width="1"/>
<rect x="1496" y="1143" width="57.3" height="38.8" fill="#ff9999" stroke="#999" stroke-width="1"/>
<rect x="1553.3" y="1143" width="57.3" height="38.8" fill="#ff2525" stroke="#999" stroke-width="1"/>
<text x="1631.8" y="1176.4" font-size="32" font-weight="bold">DES</text>
<rect x="1266.8" y="1181.8" width="57.3" height="38.8" fill="#adadff" stroke="#999" stroke-width="1"/>
<rect x="1324.1" y="1181.8" width="57.3" height="38.8" fill="#8484ff" stroke="#999" stroke-width="1"/>
<rect x="1381.4" y="1181.8" width="57.3" height="38.8" fill="#5555ff" stroke="#999" stroke-width="1"/>
<rect x="1438.7" y="1181.8" width="57.3" height="38.8" fill="#ffbbbb" stroke="#999" stroke-width="1"/>
<rect x="1496" y="1181.8" width="57.3" height="38.8" fill="#ff6969" stroke="#999" stroke-width="1"/>
<rect x="1553.3" y="1181.8" width="57.3" height="38.8" fill="#ff5b5b" stroke="#999" stroke-width="1"/>
<text x="1631.8" y="1215.2" font-size="32" font-weight="bold">TNNI3</text>
<rect x="1266.8" y="1220.6" width="57.3" height="38.8" fill="#c2c2ff" stroke="#999" stroke-width="1"/>
<rect x="1324.1" y="1220.6" width="57.3" height="38.8" fill="#6969ff" stroke="#999" stroke-width="1"/>
<rect x="1381.4" y="1220.6" width="57.3" height="38.8" fill="#6969ff" stroke="#999" stroke-width="1"/>
<rect x="1438.7" y="1220.6" width="57.3" height="38.8" fill="#ffd6d6" stroke="#999" stroke-width="1"/>
<rect x="1496" y="1220.6" width="57.3" height="38.8" fill="#ff5555" stroke="#999" stroke-width="1"/>
<rect x="1553.3" y="1220.6" width="57.3" height="38.8" fill="#ff6262" stroke="#999" stroke-width="1"/>
<text x="1631.8" y="1254" font-size="32" font-weight="bold">ITGA2</text>
<rect x="1266.8" y="1259.4" width="57.3" height="38.8" fill="#a6a6ff" stroke="#999" stroke-width="1"/>
<rect x="1324.1" y="1259.4" width="57.3" height="38.8" fill="#6969ff" stroke="#999" stroke-width="1"/>
<rect x="1381.4" y="1259.4" width="57.3" height="38.8" fill="#7d7dff" stroke="#999" stroke-width="1"/>
<rect x="1438.7" y="1259.4" width="57.3" height="38.8" fill="#ffcfcf" stroke="#999" stroke-width="1"/>
<rect x="1496" y="1259.4" width="57.3" height="38.8" fill="#ff6969" stroke="#999" stroke-width="1"/>
<rect x="1553.3" y="1259.4" width="57.3" height="38.8" fill="#ff4747" stroke="#999" stroke-width="1"/>
<text x="1631.8" y="1292.8" font-size="32" font-weight="bold">TNNC1</text>
<rect x="1266.8" y="1298.2" width="57.3" height="38.8" fill="#a6a6ff" stroke="#999" stroke-width="1"/>
<rect x="1324.1" y="1298.2" width="57.3" height="38.8" fill="#6969ff" stroke="#999" stroke-width="1"/>
<rect x="1381.4" y="1298.2" width="57.3" height="38.8" fill="#8484ff" stroke="#999" stroke-width="1"/>
<rect x="1438.7" y="1298.2" width="57.3" height="38.8" fill="#ffc2c2" stroke="#999" stroke-width="1"/>
<rect x="1496" y="1298.2" width="57.3" height="38.8" fill="#ff6262" stroke="#999" stroke-width="1"/>
<rect x="1553.3" y="1298.2" width="57.3" height="38.8" fill="#ff6262" stroke="#999" stroke-width="1"/>
<text x="1631.8" y="1331.6" font-size="32" font-weight="bold">CACNA2D2</text>
<rect x="1266.8" y="1337" width="57.3" height="38.8" fill="#f1f1ff" stroke="#999" stroke-width="1"/>
<rect x="1324.1" y="1337" width="57.3" height="38.8" fill="#ff0000" stroke="#999" stroke-width="1"/>
<rect x="1381.4" y="1337" width="57.3" height="38.8" fill="#ffb4b4" stroke="#999" stroke-width="1"/>
<rect x="1438.7" y="1337" width="57.3" height="38.8" fill="#6969ff" stroke="#999" stroke-width="1"/>
<rect x="1496" y="1337" width="57.3" height="38.8" fill="#c8c8ff" stroke="#999" stroke-width="1"/>
<rect x="1553.3" y="1337" width="57.3" height="38.8" fill="#a0a0ff" stroke="#999" stroke-width="1"/>
<text x="1631.8" y="1370.4" font-size="32" font-weight="bold">ITGA10</text>
<rect x="1266.8" y="1375.8" width="57.3" height="38.8" fill="#ff3232" stroke="#999" stroke-width="1"/>
<rect x="1324.1" y="1375.8" width="57.3" height="38.8" fill="#fff1f1" stroke="#999" stroke-width="1"/>
<rect x="1381.4" y="1375.8" width="57.3" height="38.8" fill="#ff8b8b" stroke="#999" stroke-width="1"/>
<rect x="1438.7" y="1375.8" width="57.3" height="38.8" fill="#e4e4ff" stroke="#999" stroke-width="1"/>
<rect x="1496" y="1375.8" width="57.3" height="38.8" fill="#5b5bff" stroke="#999" stroke-width="1"/>
<rect x="1553.3" y="1375.8" width="57.3" height="38.8" fill="#7777ff" stroke="#999" stroke-width="1"/>
<text x="1631.8" y="1409.2" font-size="32" font-weight="bold">SGCA</text>
<rect x="1266.8" y="1414.6" width="57.3" height="38.8" fill="#ffbbbb" stroke="#999" stroke-width="1"/>
<rect x="1324.1" y="1414.6" width="57.3" height="38.8" fill="#ff6969" stroke="#999" stroke-width="1"/>
<rect x="1381.4" y="1414.6" width="57.3" height="38.8" fill="#ff7d7d" stroke="#999" stroke-width="1"/>
<rect x="1438.7" y="1414.6" width="57.3" height="38.8" fill="#ddddff" stroke="#999" stroke-width="1"/>
<rect x="1496" y="1414.6" width="57.3" height="38.8" fill="#8484ff" stroke="#999" stroke-width="1"/>
<rect x="1553.3" y="1414.6" width="57.3" height="38.8" fill="#3939ff" stroke="#999" stroke-width="1"/>
<text x="1631.8" y="1448" font-size="32" font-weight="bold">ITGA4</text>
<rect x="1266.8" y="1453.4" width="57.3" height="38.8" fill="#ffc8c8" stroke="#999" stroke-width="1"/>
<rect x="1324.1" y="1453.4" width="57.3" height="38.8" fill="#ff8484" stroke="#999" stroke-width="1"/>
<rect x="1381.4" y="1453.4" width="57.3" height="38.8" fill="#ff5555" stroke="#999" stroke-width="1"/>
<rect x="1438.7" y="1453.4" width="57.3" height="38.8" fill="#efefff" stroke="#999" stroke-width="1"/>
<rect x="1496" y="1453.4" width="57.3" height="38.8" fill="#9292ff" stroke="#999" stroke-width="1"/>
<rect x="1553.3" y="1453.4" width="57.3" height="38.8" fill="#2525ff" stroke="#999" stroke-width="1"/>
<text x="1631.8" y="1486.8" font-size="32" font-weight="bold">CACNAS</text>
<rect x="1266.8" y="1492.2" width="57.3" height="38.8" fill="#ffa6a6" stroke="#999" stroke-width="1"/>
<rect x="1324.1" y="1492.2" width="57.3" height="38.8" fill="#ff5b5b" stroke="#999" stroke-width="1"/>
<rect x="1381.4" y="1492.2" width="57.3" height="38.8" fill="#ff7777" stroke="#999" stroke-width="1"/>
<rect x="1438.7" y="1492.2" width="57.3" height="38.8" fill="#bbbbff" stroke="#999" stroke-width="1"/>
<rect x="1496" y="1492.2" width="57.3" height="38.8" fill="#5b5bff" stroke="#999" stroke-width="1"/>
<rect x="1553.3" y="1492.2" width="57.3" height="38.8" fill="#7777ff" stroke="#999" stroke-width="1"/>
<text x="1631.8" y="1525.6" font-size="32" font-weight="bold">ITGA8</text>
<rect x="1266.8" y="1531" width="57.3" height="38.8" fill="#ff7777" stroke="#999" stroke-width="1"/>
<rect x="1324.1" y="1531" width="57.3" height="38.8" fill="#ff7777" stroke="#999" stroke-width="1"/>
<rect x="1381.4" y="1531" width="57.3" height="38.8" fill="#ff8b8b" stroke="#999" stroke-width="1"/>
<rect x="1438.7" y="1531" width="57.3" height="38.8" fill="#adadff" stroke="#999" stroke-width="1"/>
<rect x="1496" y="1531" width="57.3" height="38.8" fill="#5555ff" stroke="#999" stroke-width="1"/>
<rect x="1553.3" y="1531" width="57.3" height="38.8" fill="#7d7dff" stroke="#999" stroke-width="1"/>
<text x="1631.8" y="1564.4" font-size="32" font-weight="bold">ITGB8</text>
<rect x="1276.6" y="1587.8" width="141.1" height="5.5" fill="#000"/>
<rect x="1460.8" y="1587.8" width="141.1" height="5.5" fill="#000"/>
<g transform="translate(1208.5 1633.6)"><text x="0" y="0" font-size="29" font-weight="bold">L460fs + Ang</text><path d="M0 -21.6h23.2v3.9h-23.2zM0 -3.9h23.2v3.9h-23.2zM3.6 -21.6h4.8v21.6h-4.8zM14.6 -21.6h4.8v21.6h-4.8z" transform="translate(192.4 0)"/></g>
<g transform="translate(1465.7 1633.6)"><text x="0" y="0" font-size="29" font-weight="bold">WT + Ang</text><path d="M0 -21.6h23.2v3.9h-23.2zM0 -3.9h23.2v3.9h-23.2zM3.6 -21.6h4.8v21.6h-4.8zM14.6 -21.6h4.8v21.6h-4.8z" transform="translate(145.6 0)"/></g>

<!-- panelD -->

<text transform="translate(2128 132.7) scale(1.006 1.04)" x="-8.1" y="0" font-size="122" font-weight="bold">D</text>
<text x="2502" y="162.5" font-size="50" text-anchor="middle" font-weight="bold"><tspan font-style="italic">HSPA8</tspan> (RNA-Seq)</text>
<path d="M2321 274.1V573H2765" stroke="#000" stroke-width="3.1" fill="none"/>
<text x="2307" y="287.1" font-size="32" font-weight="bold" text-anchor="end">150</text>
<text x="2307" y="347" font-size="32" font-weight="bold" text-anchor="end">140</text>
<text x="2307" y="406" font-size="32" font-weight="bold" text-anchor="end">130</text>
<text x="2307" y="465" font-size="32" font-weight="bold" text-anchor="end">120</text>
<text x="2307" y="524.5" font-size="32" font-weight="bold" text-anchor="end">110</text>
<text x="2307" y="584.5" font-size="32" font-weight="bold" text-anchor="end">100</text>
<path d="M2311 275.6h10M2311 335.5h10M2311 394.5h10M2311 453.5h10M2311 513h10M2311 573h10M2447.3 573v10M2635.7 573v10" stroke="#000" stroke-width="3.1" fill="none"/>
<text x="2237" y="418" font-size="32" font-weight="bold" text-anchor="middle" transform="rotate(-90 2237 418)">FPKM value</text>
<path d="M2387.2 573V518H2507.8V573" stroke="#990000" stroke-width="4.4" fill="none"/>
<path d="M2576.6 573V350.4H2697.1V573" stroke="#000080" stroke-width="4.4" fill="none"/>
<path d="M2447.3 489V543.4M2416.5 489h61.6M2416.5 543.4h61.6" stroke="#990000" stroke-width="4.4" fill="none" stroke-linecap="round"/>
<path d="M2636 343.7V353.7M2606.2 343.7h59.6M2606.2 353.7h59.6" stroke="#000080" stroke-width="4.4" fill="none" stroke-linecap="round"/>
<circle cx="2447.3" cy="462.2" r="9" fill="#990000"/>
<circle cx="2430" cy="543.9" r="9" fill="#990000"/>
<circle cx="2464.6" cy="541.6" r="9" fill="#990000"/>
<circle cx="2637" cy="341.4" r="9" fill="#000080"/>
<circle cx="2672" cy="346.4" r="9" fill="#000080"/>
<circle cx="2600.8" cy="358.7" r="9" fill="#000080"/>
<path d="M2448 320V306.5H2633.5V320" stroke="#000" stroke-width="4.4" fill="none" stroke-linejoin="miter" stroke-linecap="round"/>
<path d="M2531 276.6V291M2524.4 280L2537.5 287.6M2524.4 287.6L2537.5 280M2549.8 276.6V291M2543.3 280L2556.4 287.6M2543.3 287.6L2556.4 280" stroke="#000" stroke-width="2.8" fill="none"/>
<g transform="translate(2437.3 630) rotate(-30)"><text x="-154.1" y="0" font-size="33.5" font-weight="bold">WT + Ang</text><path d="M0 -22.1h16.8v1.8h-16.8zM0 -1.8h16.8v1.8h-16.8zM3.2 -22.1h3.4v22.1h-3.4zM10.2 -22.1h3.4v22.1h-3.4z" transform="translate(9.4 0)"/></g>
<g transform="translate(2625.7 630) rotate(-30)"><text x="-208.2" y="0" font-size="33.5" font-weight="bold">L460fs + Ang</text><path d="M0 -22.1h16.8v1.8h-16.8zM0 -1.8h16.8v1.8h-16.8zM3.2 -22.1h3.4v22.1h-3.4zM10.2 -22.1h3.4v22.1h-3.4z" transform="translate(9.4 0)"/></g>

<!-- panelE -->

<text transform="translate(2790 132.7) scale(0.963 1.04)" x="-8.1" y="0" font-size="122" font-weight="bold">E</text>
<text x="3200" y="162.5" font-size="50" text-anchor="middle" font-weight="bold"><tspan font-style="italic">HSPA8</tspan> (qPCR)</text>
<path d="M3029.4 295.1V568H3437" stroke="#000" stroke-width="2.9" fill="none"/>
<text x="3015.4" y="307.2" font-size="30" font-weight="bold" text-anchor="end">1.4</text>
<text x="3015.4" y="362.7" font-size="30" font-weight="bold" text-anchor="end">1.3</text>
<text x="3015.4" y="416.7" font-size="30" font-weight="bold" text-anchor="end">1.2</text>
<text x="3015.4" y="470.7" font-size="30" font-weight="bold" text-anchor="end">1.1</text>
<text x="3015.4" y="524.7" font-size="30" font-weight="bold" text-anchor="end">1.0</text>
<text x="3015.4" y="578.7" font-size="30" font-weight="bold" text-anchor="end">0.9</text>
<path d="M3019.4 296.5h10M3019.4 352h10M3019.4 406h10M3019.4 460h10M3019.4 514h10M3019.4 568h10M3109.8 568v10M3232.7 568v10M3353.7 568v10" stroke="#000" stroke-width="2.9" fill="none"/>
<text x="2924" y="430" font-size="30" font-weight="bold" text-anchor="middle" transform="rotate(-90 2924 430)">Relative mRNA expression</text>
<text x="2963" y="430" font-size="30" font-weight="bold" text-anchor="middle" transform="rotate(-90 2963 430)">(Fold change)</text>
<path d="M3071.9 568V516.2H3147.6V568" stroke="#990000" stroke-width="3.8" fill="none"/>
<path d="M3194.4 568V387.2H3269.1V568" stroke="#076644" stroke-width="3.8" fill="none"/>
<path d="M3316.8 568V350.2H3391.5V568" stroke="#000080" stroke-width="3.8" fill="none"/>
<path d="M3109.8 497.5V531.2M3090.2 497.5h39.2M3090.2 531.2h39.2" stroke="#990000" stroke-width="3.8" fill="none" stroke-linecap="round"/>
<path d="M3231.7 371V399.5M3212.1 371h39.2M3212.1 399.5h39.2" stroke="#076644" stroke-width="3.8" fill="none" stroke-linecap="round"/>
<path d="M3353.7 339.5V359.4M3334.1 339.5h39.2M3334.1 359.4h39.2" stroke="#000080" stroke-width="3.8" fill="none" stroke-linecap="round"/>
<circle cx="3109.8" cy="478" r="8.8" fill="#990000"/>
<circle cx="3109.8" cy="500" r="8.8" fill="#990000"/>
<circle cx="3109.8" cy="522" r="8.8" fill="#990000"/>
<circle cx="3109.8" cy="557.5" r="8.8" fill="#990000"/>
<circle cx="3231.7" cy="346.4" r="8.8" fill="#076644"/>
<circle cx="3231.7" cy="383.4" r="8.8" fill="#076644"/>
<circle cx="3215.6" cy="411" r="8.8" fill="#076644"/>
<circle cx="3247.4" cy="401" r="8.8" fill="#076644"/>
<circle cx="3321.3" cy="334" r="8.8" fill="#000080"/>
<circle cx="3386.5" cy="335.8" r="8.8" fill="#000080"/>
<circle cx="3354" cy="347.3" r="8.8" fill="#000080"/>
<circle cx="3353.7" cy="375" r="8.8" fill="#000080"/>
<path d="M3108.9 323V309.5H3232.7V323" stroke="#000" stroke-width="3.8" fill="none" stroke-linejoin="miter" stroke-linecap="round"/>
<path d="M3170 283.1V296.1M3164.1 286.2L3175.9 293M3164.1 293L3175.9 286.2" stroke="#000" stroke-width="2.5" fill="none"/>
<path d="M3108.9 292V277.6H3352.8V292" stroke="#000" stroke-width="3.8" fill="none" stroke-linejoin="miter" stroke-linecap="round"/>
<path d="M3213 250.5V263.5M3207.1 253.6L3218.9 260.4M3207.1 260.4L3218.9 253.6M3230 250.5V263.5M3224.1 253.6L3235.9 260.4M3224.1 260.4L3235.9 253.6M3247 250.5V263.5M3241.1 253.6L3252.9 260.4M3241.1 260.4L3252.9 253.6" stroke="#000" stroke-width="2.5" fill="none"/>
<g transform="translate(3099.9 618.1) rotate(-30)"><text x="-138" y="0" font-size="30" font-weight="bold">WT + Ang</text><path d="M0 -19.8h15v1.6h-15zM0 -1.6h15v1.6h-15zM2.9 -19.8h3v19.8h-3zM9.2 -19.8h3v19.8h-3z" transform="translate(8.4 0)"/></g>
<g transform="translate(3222.8 618.1) rotate(-30)"><text x="-179.2" y="0" font-size="30" font-weight="bold">L460fs +Ang</text><path d="M0 -19.8h15v1.6h-15zM0 -1.6h15v1.6h-15zM2.9 -19.8h3v19.8h-3zM9.2 -19.8h3v19.8h-3z" transform="translate(8.4 0)"/></g>
<g transform="translate(3343.8 618.1) rotate(-30)"><text x="-184.2" y="0" font-size="30" font-weight="bold">G853fs +Ang</text><path d="M0 -19.8h15v1.6h-15zM0 -1.6h15v1.6h-15zM2.9 -19.8h3v19.8h-3zM9.2 -19.8h3v19.8h-3z" transform="translate(8.4 0)"/></g>

<!-- panelF -->

<text transform="translate(1980.5 960.5) scale(0.990 1.04)" x="-8.1" y="0" font-size="122" font-weight="bold">F</text>
<defs><filter id="bl6" x="-20%" y="-50%" width="140%" height="200%"><feGaussianBlur stdDeviation="5"/></filter><filter id="bl3" x="-20%" y="-50%" width="140%" height="200%"><feGaussianBlur stdDeviation="3.2"/></filter><filter id="bl12" x="-50%" y="-50%" width="200%" height="200%"><feGaussianBlur stdDeviation="11"/></filter><filter id="nz" x="0" y="0" width="100%" height="100%"><feTurbulence type="fractalNoise" baseFrequency="0.22" numOctaves="2" seed="3" result="n"/><feColorMatrix type="matrix" values="0 0 0 0 0.45  0 0 0 0 0.45  0 0 0 0 0.45  0.9 0 0 0 -0.33"/><feComposite in2="SourceGraphic" operator="in"/></filter><clipPath id="cpF1"><rect x="2097" y="935" width="591" height="265"/></clipPath><clipPath id="cpF2"><rect x="2097" y="1233" width="591" height="264.5"/></clipPath></defs>
<rect x="2096.6" y="934.4" width="591.5" height="265.9" fill="#f4f4f4"/>
<rect x="2096.6" y="934.4" width="591.5" height="265.9" fill="#777" filter="url(#nz)"/>
<rect x="2096.6" y="1232.7" width="591.5" height="265.1" fill="#f4f4f4"/>
<rect x="2096.6" y="1232.7" width="591.5" height="265.1" fill="#777" filter="url(#nz)"/>
<g clip-path="url(#cpF1)">
<ellipse cx="2330" cy="1107.2" rx="228.9" ry="62.8" fill="#cfcfcf" filter="url(#bl12)" opacity="0.55"/>
<ellipse cx="2606.9" cy="1024.2" rx="27.7" ry="20.3" fill="#a8a8a8" filter="url(#bl12)" opacity="1.0"/>
<ellipse cx="2625.4" cy="1177.4" rx="48" ry="22.2" fill="#a6a6a6" filter="url(#bl12)" opacity="1.0"/>
<ellipse cx="2581.1" cy="1088.8" rx="25.8" ry="40.6" fill="#fff" filter="url(#bl12)" opacity="1.0"/>
<ellipse cx="2643.9" cy="985.4" rx="29.5" ry="22.2" fill="#fff" filter="url(#bl12)" opacity="1.0"/>
<path d="M2126.9 1086.6L2182.3 1091L2245.1 1093.9L2246.6 1105L2182.3 1101.3L2126.9 1098.4z" fill="#333" filter="url(#bl3)" opacity="0.9"/>
<path d="M2289.4 1092.5L2326.3 1091.7L2392.8 1102.8L2393.5 1120.2L2378 1122.7L2326.3 1116.8L2291.2 1114.6z" fill="#000" filter="url(#bl12)" opacity="0.45"/>
<path d="M2289.4 1092.5L2326.3 1091.7L2392.8 1102.8L2393.5 1120.2L2378 1122.7L2326.3 1116.8L2291.2 1114.6z" fill="#000" filter="url(#bl3)" opacity="1.0"/>
<path d="M2433.4 1107.2L2459.2 1105L2536.8 1112.4L2539 1131.2L2496.2 1132.3L2435.2 1129.4z" fill="#000" filter="url(#bl12)" opacity="0.45"/>
<path d="M2433.4 1107.2L2459.2 1105L2536.8 1112.4L2539 1131.2L2496.2 1132.3L2435.2 1129.4z" fill="#000" filter="url(#bl3)" opacity="1.0"/>
</g><g clip-path="url(#cpF2)">
<ellipse cx="2341.1" cy="1347.3" rx="243.7" ry="77.5" fill="#c4c4c4" filter="url(#bl12)" opacity="0.6"/>
<ellipse cx="2636.5" cy="1299.2" rx="40.6" ry="11.8" fill="#a2a2a2" filter="url(#bl12)" opacity="1.0"/>
<ellipse cx="2621.7" cy="1476.5" rx="40.6" ry="18.5" fill="#9c9c9c" filter="url(#bl12)" opacity="1.0"/>
<path d="M2121.4 1302.9L2193.4 1307.4L2263.5 1314L2252.5 1347.3L2237.7 1373.1L2200.8 1379L2149.1 1369.4L2130.6 1343.6z" fill="#000" filter="url(#bl12)" opacity="0.55"/>
<path d="M2121.4 1302.9L2193.4 1307.4L2263.5 1314L2252.5 1347.3L2237.7 1373.1L2200.8 1379L2149.1 1369.4L2130.6 1343.6z" fill="#000" filter="url(#bl6)" opacity="1.0"/>
<path d="M2121.4 1302.9L2193.4 1307.4L2263.5 1314L2252.5 1347.3L2237.7 1373.1L2200.8 1379L2149.1 1369.4L2130.6 1343.6z" fill="#000" filter="url(#bl3)" opacity="1.0"/>
<path d="M2282 1321.4L2344.8 1330.6L2407.6 1329.5L2407.6 1354.6L2385.4 1391.6L2311.6 1395.3L2289.4 1387.9z" fill="#000" filter="url(#bl12)" opacity="0.55"/>
<path d="M2282 1321.4L2344.8 1330.6L2407.6 1329.5L2407.6 1354.6L2385.4 1391.6L2311.6 1395.3L2289.4 1387.9z" fill="#000" filter="url(#bl6)" opacity="1.0"/>
<path d="M2282 1321.4L2344.8 1330.6L2407.6 1329.5L2407.6 1354.6L2385.4 1391.6L2311.6 1395.3L2289.4 1387.9z" fill="#000" filter="url(#bl3)" opacity="1.0"/>
<path d="M2426 1343.6L2507.3 1355.4L2544.2 1336.2L2557.1 1347.3L2544.2 1380.5L2518.3 1408.2L2459.2 1402.6L2437.1 1387.9z" fill="#000" filter="url(#bl12)" opacity="0.55"/>
<path d="M2426 1343.6L2507.3 1355.4L2544.2 1336.2L2557.1 1347.3L2544.2 1380.5L2518.3 1408.2L2459.2 1402.6L2437.1 1387.9z" fill="#000" filter="url(#bl6)" opacity="1.0"/>
<path d="M2426 1343.6L2507.3 1355.4L2544.2 1336.2L2557.1 1347.3L2544.2 1380.5L2518.3 1408.2L2459.2 1402.6L2437.1 1387.9z" fill="#000" filter="url(#bl3)" opacity="1.0"/>
</g>
<rect x="2100" y="937.8" width="584.7" height="259.1" fill="none" stroke="#000" stroke-width="6.8" rx="1.5"/>
<rect x="2100" y="1236.1" width="584.7" height="258.3" fill="none" stroke="#000" stroke-width="6.8" rx="1.5"/>
<text x="2071.5" y="1092" font-size="42" font-weight="bold" text-anchor="end">HSC70</text>
<text x="2071.5" y="1390" font-size="42" font-weight="bold" text-anchor="end">GAPDH</text>
<text x="2697" y="1088" font-size="40" font-weight="bold">71 KD</text>
<text x="2697" y="1379.5" font-size="40" font-weight="bold">38 KD</text>
<g transform="translate(2160 919.4) rotate(-30)"><text x="0" y="0" font-size="36" font-weight="bold">WT + Ang</text><path d="M0 -26.8h28.8v4.9h-28.8zM0 -4.9h28.8v4.9h-28.8zM4.5 -26.8h5.9v26.8h-5.9zM18.2 -26.8h5.9v26.8h-5.9z" transform="translate(166.6 0)"/></g>
<g transform="translate(2308.5 922.5) rotate(-30)"><text x="0" y="0" font-size="36" font-weight="bold">L460fs + Ang</text><path d="M0 -26.8h28.8v4.9h-28.8zM0 -4.9h28.8v4.9h-28.8zM4.5 -26.8h5.9v26.8h-5.9zM18.2 -26.8h5.9v26.8h-5.9z" transform="translate(224.7 0)"/></g>
<g transform="translate(2453.8 916.4) rotate(-30)"><text x="0" y="0" font-size="36" font-weight="bold">G853fs + Ang</text><path d="M0 -26.8h28.8v4.9h-28.8zM0 -4.9h28.8v4.9h-28.8zM4.5 -26.8h5.9v26.8h-5.9zM18.2 -26.8h5.9v26.8h-5.9z" transform="translate(230.7 0)"/></g>

<!-- panelG -->

<text transform="translate(2779 961) scale(1.014 1.04)" x="-5" y="0" font-size="122" font-weight="bold">G</text>
<path d="M3027.4 1050.1V1382H3523" stroke="#000" stroke-width="3.4" fill="none"/>
<text x="3010.4" y="1064.3" font-size="35" font-weight="bold" text-anchor="end">3</text>
<text x="3010.4" y="1174.2" font-size="35" font-weight="bold" text-anchor="end">2</text>
<text x="3010.4" y="1284.1" font-size="35" font-weight="bold" text-anchor="end">1</text>
<text x="3010.4" y="1394.5" font-size="35" font-weight="bold" text-anchor="end">0</text>
<path d="M3014.4 1051.8h13M3014.4 1161.7h13M3014.4 1271.6h13M3014.4 1382h13M3125.4 1382v13M3273.2 1382v13M3421.5 1382v13" stroke="#000" stroke-width="3.4" fill="none"/>
<text x="2925.5" y="1209" font-size="36" font-weight="bold" text-anchor="middle" transform="rotate(-90 2925.5 1209)">Protein expression of HSC70</text>
<text x="2971" y="1209" font-size="36" font-weight="bold" text-anchor="middle" transform="rotate(-90 2971 1209)">(Relative to GAPDH)</text>
<path d="M3079.3 1382V1274.1H3172.8V1382" stroke="#990000" stroke-width="5" fill="none"/>
<path d="M3227.5 1382V1176.5H3320.5V1382" stroke="#076644" stroke-width="5" fill="none"/>
<path d="M3375.5 1382V1185.1H3468.5V1382" stroke="#000080" stroke-width="5" fill="none"/>
<circle cx="3086" cy="1244" r="10" fill="#990000"/>
<circle cx="3138.8" cy="1250.5" r="10" fill="#990000"/>
<circle cx="3086" cy="1275.4" r="10" fill="#990000"/>
<circle cx="3113.4" cy="1269.7" r="10" fill="#990000"/>
<circle cx="3139.8" cy="1271.6" r="10" fill="#990000"/>
<circle cx="3165.7" cy="1271.6" r="10" fill="#990000"/>
<circle cx="3112.4" cy="1299.4" r="10" fill="#990000"/>
<circle cx="3138.8" cy="1294.6" r="10" fill="#990000"/>
<circle cx="3273.7" cy="1114.6" r="10" fill="#076644"/>
<circle cx="3273.7" cy="1133.8" r="10" fill="#076644"/>
<circle cx="3234.8" cy="1170.8" r="10" fill="#076644"/>
<circle cx="3313" cy="1169.8" r="10" fill="#076644"/>
<circle cx="3261.2" cy="1176.6" r="10" fill="#076644"/>
<circle cx="3286.6" cy="1176.6" r="10" fill="#076644"/>
<circle cx="3260.2" cy="1216.4" r="10" fill="#076644"/>
<circle cx="3286.6" cy="1215.4" r="10" fill="#076644"/>
<circle cx="3382.6" cy="1130" r="10" fill="#000080"/>
<circle cx="3422" cy="1132.4" r="10" fill="#000080"/>
<circle cx="3461.4" cy="1130" r="10" fill="#000080"/>
<circle cx="3422" cy="1173.2" r="10" fill="#000080"/>
<circle cx="3402.8" cy="1208.2" r="10" fill="#000080"/>
<circle cx="3441.2" cy="1208.2" r="10" fill="#000080"/>
<circle cx="3402.8" cy="1245.2" r="10" fill="#000080"/>
<circle cx="3441.7" cy="1241.4" r="10" fill="#000080"/>
<path d="M3125.4 1265.4V1278.8M3101.2 1265.4h48.5M3101.2 1278.8h48.5" stroke="#000" stroke-width="4.5" fill="none" stroke-linecap="round"/>
<path d="M3273 1160V1186M3248.8 1160h48.5M3248.8 1186h48.5" stroke="#000" stroke-width="4.5" fill="none" stroke-linecap="round"/>
<path d="M3421.5 1165V1201M3397.2 1165h48.5M3397.2 1201h48.5" stroke="#000" stroke-width="4.5" fill="none" stroke-linecap="round"/>
<path d="M3124 1093V1076.7H3272.2V1093" stroke="#000" stroke-width="4.5" fill="none" stroke-linejoin="miter" stroke-linecap="round"/>
<path d="M3166.8 1043.9V1059.7M3159.6 1047.7L3173.9 1055.9M3159.6 1055.9L3173.9 1047.7M3187.5 1043.9V1059.7M3180.3 1047.7L3194.6 1055.9M3180.3 1055.9L3194.6 1047.7M3208.2 1043.9V1059.7M3201 1047.7L3215.3 1055.9M3201 1055.9L3215.3 1047.7M3228.9 1043.9V1059.7M3221.7 1047.7L3236 1055.9M3221.7 1055.9L3236 1047.7" stroke="#000" stroke-width="3.1" fill="none"/>
<path d="M3122.5 1053V1036.4H3421V1053" stroke="#000" stroke-width="4.5" fill="none" stroke-linejoin="miter" stroke-linecap="round"/>
<path d="M3251.1 1003.5V1019.3M3244 1007.3L3258.2 1015.5M3244 1015.5L3258.2 1007.3M3271.8 1003.5V1019.3M3264.7 1007.3L3278.9 1015.5M3264.7 1015.5L3278.9 1007.3M3292.5 1003.5V1019.3M3285.4 1007.3L3299.6 1015.5M3285.4 1015.5L3299.6 1007.3" stroke="#000" stroke-width="3.1" fill="none"/>
<g transform="translate(3115.4 1446) rotate(-30)"><text x="-167.9" y="0" font-size="36.5" font-weight="bold">WT + Ang</text><path d="M0 -24.1h18.2v2h-18.2zM0 -2h18.2v2h-18.2zM3.5 -24.1h3.7v24.1h-3.7zM11.1 -24.1h3.7v24.1h-3.7z" transform="translate(10.2 0)"/></g>
<g transform="translate(3263.2 1446) rotate(-30)"><text x="-226.8" y="0" font-size="36.5" font-weight="bold">L460fs + Ang</text><path d="M0 -24.1h18.2v2h-18.2zM0 -2h18.2v2h-18.2zM3.5 -24.1h3.7v24.1h-3.7zM11.1 -24.1h3.7v24.1h-3.7z" transform="translate(10.2 0)"/></g>
<g transform="translate(3411.5 1446) rotate(-30)"><text x="-232.9" y="0" font-size="36.5" font-weight="bold">G853fs + Ang</text><path d="M0 -24.1h18.2v2h-18.2zM0 -2h18.2v2h-18.2zM3.5 -24.1h3.7v24.1h-3.7zM11.1 -24.1h3.7v24.1h-3.7z" transform="translate(10.2 0)"/></g>

<!-- panelH -->

<text transform="translate(42.4 1818) scale(0.985 1.04)" x="-8.1" y="0" font-size="122" font-weight="bold">H</text>
<text x="614.5" y="1703.3" font-size="51" font-weight="bold" font-style="italic" text-anchor="middle">ANF</text>
<path d="M353 1837V2222H934" stroke="#000" stroke-width="3.9" fill="none"/>
<text x="333" y="1853.6" font-size="41" font-weight="bold" text-anchor="end">2.0</text>
<text x="333" y="1949.2" font-size="41" font-weight="bold" text-anchor="end">1.5</text>
<text x="333" y="2044.7" font-size="41" font-weight="bold" text-anchor="end">1.0</text>
<text x="333" y="2141.1" font-size="41" font-weight="bold" text-anchor="end">0.5</text>
<text x="333" y="2236.7" font-size="41" font-weight="bold" text-anchor="end">0.0</text>
<path d="M337 1838.9h16M337 1934.5h16M337 2030h16M337 2126.4h16M337 2222h16M469 2222v16M641.6 2222v16M814.7 2222v16" stroke="#000" stroke-width="3.9" fill="none"/>
<text x="202" y="2022" font-size="42" font-weight="bold" text-anchor="middle" transform="rotate(-90 202 2022)">Relative mRNA expression</text>
<text x="253" y="2022" font-size="42" font-weight="bold" text-anchor="middle" transform="rotate(-90 253 2022)">(Fold Change)</text>
<path d="M416 2222V2032.7H522.1V2222" stroke="#990000" stroke-width="5.3" fill="none"/>
<path d="M588.6 2222V1912.2H695.4V2222" stroke="#076644" stroke-width="5.3" fill="none"/>
<path d="M761.6 2222V1870.7H867.8V2222" stroke="#000080" stroke-width="5.3" fill="none"/>
<circle cx="423.7" cy="2042.2" r="12" fill="#990000"/>
<circle cx="469" cy="2021" r="12" fill="#990000"/>
<circle cx="515" cy="2028.3" r="12" fill="#990000"/>
<circle cx="618.6" cy="1892" r="12" fill="#076644"/>
<circle cx="664" cy="1910.3" r="12" fill="#076644"/>
<circle cx="618.6" cy="1929.6" r="12" fill="#076644"/>
<circle cx="791.7" cy="1857.6" r="12" fill="#000080"/>
<circle cx="837.7" cy="1858.8" r="12" fill="#000080"/>
<circle cx="814.7" cy="1888" r="12" fill="#000080"/>
<path d="M469 2023.5V2037.4M441.6 2023.5h54.7M441.6 2037.4h54.7" stroke="#000" stroke-width="5.3" fill="none" stroke-linecap="round"/>
<path d="M641.6 1898V1922.4M614.2 1898h54.7M614.2 1922.4h54.7" stroke="#000" stroke-width="5.3" fill="none" stroke-linecap="round"/>
<path d="M814.7 1857.6V1879.4M787.4 1857.6h54.7M787.4 1879.4h54.7" stroke="#000" stroke-width="5.3" fill="none" stroke-linecap="round"/>
<path d="M461.8 1875V1856.4H641.6V1875" stroke="#000" stroke-width="5.3" fill="none" stroke-linejoin="miter" stroke-linecap="round"/>
<path d="M526.6 1817.5V1835.9M518.3 1821.9L534.9 1831.5M518.3 1831.5L534.9 1821.9M550.8 1817.5V1835.9M542.5 1821.9L559.1 1831.5M542.5 1831.5L559.1 1821.9M575 1817.5V1835.9M566.7 1821.9L583.3 1831.5M566.7 1831.5L583.3 1821.9" stroke="#000" stroke-width="3.6" fill="none"/>
<path d="M461.8 1825.5V1805.6H812.3V1825.5" stroke="#000" stroke-width="5.3" fill="none" stroke-linejoin="miter" stroke-linecap="round"/>
<path d="M599.3 1766.8V1785.2M591 1771.2L607.6 1780.8M591 1780.8L607.6 1771.2M623.5 1766.8V1785.2M615.2 1771.2L631.8 1780.8M615.2 1780.8L631.8 1771.2M647.7 1766.8V1785.2M639.4 1771.2L656 1780.8M639.4 1780.8L656 1771.2M671.9 1766.8V1785.2M663.6 1771.2L680.2 1780.8M663.6 1780.8L680.2 1771.2" stroke="#000" stroke-width="3.6" fill="none"/>
<text transform="translate(480.2 2283.5) rotate(-30)" text-anchor="end" font-size="42.5" font-weight="bold">WT + YM-1</text>
<text transform="translate(652.8 2283.5) rotate(-30)" text-anchor="end" font-size="42.5" font-weight="bold">L460fs + YM-1</text>
<text transform="translate(825.9 2283.5) rotate(-30)" text-anchor="end" font-size="42.5" font-weight="bold">G853fs + YM-1</text>

<!-- panelI -->

<text transform="translate(1047 1818) scale(0.995 1.04)" x="-8.1" y="0" font-size="122" font-weight="bold">I</text>
<text x="1472.5" y="1703.3" font-size="51" font-weight="bold" font-style="italic" text-anchor="middle">BNF</text>
<path d="M1228.7 1847.8V2222H1793" stroke="#000" stroke-width="3.9" fill="none"/>
<text x="1208.7" y="1864.4" font-size="41" font-weight="bold" text-anchor="end">3</text>
<text x="1208.7" y="1989.1" font-size="41" font-weight="bold" text-anchor="end">2</text>
<text x="1208.7" y="2113.7" font-size="41" font-weight="bold" text-anchor="end">1</text>
<text x="1208.7" y="2236.7" font-size="41" font-weight="bold" text-anchor="end">0</text>
<path d="M1212.7 1849.7h16M1212.7 1974.4h16M1212.7 2099h16M1212.7 2222h16M1341.9 2222v16M1509.5 2222v16M1677.8 2222v16" stroke="#000" stroke-width="3.9" fill="none"/>
<text x="1117" y="2028" font-size="42" font-weight="bold" text-anchor="middle" transform="rotate(-90 1117 2028)">Relative mRNA expression</text>
<text x="1168" y="2028" font-size="42" font-weight="bold" text-anchor="middle" transform="rotate(-90 1168 2028)">(Fold Change)</text>
<path d="M1290.1 2222V2101.2H1393.6V2222" stroke="#990000" stroke-width="5.3" fill="none"/>
<path d="M1458.4 2222V2033.4H1561.3V2222" stroke="#076644" stroke-width="5.3" fill="none"/>
<path d="M1626 2222V1936.5H1729.6V2222" stroke="#000080" stroke-width="5.3" fill="none"/>
<circle cx="1319.5" cy="2081.6" r="12" fill="#990000"/>
<circle cx="1364.9" cy="2102.2" r="12" fill="#990000"/>
<circle cx="1319.5" cy="2116" r="12" fill="#990000"/>
<circle cx="1464" cy="2042.2" r="12" fill="#076644"/>
<circle cx="1495" cy="2027.7" r="12" fill="#076644"/>
<circle cx="1525.3" cy="2031.3" r="12" fill="#076644"/>
<circle cx="1554.3" cy="2030" r="12" fill="#076644"/>
<circle cx="1633" cy="1945.4" r="12" fill="#000080"/>
<circle cx="1662.7" cy="1926" r="12" fill="#000080"/>
<circle cx="1693" cy="1943.6" r="12" fill="#000080"/>
<circle cx="1722" cy="1928.4" r="12" fill="#000080"/>
<path d="M1341.9 2088.2V2110M1314.6 2088.2h54.7M1314.6 2110h54.7" stroke="#000" stroke-width="5.3" fill="none" stroke-linecap="round"/>
<path d="M1509.5 2029V2037.4M1482.2 2029h54.7M1482.2 2037.4h54.7" stroke="#000" stroke-width="5.3" fill="none" stroke-linecap="round"/>
<path d="M1677.8 1929.6V1940.5M1650.5 1929.6h54.7M1650.5 1940.5h54.7" stroke="#000" stroke-width="5.3" fill="none" stroke-linecap="round"/>
<path d="M1331 1984V1964.8H1512.6V1984" stroke="#000" stroke-width="5.3" fill="none" stroke-linejoin="miter" stroke-linecap="round"/>
<path d="M1397.7 1928.8V1946.2M1389.8 1932.9L1405.6 1942.1M1389.8 1942.1L1405.6 1932.9M1420.6 1928.8V1946.2M1412.7 1932.9L1428.5 1942.1M1412.7 1942.1L1428.5 1932.9M1443.5 1928.8V1946.2M1435.6 1932.9L1451.4 1942.1M1435.6 1942.1L1451.4 1932.9" stroke="#000" stroke-width="3.4" fill="none"/>
<path d="M1511.4 1900.6V1881.2H1664V1900.6" stroke="#000" stroke-width="5.3" fill="none" stroke-linejoin="miter" stroke-linecap="round"/>
<path d="M1553.9 1845.3V1862.7M1545.9 1849.4L1561.8 1858.6M1545.9 1858.6L1561.8 1849.4M1576.8 1845.3V1862.7M1568.8 1849.4L1584.7 1858.6M1568.8 1858.6L1584.7 1849.4M1599.7 1845.3V1862.7M1591.7 1849.4L1607.6 1858.6M1591.7 1858.6L1607.6 1849.4M1622.5 1845.3V1862.7M1614.6 1849.4L1630.5 1858.6M1614.6 1858.6L1630.5 1849.4" stroke="#000" stroke-width="3.4" fill="none"/>
<path d="M1334.6 1855.8V1835.8H1661.5V1855.8" stroke="#000" stroke-width="5.3" fill="none" stroke-linejoin="miter" stroke-linecap="round"/>
<path d="M1463.1 1799.9V1817.3M1455.1 1804L1471 1813.2M1455.1 1813.2L1471 1804M1486 1799.9V1817.3M1478 1804L1493.9 1813.2M1478 1813.2L1493.9 1804M1508.9 1799.9V1817.3M1500.9 1804L1516.8 1813.2M1500.9 1813.2L1516.8 1804M1531.8 1799.9V1817.3M1523.8 1804L1539.7 1813.2M1523.8 1813.2L1539.7 1804" stroke="#000" stroke-width="3.4" fill="none"/>
<text transform="translate(1353.1 2283.5) rotate(-30)" text-anchor="end" font-size="42.5" font-weight="bold">WT + YM-1</text>
<text transform="translate(1520.7 2283.5) rotate(-30)" text-anchor="end" font-size="42.5" font-weight="bold">L460fs + YM-1</text>
<text transform="translate(1689 2283.5) rotate(-30)" text-anchor="end" font-size="42.5" font-weight="bold">G853fs + YM-1</text>

<!-- panelJ -->

<text transform="translate(1848.9 1818) scale(0.996 1.04)" x="-1.8" y="0" font-size="122" font-weight="bold">J</text>
<text x="2317" y="1703.5" font-size="51" font-weight="bold" font-style="italic" text-anchor="middle">ANF</text>
<path d="M2103 1879.5V2224H2619.5" stroke="#000" stroke-width="3.5" fill="none"/>
<text x="2086" y="1894.4" font-size="37" font-weight="bold" text-anchor="end">2.5</text>
<text x="2086" y="1963.4" font-size="37" font-weight="bold" text-anchor="end">2.0</text>
<text x="2086" y="2031.8" font-size="37" font-weight="bold" text-anchor="end">1.5</text>
<text x="2086" y="2100.2" font-size="37" font-weight="bold" text-anchor="end">1.0</text>
<text x="2086" y="2168.7" font-size="37" font-weight="bold" text-anchor="end">0.5</text>
<text x="2086" y="2237.2" font-size="37" font-weight="bold" text-anchor="end">0.0</text>
<path d="M2090 1881.2h13M2090 1950.2h13M2090 2018.6h13M2090 2087h13M2090 2155.5h13M2090 2224h13M2152 2224v13M2225.6 2224v13M2298.6 2224v13M2420 2224v13M2493 2224v13M2566 2224v13" stroke="#000" stroke-width="3.5" fill="none"/>
<text x="1970" y="2047" font-size="37.5" font-weight="bold" text-anchor="middle" transform="rotate(-90 1970 2047)">Relative mRNA expression</text>
<text x="2020" y="2047" font-size="37.5" font-weight="bold" text-anchor="middle" transform="rotate(-90 2020 2047)">(Fold change)</text>
<path d="M2133.1 2224V2090.4H2172.6V2224" stroke="#000080" stroke-width="4.8" fill="none"/>
<path d="M2206.1 2224V2034.4H2246.2V2224" stroke="#000080" stroke-width="4.8" fill="none"/>
<path d="M2279.2 2224V1940.8H2319.2V2224" stroke="#000080" stroke-width="4.8" fill="none"/>
<path d="M2400.4 2224V2085.8H2440.6V2224" stroke="#990000" stroke-width="4.8" fill="none"/>
<path d="M2473.4 2224V2074.3H2513.6V2224" stroke="#990000" stroke-width="4.8" fill="none"/>
<path d="M2546.4 2224V2044.4H2587.2V2224" stroke="#990000" stroke-width="4.8" fill="none"/>
<path d="M2298.6 1931.8V1946M2288.1 1931.8h21M2288.1 1946h21" stroke="#000" stroke-width="3" fill="none" stroke-linecap="round"/>
<path d="M2420 2076V2090M2409.5 2076h21M2409.5 2090h21" stroke="#000" stroke-width="3" fill="none" stroke-linecap="round"/>
<circle cx="2138" cy="2090" r="10.5" fill="#000080"/>
<circle cx="2149" cy="2086" r="10.5" fill="#000080"/>
<circle cx="2159.4" cy="2090" r="10.5" fill="#000080"/>
<circle cx="2168" cy="2088.2" r="10.5" fill="#000080"/>
<circle cx="2211.2" cy="2034.2" r="10.5" fill="#000080"/>
<circle cx="2221.5" cy="2022.7" r="10.5" fill="#000080"/>
<circle cx="2230.2" cy="2036.5" r="10.5" fill="#000080"/>
<circle cx="2240.5" cy="2033" r="10.5" fill="#000080"/>
<circle cx="2286" cy="1949" r="10.5" fill="#000080"/>
<circle cx="2298" cy="1921.4" r="10.5" fill="#000080"/>
<circle cx="2304.4" cy="1946.2" r="10.5" fill="#000080"/>
<circle cx="2313.6" cy="1947.3" r="10.5" fill="#000080"/>
<circle cx="2405.6" cy="2095.7" r="10.5" fill="#990000"/>
<circle cx="2420" cy="2078.4" r="10.5" fill="#990000"/>
<circle cx="2426.9" cy="2080.2" r="10.5" fill="#990000"/>
<circle cx="2435.5" cy="2078.4" r="10.5" fill="#990000"/>
<circle cx="2478.6" cy="2074.4" r="10.5" fill="#990000"/>
<circle cx="2487.2" cy="2072.7" r="10.5" fill="#990000"/>
<circle cx="2494" cy="2068" r="10.5" fill="#990000"/>
<circle cx="2508.5" cy="2072.7" r="10.5" fill="#990000"/>
<circle cx="2553.4" cy="2045.7" r="10.5" fill="#990000"/>
<circle cx="2560.3" cy="2041" r="10.5" fill="#990000"/>
<circle cx="2570.6" cy="2038.2" r="10.5" fill="#990000"/>
<circle cx="2581" cy="2040" r="10.5" fill="#990000"/>
<circle cx="2366.5" cy="1950.1" r="10" fill="#000080"/>
<text x="2403.9" y="1963.4" font-size="38" font-weight="bold" fill="#000080">Vehicle</text>
<circle cx="2366.5" cy="1997.3" r="10" fill="#990000"/>
<text x="2403.9" y="2010.6" font-size="38" font-weight="bold" fill="#990000">VER-155008</text>
<path d="M2153 1954.8V1937.6H2226.7V1954.8" stroke="#000" stroke-width="4.8" fill="none" stroke-linejoin="miter" stroke-linecap="round"/>
<path d="M2157.6 1903.5V1919.9M2150.1 1907.4L2165.1 1916M2150.1 1916L2165.1 1907.4M2179.2 1903.5V1919.9M2171.7 1907.4L2186.7 1916M2171.7 1916L2186.7 1907.4M2200.8 1903.5V1919.9M2193.3 1907.4L2208.3 1916M2193.3 1916L2208.3 1907.4M2222.4 1903.5V1919.9M2214.9 1907.4L2229.9 1916M2214.9 1916L2229.9 1907.4" stroke="#000" stroke-width="3.2" fill="none"/>
<path d="M2153 1898.4V1881.2H2304.4V1898.4" stroke="#000" stroke-width="4.8" fill="none" stroke-linejoin="miter" stroke-linecap="round"/>
<path d="M2196 1846V1862.4M2188.5 1849.9L2203.5 1858.5M2188.5 1858.5L2203.5 1849.9M2217.6 1846V1862.4M2210.1 1849.9L2225.1 1858.5M2210.1 1858.5L2225.1 1849.9M2239.2 1846V1862.4M2231.7 1849.9L2246.7 1858.5M2231.7 1858.5L2246.7 1849.9M2260.8 1846V1862.4M2253.3 1849.9L2268.3 1858.5M2253.3 1858.5L2268.3 1849.9" stroke="#000" stroke-width="3.2" fill="none"/>
<path d="M2294.6 1868.5V1849.6H2563.7V1868.5" stroke="#000" stroke-width="4.8" fill="none" stroke-linejoin="miter" stroke-linecap="round"/>
<path d="M2396.2 1814.3V1830.7M2388.7 1818.2L2403.7 1826.8M2388.7 1826.8L2403.7 1818.2M2417.8 1814.3V1830.7M2410.3 1818.2L2425.3 1826.8M2410.3 1826.8L2425.3 1818.2M2439.4 1814.3V1830.7M2431.9 1818.2L2446.9 1826.8M2431.9 1826.8L2446.9 1818.2M2461 1814.3V1830.7M2453.5 1818.2L2468.5 1826.8M2453.5 1826.8L2468.5 1818.2" stroke="#000" stroke-width="3.2" fill="none"/>
<path d="M2234.2 1828.3V1809.9H2481.5V1828.3" stroke="#000" stroke-width="4.8" fill="none" stroke-linejoin="miter" stroke-linecap="round"/>
<path d="M2325.4 1775.8V1792.2M2317.9 1779.7L2332.9 1788.3M2317.9 1788.3L2332.9 1779.7M2347 1775.8V1792.2M2339.5 1779.7L2354.5 1788.3M2339.5 1788.3L2354.5 1779.7M2368.6 1775.8V1792.2M2361.1 1779.7L2376.1 1788.3M2361.1 1788.3L2376.1 1779.7M2390.2 1775.8V1792.2M2382.7 1779.7L2397.7 1788.3M2382.7 1788.3L2397.7 1779.7" stroke="#000" stroke-width="3.2" fill="none"/>
<g transform="translate(2134.8 2293.7) rotate(-30)"><text x="-174.8" y="0" font-size="38" font-weight="bold">WT + Ang</text><path d="M0 -25.1h19v2.1h-19zM0 -2.1h19v2.1h-19zM3.6 -25.1h3.8v25.1h-3.8zM11.6 -25.1h3.8v25.1h-3.8z" transform="translate(10.6 0)"/></g>
<g transform="translate(2208.4 2293.7) rotate(-30)"><text x="-236.2" y="0" font-size="38" font-weight="bold">L460fs + Ang</text><path d="M0 -25.1h19v2.1h-19zM0 -2.1h19v2.1h-19zM3.6 -25.1h3.8v25.1h-3.8zM11.6 -25.1h3.8v25.1h-3.8z" transform="translate(10.6 0)"/></g>
<g transform="translate(2281.4 2293.7) rotate(-30)"><text x="-242.5" y="0" font-size="38" font-weight="bold">G853fs + Ang</text><path d="M0 -25.1h19v2.1h-19zM0 -2.1h19v2.1h-19zM3.6 -25.1h3.8v25.1h-3.8zM11.6 -25.1h3.8v25.1h-3.8z" transform="translate(10.6 0)"/></g>
<g transform="translate(2402.8 2293.7) rotate(-30)"><text x="-174.8" y="0" font-size="38" font-weight="bold">WT + Ang</text><path d="M0 -25.1h19v2.1h-19zM0 -2.1h19v2.1h-19zM3.6 -25.1h3.8v25.1h-3.8zM11.6 -25.1h3.8v25.1h-3.8z" transform="translate(10.6 0)"/></g>
<g transform="translate(2475.8 2293.7) rotate(-30)"><text x="-236.2" y="0" font-size="38" font-weight="bold">L460fs + Ang</text><path d="M0 -25.1h19v2.1h-19zM0 -2.1h19v2.1h-19zM3.6 -25.1h3.8v25.1h-3.8zM11.6 -25.1h3.8v25.1h-3.8z" transform="translate(10.6 0)"/></g>
<g transform="translate(2548.8 2293.7) rotate(-30)"><text x="-242.5" y="0" font-size="38" font-weight="bold">G853fs + Ang</text><path d="M0 -25.1h19v2.1h-19zM0 -2.1h19v2.1h-19zM3.6 -25.1h3.8v25.1h-3.8zM11.6 -25.1h3.8v25.1h-3.8z" transform="translate(10.6 0)"/></g>

<!-- panelK -->

<text transform="translate(2735.4 1818) scale(0.973 1.04)" x="-8.1" y="0" font-size="122" font-weight="bold">K</text>
<text x="3186" y="1703" font-size="51" font-weight="bold" font-style="italic" text-anchor="middle">BNF</text>
<path d="M2966.3 1876.2V2220.3H3482.5" stroke="#000" stroke-width="3.5" fill="none"/>
<text x="2949.3" y="1891.6" font-size="38" font-weight="bold" text-anchor="end">3</text>
<text x="2949.3" y="2006.3" font-size="38" font-weight="bold" text-anchor="end">2</text>
<text x="2949.3" y="2120.4" font-size="38" font-weight="bold" text-anchor="end">1</text>
<text x="2949.3" y="2233.9" font-size="38" font-weight="bold" text-anchor="end">0</text>
<path d="M2953.3 1878h13M2953.3 1992.7h13M2953.3 2106.8h13M2953.3 2220.3h13M3015 2220.3v13M3089 2220.3v13M3162.5 2220.3v13M3283.6 2220.3v13M3356.6 2220.3v13M3430.6 2220.3v13" stroke="#000" stroke-width="3.5" fill="none"/>
<text x="2865" y="2042" font-size="37.5" font-weight="bold" text-anchor="middle" transform="rotate(-90 2865 2042)">Relative mRNA expression</text>
<text x="2915" y="2042" font-size="37.5" font-weight="bold" text-anchor="middle" transform="rotate(-90 2915 2042)">(Fold change)</text>
<path d="M2995.1 2220.3V2109.9H3036.8V2220.3" stroke="#000080" stroke-width="4.8" fill="none"/>
<path d="M3068.7 2220.3V2079.1H3109.8V2220.3" stroke="#000080" stroke-width="4.8" fill="none"/>
<path d="M3141.6 2220.3V1953.1H3183.3V2220.3" stroke="#000080" stroke-width="4.8" fill="none"/>
<path d="M3263.3 2220.3V2111.4H3304.4V2220.3" stroke="#990000" stroke-width="4.8" fill="none"/>
<path d="M3336.3 2220.3V2113.7H3377.4V2220.3" stroke="#990000" stroke-width="4.8" fill="none"/>
<path d="M3410.4 2220.3V2035.8H3451.5V2220.3" stroke="#990000" stroke-width="4.8" fill="none"/>
<path d="M3162.5 1945V1957M3152 1945h21M3152 1957h21" stroke="#000" stroke-width="3" fill="none" stroke-linecap="round"/>
<circle cx="3001.4" cy="2112.2" r="10.5" fill="#000080"/>
<circle cx="3012.2" cy="2103" r="10.5" fill="#000080"/>
<circle cx="3022" cy="2109.5" r="10.5" fill="#000080"/>
<circle cx="3031" cy="2105.2" r="10.5" fill="#000080"/>
<circle cx="3075.5" cy="2082.5" r="10.5" fill="#000080"/>
<circle cx="3085.2" cy="2072.7" r="10.5" fill="#000080"/>
<circle cx="3094.4" cy="2077" r="10.5" fill="#000080"/>
<circle cx="3104" cy="2076" r="10.5" fill="#000080"/>
<circle cx="3148.4" cy="1959.2" r="10.5" fill="#000080"/>
<circle cx="3162" cy="1943.5" r="10.5" fill="#000080"/>
<circle cx="3170" cy="1949" r="10.5" fill="#000080"/>
<circle cx="3177" cy="1947.3" r="10.5" fill="#000080"/>
<circle cx="3270.6" cy="2118.7" r="10.5" fill="#990000"/>
<circle cx="3279.8" cy="2108.4" r="10.5" fill="#990000"/>
<circle cx="3290.6" cy="2109.5" r="10.5" fill="#990000"/>
<circle cx="3298.7" cy="2107.9" r="10.5" fill="#990000"/>
<circle cx="3343" cy="2115" r="10.5" fill="#990000"/>
<circle cx="3352.8" cy="2111" r="10.5" fill="#990000"/>
<circle cx="3363.6" cy="2112.8" r="10.5" fill="#990000"/>
<circle cx="3372.8" cy="2111.7" r="10.5" fill="#990000"/>
<circle cx="3416.6" cy="2043" r="10.5" fill="#990000"/>
<circle cx="3426.8" cy="2028.4" r="10.5" fill="#990000"/>
<circle cx="3435.5" cy="2035" r="10.5" fill="#990000"/>
<circle cx="3444.7" cy="2028.4" r="10.5" fill="#990000"/>
<circle cx="3233.8" cy="1934" r="10" fill="#000080"/>
<text x="3271.7" y="1947.3" font-size="38" font-weight="bold" fill="#000080">Vehicle</text>
<circle cx="3233.8" cy="1980" r="10" fill="#990000"/>
<text x="3271.7" y="1993.3" font-size="38" font-weight="bold" fill="#990000">VER-155008</text>
<path d="M3003.5 1951V1932.2H3095.5V1951" stroke="#000" stroke-width="4.8" fill="none" stroke-linejoin="miter" stroke-linecap="round"/>
<path d="M3016.9 1900.3V1916.5M3009.5 1904.1L3024.3 1912.7M3009.5 1912.7L3024.3 1904.1M3038.3 1900.3V1916.5M3030.9 1904.1L3045.7 1912.7M3030.9 1912.7L3045.7 1904.1M3059.7 1900.3V1916.5M3052.3 1904.1L3067.1 1912.7M3052.3 1912.7L3067.1 1904.1M3081.1 1900.3V1916.5M3073.7 1904.1L3088.5 1912.7M3073.7 1912.7L3088.5 1904.1" stroke="#000" stroke-width="3.2" fill="none"/>
<path d="M3003.5 1909.5V1892.2H3160.9V1909.5" stroke="#000" stroke-width="4.8" fill="none" stroke-linejoin="miter" stroke-linecap="round"/>
<path d="M3049.3 1859.2V1875.4M3041.9 1863L3056.7 1871.6M3041.9 1871.6L3056.7 1863M3070.7 1859.2V1875.4M3063.3 1863L3078.1 1871.6M3063.3 1871.6L3078.1 1863M3092.1 1859.2V1875.4M3084.7 1863L3099.5 1871.6M3084.7 1871.6L3099.5 1863M3113.5 1859.2V1875.4M3106.1 1863L3120.9 1871.6M3106.1 1871.6L3120.9 1863" stroke="#000" stroke-width="3.2" fill="none"/>
<path d="M3147.4 1867.3V1850H3437.7V1867.3" stroke="#000" stroke-width="4.8" fill="none" stroke-linejoin="miter" stroke-linecap="round"/>
<path d="M3259.6 1815.9V1832.1M3252.2 1819.7L3267 1828.3M3252.2 1828.3L3267 1819.7M3281 1815.9V1832.1M3273.6 1819.7L3288.4 1828.3M3273.6 1828.3L3288.4 1819.7M3302.4 1815.9V1832.1M3295 1819.7L3309.8 1828.3M3295 1828.3L3309.8 1819.7M3323.8 1815.9V1832.1M3316.4 1819.7L3331.2 1828.3M3316.4 1828.3L3331.2 1819.7" stroke="#000" stroke-width="3.2" fill="none"/>
<path d="M3092.2 1824.6V1806.8H3342V1824.6" stroke="#000" stroke-width="4.8" fill="none" stroke-linejoin="miter" stroke-linecap="round"/>
<path d="M3183.9 1773.3V1789.5M3176.5 1777.1L3191.3 1785.7M3176.5 1785.7L3191.3 1777.1M3205.3 1773.3V1789.5M3197.9 1777.1L3212.7 1785.7M3197.9 1785.7L3212.7 1777.1M3226.7 1773.3V1789.5M3219.3 1777.1L3234.1 1785.7M3219.3 1785.7L3234.1 1777.1M3248.1 1773.3V1789.5M3240.7 1777.1L3255.5 1785.7M3240.7 1785.7L3255.5 1777.1" stroke="#000" stroke-width="3.2" fill="none"/>
<g transform="translate(2997 2290.3) rotate(-30)"><text x="-174.8" y="0" font-size="38" font-weight="bold">WT + Ang</text><path d="M0 -25.1h19v2.1h-19zM0 -2.1h19v2.1h-19zM3.6 -25.1h3.8v25.1h-3.8zM11.6 -25.1h3.8v25.1h-3.8z" transform="translate(10.6 0)"/></g>
<g transform="translate(3071 2290.3) rotate(-30)"><text x="-236.2" y="0" font-size="38" font-weight="bold">L460fs + Ang</text><path d="M0 -25.1h19v2.1h-19zM0 -2.1h19v2.1h-19zM3.6 -25.1h3.8v25.1h-3.8zM11.6 -25.1h3.8v25.1h-3.8z" transform="translate(10.6 0)"/></g>
<g transform="translate(3144.5 2290.3) rotate(-30)"><text x="-242.5" y="0" font-size="38" font-weight="bold">G853fs + Ang</text><path d="M0 -25.1h19v2.1h-19zM0 -2.1h19v2.1h-19zM3.6 -25.1h3.8v25.1h-3.8zM11.6 -25.1h3.8v25.1h-3.8z" transform="translate(10.6 0)"/></g>
<g transform="translate(3265.6 2290.3) rotate(-30)"><text x="-174.8" y="0" font-size="38" font-weight="bold">WT + Ang</text><path d="M0 -25.1h19v2.1h-19zM0 -2.1h19v2.1h-19zM3.6 -25.1h3.8v25.1h-3.8zM11.6 -25.1h3.8v25.1h-3.8z" transform="translate(10.6 0)"/></g>
<g transform="translate(3338.6 2290.3) rotate(-30)"><text x="-236.2" y="0" font-size="38" font-weight="bold">L460fs + Ang</text><path d="M0 -25.1h19v2.1h-19zM0 -2.1h19v2.1h-19zM3.6 -25.1h3.8v25.1h-3.8zM11.6 -25.1h3.8v25.1h-3.8z" transform="translate(10.6 0)"/></g>
<g transform="translate(3412.6 2290.3) rotate(-30)"><text x="-242.5" y="0" font-size="38" font-weight="bold">G853fs + Ang</text><path d="M0 -25.1h19v2.1h-19zM0 -2.1h19v2.1h-19zM3.6 -25.1h3.8v25.1h-3.8zM11.6 -25.1h3.8v25.1h-3.8z" transform="translate(10.6 0)"/></g>

<!-- panelL -->

<text transform="translate(44.9 2566) scale(0.976 1.04)" x="-8.1" y="0" font-size="122" font-weight="bold">L</text>
<rect x="259.2" y="2525.8" width="921.6" height="62.2" fill="#fff" stroke="#000" stroke-width="7.5" rx="2"/>
<path d="M464.3 2522.3L464.3 2591.5" stroke="#000" stroke-width="7.5"/>
<path d="M950.6 2522.3L950.6 2591.5" stroke="#000" stroke-width="7.5"/>
<rect x="607.9" y="2459.7" width="194.5" height="66.1" fill="#dc9696" stroke="#000" stroke-width="7.5" rx="2"/>
<rect x="840.8" y="2459.7" width="105.5" height="66.1" fill="#3b6093" stroke="#000" stroke-width="7.5" rx="2"/>
<text x="705.1" y="2494.7" font-size="21" font-weight="bold" text-anchor="middle" fill="#fff">Tetracaine</text>
<text x="893.9" y="2499.4" font-size="21" font-weight="bold" text-anchor="middle" fill="#fff">Caff</text>
<text x="352.5" y="2566.3" font-size="20" font-weight="bold" text-anchor="middle">1.8 Ca<tspan font-size="13" dy="-8">2+</tspan><tspan dy="8"> </tspan>NT</text>
<text x="1060.8" y="2566.3" font-size="20" font-weight="bold" text-anchor="middle">1.8 Ca<tspan font-size="13" dy="-8">2+</tspan><tspan dy="8"> </tspan>NT</text>
<text x="730.3" y="2560.8" font-size="20" font-weight="bold" text-anchor="middle">0 Ca<tspan font-size="13" dy="-8">2+</tspan><tspan dy="8">/0 Na</tspan><tspan font-size="13" dy="-8">+</tspan><tspan dy="8"> + 10 EGTA</tspan></text>
<g transform="translate(613.8 2683.6)"><text x="-145.1" y="0" font-size="49.5" font-weight="bold">WT + Ang</text><path d="M0 -36.9h39.6v6.7h-39.6zM0 -6.7h39.6v6.7h-39.6zM6.2 -36.9h8.2v36.9h-8.2zM25 -36.9h8.2v36.9h-8.2z" transform="translate(105.5 0)"/></g>
<text x="610.8" y="2743.6" font-size="49.5" font-weight="bold" text-anchor="middle">+ Vehicle</text>
<g transform="translate(1865 2682)"><text x="-185" y="0" font-size="49.5" font-weight="bold">L460fs + Ang</text><path d="M0 -36.9h39.6v6.7h-39.6zM0 -6.7h39.6v6.7h-39.6zM6.2 -36.9h8.2v36.9h-8.2zM25 -36.9h8.2v36.9h-8.2z" transform="translate(145.4 0)"/></g>
<text x="1862" y="2743" font-size="49.5" font-weight="bold" text-anchor="middle">+ Vehicle</text>
<g transform="translate(2964 2682)"><text x="-189.1" y="0" font-size="49.5" font-weight="bold">G853fs + Ang</text><path d="M0 -36.9h39.6v6.7h-39.6zM0 -6.7h39.6v6.7h-39.6zM6.2 -36.9h8.2v36.9h-8.2zM25 -36.9h8.2v36.9h-8.2z" transform="translate(149.5 0)"/></g>
<text x="2961" y="2743.5" font-size="49.5" font-weight="bold" text-anchor="middle">+ Vehicle</text>
<g transform="translate(613.8 3281)"><text x="-145.1" y="0" font-size="49.5" font-weight="bold">WT + Ang</text><path d="M0 -36.9h39.6v6.7h-39.6zM0 -6.7h39.6v6.7h-39.6zM6.2 -36.9h8.2v36.9h-8.2zM25 -36.9h8.2v36.9h-8.2z" transform="translate(105.5 0)"/></g>
<text x="610.8" y="3343" font-size="49.5" font-weight="bold" text-anchor="middle">+ VER-155008</text>
<g transform="translate(1865 3282)"><text x="-185" y="0" font-size="49.5" font-weight="bold">L460fs + Ang</text><path d="M0 -36.9h39.6v6.7h-39.6zM0 -6.7h39.6v6.7h-39.6zM6.2 -36.9h8.2v36.9h-8.2zM25 -36.9h8.2v36.9h-8.2z" transform="translate(145.4 0)"/></g>
<text x="1862" y="3343" font-size="49.5" font-weight="bold" text-anchor="middle">+ VER-155008</text>
<g transform="translate(2960 3281)"><text x="-189.1" y="0" font-size="49.5" font-weight="bold">G853fs + Ang</text><path d="M0 -36.9h39.6v6.7h-39.6zM0 -6.7h39.6v6.7h-39.6zM6.2 -36.9h8.2v36.9h-8.2zM25 -36.9h8.2v36.9h-8.2z" transform="translate(149.5 0)"/></g>
<text x="2957" y="3343" font-size="49.5" font-weight="bold" text-anchor="middle">+ VER-155008</text>
<path d="M281.3 2962.6L282.5 2996.5L286.4 3035.5L289.4 3049.3L292.3 3063.9L294.9 3072L297.5 3077.3L299.8 3078L302.2 3081.3L304.7 3078L307.3 3074.9L308.5 3035.1L309.3 2917.3L310.8 2818.9L312.4 2746.9L314.4 2819.1L316.3 2917.4L319.1 2977.1L323 3012L327 3035.2L329.9 3052.7L332.9 3067.1L335.8 3073.1L338.8 3076.6L341.7 3077.8L344.7 3079.2L348.6 3073.4L349.2 3015.7L349.7 2897.3L351.1 2798.7L352.3 2752.1L354.7 2838.9L355.7 2746.1L357.7 2742.2L359.6 2778.8L361.6 2858.4L363.6 2917.6L366.5 2976L370.5 3025.8L374.4 3054.4L378.4 3077.3L380.4 3076.6L382.4 3079.5L386.3 3073.9L388.3 3073.6L390.3 3072.7L394.2 3086.2L396.9 3087L399.5 3091.1L402.1 3091.1L404.5 3093.2L406.8 3096.3L409.2 3097.5L411.6 3094.9L413.9 3095.8L415.9 3097.4L417.9 3098.3L419.9 3097.5L422 3097.6L424 3095.8L426 3097.8L428 3098.4L430 3096.3L432 3094.9L434 3095.7L436 3097.6L438 3094.3L440 3096.4L442 3095.1L444 3096.1L446 3095.9L448.1 3096.2L450.1 3098L452.1 3096.5L454.1 3097.6L456.1 3095.6L458.1 3095.1L460.1 3096.2L462.1 3091.9L464.1 3095.5L466.1 3095.6L468.1 3093.7L470.1 3095.9L472.2 3094.5L474.2 3091.9L476.2 3094.7L478.2 3093.7L480.3 3094.2L482.3 3094.6L484.3 3096.3L486.4 3094.8L488.4 3094.5L490.4 3095L492.5 3092.1L494.5 3096L496.5 3092.9L498.6 3094.8L500.6 3092.6L502.6 3092.8L504.6 3093.4L506.7 3096.3L508.7 3094.7L510.7 3092.9L512.8 3093.3L514.8 3092.1L516.8 3093.5L518.9 3092.7L520.9 3094.3L522.9 3091.5L525 3092.8L527 3092L529 3092.1L531 3093.9L533.1 3093.1L535.1 3093.6L537.2 3094.3L539.3 3094.1L541.4 3090.7L543.5 3093.1L545.6 3090L547.7 3092.1L549.8 3094.6L551.9 3091.7L554 3091.4L556.1 3092L558.2 3091.7L560.3 3091.6L562.4 3090.5L564.5 3092.8L566.6 3092.4L569.2 3099.4L571.8 3108.4L574.5 3117.3L576.6 3118L578.7 3117.4L580.9 3118L583 3116.9L585.2 3116.1L587.3 3117.1L589.5 3119.3L591.6 3119.4L593.8 3118.5L595.9 3117.8L598.1 3119.2L600.1 3120.9L602.1 3120.4L604.1 3117.7L606.2 3118.5L608.2 3116.6L610.2 3116.9L612.2 3118.6L614.2 3118.3L616.3 3119.4L618.3 3119.8L620.3 3119.1L622.3 3119.7L624.4 3117.2L626.4 3116.4L628.4 3118.4L630.4 3121.2L632.5 3118.1L634.5 3116.1L636.5 3117.8L638.5 3119.3L640.6 3116L642.6 3118.3L644.6 3116.4L646.6 3118.8L648.6 3118.1L650.7 3117.4L652.7 3119.6L654.7 3116.4L656.7 3115.9L658.8 3119.2L660.8 3115.6L662.8 3119.5L664.8 3116.5L666.9 3115.1L668.9 3116.4L670.9 3116.4L673 3116.3L675 3115.7L677.1 3117.1L679.1 3112.6L681.2 3114.7L683.3 3114.9L685.3 3117.4L687.4 3112.3L689.4 3114.3L691.5 3113.1L693.5 3113.5L695.6 3115L697.6 3114.6L699.7 3115.7L701.7 3112.9L703.8 3113.9L705.8 3114.9L707.9 3114.3L709.9 3112.6L712 3114.3L714 3111.5L716.1 3114.8L718.3 3110.4L720.6 3107.8L722.8 3106.1L725.1 3104.6L727.3 3103.5L729.6 3098.8L731.8 3096.3L734 3096.9L736.1 3094.5L738.3 3092.8L740.4 3095.5L742.6 3093.4L744.7 3094.8L746.9 3091.4L749 3088.4L751.2 3092L753.3 3091.2L755.4 3092.5L757.5 3091L759.5 3090.7L761.5 3090.9L763.6 3089.6L765.6 3090L767.6 3088.1L769.7 3090.4L771.7 3088.6L773.7 3089L775.8 3090.4L777.8 3090.5L779.8 3087.9L781.8 3091.7L783.9 3088.3L785.9 3090L787.9 3090.1L790 3089L792 3088.9L794 3090.9L796.1 3089.6L798.1 3088.9L800.1 3085.9L802.2 3087.1L804.2 3089.5L806.2 3088.2L808.2 3086.6L810.3 3086.9L812.3 3087.2L814.3 3088.4L816.4 3087.9L818.4 3088.6L820.4 3086.2L822.5 3088.6L824.5 3086.7L826.5 3086.9L828.6 3089.6L830.6 3087.4L832.6 3087.1L834.6 3087L836.7 3086.8L838.7 3089.3L840.7 3089.1L842.8 3088.2L844.8 3087.5L846.8 3088.7L848.9 3087.2L850.9 3087.9L852.9 3087.8L855 3087.4L857 3089.5L859 3089.6L861 3089L863.1 3084.8L865.1 3089.7L867.1 3088.2L869.2 3086.7L871.2 3087.3L873.2 3088.8L875.3 3088.8L877.3 3088.4L879.3 3087.5L881.4 3087.4L883.4 3088.3L885.4 3087L887.5 3085.9L889.5 3086.1L891.6 3086.7L893.6 3087.2L895.7 3089.6L897.7 3084.8L899.8 3087.1L901.8 3086.2L903.9 3086.7L905.9 3087.9L907.9 3087.7L910 3085.8L912 3085.2L914.1 3084L916.1 3085.6L918.2 3087.2L920.2 3085.2L922.3 3086.3L924.3 3086.2L926.4 3085.7L928.4 3086.5L930.5 3084.9L932.5 3084.7L934.9 2891.8L938 2691.8L941.2 2789.7L944.3 2860.6L948.2 2916L952.2 2954.1L954.9 2973.1L957.7 2987.4L959.8 2993.8L961.9 3001.5L964 3011.6L966.6 3015.5L969.2 3023L971.8 3030.7L974.5 3035.9L977.1 3040.6L979.7 3046.1L981.9 3046.9L984.1 3048.9L986.3 3052.5L988.5 3053.4L990.6 3053.8L992.8 3058.3L995 3055.3L997.2 3059.7L999.4 3062.2L1001.5 3063.1L1003.7 3062.5L1005.8 3062.3L1008 3064.1L1010.1 3063.6L1012.3 3065L1014.4 3061.1L1016.6 3065.8L1018.7 3064.8L1020.8 3067.6L1023 3067.8L1025 3067.9L1027 3066.4L1029 3067.6L1031.1 3066.6L1033.1 3067.4L1035.1 3067L1037.1 3066.1L1039.1 3069.9L1041.2 3068.3L1043.2 3064.8L1045.2 3068.7L1047.2 3065.8L1049.2 3067.3L1051.2 3066.9L1053.3 3067.1L1055.3 3068.1L1057.3 3067.5L1059.3 3066.1L1061.3 3068L1063.4 3068.5L1065.4 3070.4L1067.4 3067.6L1069.4 3066.7L1071.4 3067.8L1073.4 3069.2L1075.5 3067.3L1077.5 3067.5L1079.5 3069.3L1081.5 3068.6L1083.5 3069L1085.5 3067.9L1087.6 3067.7L1089.6 3068.4L1091.6 3068.7L1093.6 3068.5L1095.6 3069.6L1097.7 3069.8L1099.7 3069.9L1101.7 3069.8L1103.7 3068.2L1105.7 3068L1107.7 3070.6L1109.8 3069.6L1111.8 3069.9L1113.8 3068.3L1115.8 3069.6L1117.8 3069.2L1119.8 3069L1121.9 3069.4L1123.9 3068.4L1125.9 3070.5L1127.9 3072L1129.9 3069.7L1132 3070.8L1134 3069.4L1136 3071.8L1138 3073.4L1140 3069.5L1142 3070.9L1144.1 3073.2L1146.1 3071.9L1148.1 3071.7L1150.1 3069L1152.1 3071.5L1154.1 3073L1156.2 3073.8L1158.2 3072.9L1160.2 3071.4L1162.2 3071.3L1164.2 3070L1166.3 3071L1168.3 3074L1170.3 3072.5L1172.3 3071L1174.3 3074.6L1176.3 3070.8L1178.4 3074.7L1180.4 3073.1" stroke="#000" stroke-width="6" fill="none" stroke-linejoin="round" stroke-linecap="round"/>
<text x="536.7" y="3005.4" font-size="31" font-weight="bold" text-anchor="middle">Tet</text>
<path d="M538.3 3016.5L538.3 3051.5" stroke="#000" stroke-width="3.2"/>
<path d="M527.2 3051.5H549.3L538.3 3083.4z" stroke="#000" stroke-width="3.2" fill="#fff" stroke-linejoin="miter"/>
<text x="864.5" y="3005.4" font-size="31" font-weight="bold" text-anchor="middle">Caff</text>
<path d="M879.8 3008.6L879.8 3043.7" stroke="#000" stroke-width="3.2"/>
<path d="M868.8 3043.7H890.8L879.8 3075.5z" stroke="#000" stroke-width="3.2" fill="#fff" stroke-linejoin="miter"/>
<path d="M1461.3 3072.6L1462.7 3096.6L1463.7 3102.8L1464.6 3099.8L1465.6 3103.4L1466.6 3086.6L1467.6 3092.3L1468.5 3092.6L1469.5 3048.5L1470.5 3005.3L1471.4 2962.3L1472.5 2904.6L1473.6 2845.4L1474.7 2829.6L1475.8 2806.8L1476.7 2787.9L1477.6 2818.3L1478.5 2806.8L1479.4 2807.9L1480.5 2828.6L1481.6 2847.4L1482.6 2881L1483.5 2913.3L1484.5 2949L1485.4 2967.8L1486.3 2994.8L1487.2 3011.8L1488.1 3035.5L1489 3043.1L1490 3050.7L1490.9 3057.2L1491.8 3068.3L1492.9 3042.2L1493.9 3068.7L1495 3071L1496.1 3071.8L1497 3086.7L1497.9 3070.3L1498.8 3077.7L1499.8 3065.2L1500.7 3082.5L1501.6 3070.3L1502.5 3071.8L1503.4 3100.5L1504.3 3090L1505.2 3086.2L1506.1 3088.5L1507 3078.3L1507.9 3082.2L1508.8 3093.7L1509.7 3076.9L1510.7 3094.9L1511.6 3080.3L1512.5 3093L1513.4 3083.8L1514.3 3103.6L1515.2 3098L1516.1 3086.6L1517 3076.4L1517.9 3083.8L1518.8 3088.5L1519.7 3081.4L1520.6 3090L1521.5 3094.6L1522.5 3086.7L1523.4 3083.6L1524.3 3091.8L1525.2 3085.9L1526.1 3051.6L1527.1 3013.2L1528.1 2980.4L1529.2 2911.6L1530.3 2844.9L1531.4 2828.8L1532.4 2805.2L1533.4 2802.7L1534.3 2808.1L1535.2 2814L1536.1 2805.1L1537.2 2827.8L1538.3 2846.5L1539.2 2871.9L1540.1 2899L1541 2920.7L1541.9 2949.6L1543 2969.8L1544.1 2992.2L1545.2 3013.4L1546.2 3035L1547.2 3042L1548.1 3050.9L1549 3061.2L1549.9 3071.6L1551 3072.9L1552.1 3073.5L1553.1 3068.9L1554.2 3079.3L1555.1 3090.5L1556.1 3067.3L1557 3083L1557.9 3085L1558.8 3080.5L1559.7 3084.8L1560.6 3089.8L1561.5 3096.3L1562.4 3090.6L1563.3 3093.8L1564.2 3085.1L1565.1 3089.3L1566 3085.4L1566.9 3086.9L1567.9 3082.2L1568.8 3091L1569.7 3096.4L1570.6 3085L1571.5 3087.9L1572.4 3090.4L1573.3 3086.1L1574.2 3092.6L1575.1 3087.7L1576 3077.5L1576.9 3078.5L1577.8 3090.8L1578.8 3090.1L1579.7 3093.4L1580.6 3087.3L1581.5 3086.9L1582.4 3074.3L1583.3 3095.2L1584.2 3078.8L1585.1 3092.6L1586 3077.1L1586.9 3080.5L1587.8 3086.2L1588.7 3082L1589.6 3080L1590.6 3091.2L1591.5 3089.6L1592.4 3087.6L1593.3 3082.3L1594.2 3078.8L1595.1 3081.2L1596 3080.9L1596.9 3084.3L1597.8 3089.9L1598.7 3083.2L1599.6 3078.7L1600.5 3079.9L1601.5 3093.2L1602.4 3085.3L1603.3 3085.7L1604.2 3086L1605.1 3088.1L1606 3084.9L1606.9 3092.1L1607.8 3089.5L1608.7 3063.8L1609.6 3082.7L1610.5 3104.4L1611.4 3074.5L1612.3 3084.4L1613.3 3091L1614.2 3083.4L1615.1 3092.7L1616 3074.4L1616.9 3074.4L1617.8 3081.8L1618.7 3077.9L1619.6 3075.5L1620.5 3087.2L1621.4 3085.3L1622.3 3083.6L1623.2 3080.9L1624.2 3085.7L1625.1 3083.2L1626 3079.1L1626.9 3088L1627.8 3087.2L1628.7 3085.3L1629.6 3089.8L1630.5 3077.3L1631.4 3084.2L1632.3 3081.8L1633.2 3094.9L1634.1 3089.3L1635 3100.8L1636 3097.1L1636.9 3083.7L1637.8 3078.8L1638.7 3090L1639.6 3084.8L1640.5 3085.9L1641.4 3079.7L1642.3 3091.5L1643.2 3088.8L1644.1 3090.5L1645 3090L1645.9 3081.7L1646.9 3072.5L1647.8 3086.4L1648.7 3084L1649.6 3085L1650.5 3095.6L1651.4 3088.3L1652.3 3099.7L1653.2 3090.6L1654.1 3094.3L1655 3093.2L1655.9 3095.5L1656.8 3081.2L1657.7 3097.8L1658.7 3091.1L1659.6 3083.7L1660.5 3095L1661.4 3093.3L1662.3 3100.1L1663.2 3096.3L1664.1 3094L1665 3080.1L1665.9 3103.5L1666.8 3102.3L1667.7 3097.5L1668.6 3095.5L1669.6 3100.9L1670.5 3086.5L1671.4 3097.7L1672.3 3093.1L1673.2 3086.1L1674.1 3095.8L1675 3095.9L1675.9 3105.5L1676.8 3100.4L1677.7 3082.7L1678.6 3080.2L1679.5 3093.4L1680.4 3092.5L1681.4 3087.4L1682.3 3083.7L1683.2 3092.6L1684.1 3085.8L1685 3089.1L1685.9 3100L1686.8 3095.6L1687.7 3088.7L1688.6 3086.1L1689.5 3092.6L1690.4 3106.1L1691.3 3090.4L1692.3 3106.1L1693.2 3088.4L1694.1 3092.5L1695 3098.8L1695.9 3088.5L1696.8 3094.3L1697.7 3084.5L1698.6 3098.6L1699.5 3102.1L1700.4 3089.4L1701.3 3095.2L1702.2 3091.1L1703.1 3078.8L1704.1 3113.2L1705 3098.3L1705.9 3099.7L1706.8 3096.7L1707.7 3095.2L1708.6 3110.5L1709.5 3081.2L1710.4 3091.8L1711.3 3091L1712.2 3092.5L1713.1 3098.8L1714 3088.9L1715 3084.6L1715.9 3086L1716.8 3097.1L1717.7 3100.6L1718.6 3099.6L1719.5 3105.1L1720.4 3090.3L1721.3 3100.9L1722.2 3098.7L1723.1 3092.8L1724 3088.7L1724.9 3100.1L1725.8 3089.2L1726.8 3091.9L1727.7 3087.1L1728.6 3106.2L1729.5 3093.6L1730.4 3090.4L1731.3 3092.2L1732.2 3092.4L1733.1 3094.6L1734 3082L1734.9 3085.8L1735.8 3097.5L1736.7 3101.5L1737.6 3086.8L1738.6 3094.6L1739.5 3089.7L1740.4 3077.8L1741.3 3091.5L1742.2 3086L1743.1 3099.7L1744 3092.1L1744.9 3093.2L1745.8 3083.2L1746.7 3094.4L1747.6 3079.7L1748.5 3094.8L1749.5 3102.9L1750.4 3084.7L1751.3 3099.1L1752.2 3103L1753.1 3091.7L1754 3100.8L1754.9 3093.6L1755.8 3089.5L1756.7 3078.8L1757.6 3085.3L1758.5 3082.4L1759.4 3109.4L1760.3 3094.5L1761.3 3091.4L1762.2 3083.1L1763.1 3104.6L1764 3084.4L1764.9 3102.9L1765.8 3100L1766.7 3092.9L1767.6 3087.7L1768.5 3092L1769.4 3083L1770.3 3096.8L1771.2 3104L1772.2 3098.4L1773.1 3099.4L1774 3087.1L1774.9 3094.1L1775.8 3084.8L1776.7 3088.7L1777.6 3097L1778.5 3109.4L1779.4 3092.3L1780.3 3092L1781.2 3078.4L1782.1 3092.8L1783 3085.2L1784 3081.7L1784.9 3081L1785.8 3092.4L1786.7 3088.6L1787.6 3096.1L1788.5 3089.7L1789.4 3091.2L1790.3 3101.5L1791.2 3096.8L1792.1 3096.5L1793 3101.4L1793.9 3092.6L1794.9 3084L1795.8 3085.4L1796.7 3079.9L1797.6 3093.3L1798.5 3088L1799.4 3094.4L1800.3 3096.6L1801.2 3085L1802.1 3091.9L1803 3099.5L1803.9 3091.1L1804.8 3097L1805.7 3089.1L1806.7 3083.7L1807.6 3088.7L1808.5 3077.1L1809.4 3095.5L1810.3 3087.1L1811.2 3100.4L1812.1 3082.6L1813 3092.3L1813.9 3094.1L1814.8 3090.5L1815.7 3094.8L1816.6 3087L1817.6 3085L1818.5 3082.9L1819.4 3089L1820.3 3087.5L1821.2 3095.2L1822.1 3091.1L1823 3089.3L1823.9 3091.8L1824.8 3086.6L1825.7 3100.4L1826.6 3109L1827.5 3099.7L1828.4 3110.3L1829.4 3119.9L1830.3 3113.3L1831.2 3122.5L1832.1 3121.2L1833 3144.6L1833.9 3140.1L1834.8 3139.2L1835.7 3126.5L1836.6 3136.5L1837.5 3131.3L1838.4 3135.5L1839.3 3129.5L1840.3 3135.2L1841.2 3129.2L1842.1 3137.2L1843 3148.2L1843.9 3126.5L1844.8 3127.5L1845.7 3140.9L1846.6 3143.5L1847.5 3135.8L1848.4 3143.2L1849.3 3142.5L1850.2 3144L1851.1 3150.4L1852.1 3136.6L1853 3145.7L1853.9 3142.4L1854.8 3136L1855.7 3144.3L1856.6 3131.4L1857.5 3130L1858.4 3148.1L1859.3 3132.5L1860.2 3152.3L1861.1 3147.5L1862 3136.3L1863 3133.7L1863.9 3124L1864.8 3139.2L1865.7 3128L1866.6 3150.7L1867.5 3127.4L1868.4 3139.8L1869.3 3119.8L1870.2 3136.6L1871.1 3148.5L1872 3135.7L1872.9 3133L1873.8 3135.3L1874.8 3141.3L1875.7 3144.9L1876.6 3136.7L1877.5 3123.7L1878.4 3140.4L1879.3 3145.1L1880.2 3154.4L1881.1 3139.1L1882 3139L1882.9 3133.8L1883.8 3143L1884.7 3150.1L1885.7 3130.3L1886.6 3137.9L1887.5 3129.7L1888.4 3132.2L1889.3 3135.7L1890.2 3140.4L1891.1 3130.8L1892 3134.6L1892.9 3146.4L1893.8 3140.1L1894.7 3141.4L1895.6 3139.1L1896.5 3134.8L1897.5 3139.1L1898.4 3139.7L1899.3 3135.9L1900.2 3143.1L1901.1 3135.7L1902 3142L1902.9 3135.6L1903.8 3140.6L1904.7 3130.4L1905.6 3131.1L1906.5 3126.8L1907.4 3143.6L1908.4 3138.5L1909.3 3136.3L1910.2 3139.1L1911.1 3128.6L1912 3135.2L1912.9 3130.7L1913.8 3120.9L1914.7 3132.3L1915.6 3127.8L1916.5 3144.2L1917.4 3128.5L1918.3 3129.3L1919.2 3140.7L1920.2 3133.5L1921.1 3123.9L1922 3135L1922.9 3127.8L1923.8 3145.4L1924.7 3125.5L1925.6 3127.6L1926.5 3113.2L1927.4 3127.9L1928.3 3146.1L1929.2 3131.7L1930.1 3125.6L1931.1 3134.4L1932 3130.2L1932.9 3131.8L1933.8 3149.9L1934.7 3146.4L1935.6 3143.3L1936.5 3143.7L1937.4 3125L1938.3 3117.5L1939.2 3136.8L1940.1 3134.2L1941 3131.6L1941.9 3130.3L1942.9 3136.2L1943.8 3135L1944.7 3132.7L1945.6 3134.3L1946.5 3129.2L1947.4 3127.9L1948.3 3140.4L1949.2 3128.6L1950.1 3144.5L1951 3134.8L1951.9 3130.5L1952.8 3138L1953.8 3126.3L1954.7 3128.4L1955.6 3127.2L1956.5 3129.5L1957.4 3134.3L1958.3 3144.3L1959.2 3133L1960.1 3121.5L1961 3123.1L1961.9 3116L1962.8 3134L1963.7 3135L1964.6 3131L1965.6 3131.1L1966.5 3132.2L1967.4 3131.4L1968.3 3132.9L1969.2 3129.7L1970.1 3121L1971 3134.7L1971.9 3137.4L1972.8 3116L1973.7 3126L1974.6 3119.4L1975.5 3131.1L1976.5 3125.3L1977.4 3137.4L1978.3 3135.1L1979.2 3123.7L1980.1 3123.5L1981 3122.6L1981.9 3130.8L1982.8 3119.9L1983.7 3128.8L1984.6 3114.8L1985.5 3131.4L1986.4 3126.4L1987.3 3113.8L1988.3 3115.5L1989.2 3121.3L1990.1 3121.4L1991 3097.9L1991.9 3119L1992.8 3127.5L1993.7 3112.5L1994.6 3105.1L1995.5 3122.6L1996.4 3114.7L1997.3 3113.5L1998.2 3115.6L1999.2 3101.5L2000.1 3104.5L2001 3100.3L2001.9 3099.4L2002.8 3104.3L2003.7 3098.2L2004.6 3116.3L2005.5 3107.5L2006.4 3108.9L2007.3 3090.2L2008.2 3099.6L2009.1 3099.5L2010 3101.2L2011 3102.7L2011.9 3093.3L2012.8 3091.9L2013.7 3104.7L2014.6 3113.5L2015.5 3111.7L2016.4 3094.2L2017.3 3090.1L2018.2 3096.5L2019.1 3098L2020 3106.7L2020.9 3091.9L2021.9 3087.7L2022.8 3099.9L2023.7 3086.7L2024.6 3085.2L2025.5 3094.6L2026.4 3088.9L2027.3 3082.7L2028.2 3088.3L2029.1 3087.2L2030 3088.5L2030.9 3084.8L2031.8 3094.2L2032.7 3087.4L2033.7 3085.6L2034.6 3097.4L2035.5 3083.2L2036.4 3095.2L2037.3 3093.9L2038.2 3087.6L2039.1 3091.2L2040 3079L2040.9 3091.3L2041.8 3082.1L2042.7 3083.3L2043.6 3091.3L2044.5 3084.1L2045.5 3090.3L2046.4 3092.2L2047.3 3096.7L2048.2 3092L2049.1 3096.5L2050 3083.7L2050.9 3086.4L2051.8 3093.6L2052.7 3097.4L2053.6 3092.1L2054.5 3085.1L2055.4 3081.2L2056.4 3082L2057.3 3096.7L2058.2 3081.7L2059.1 3087L2060 3093.1L2060.9 3091.7L2061.8 3083.5L2062.7 3102.6L2063.6 3089.6L2064.5 3090.4L2065.4 3094.1L2066.3 3086.1L2067.2 3093.2L2068.2 3087.2L2069.1 3081.8L2070 3081.3L2070.9 3090.8L2071.8 3088.7L2072.7 3086.8L2073.6 3084.7L2074.5 3086.1L2075.4 3093.5L2076.3 3095.6L2077.2 3086L2078.1 3089.5L2079.1 3074.5L2080 3079.5L2080.9 3082.6L2081.8 3081.1L2082.7 3092.4L2083.6 3072.7L2084.5 3090.8L2085.4 3092.2L2086.3 3102.9L2087.2 3083.8L2088.1 3090.4L2089 3097.6L2089.9 3093.7L2090.9 3080.4L2091.8 3084.5L2092.7 3078.9L2093.6 3087.4L2094.5 3091.7L2095.4 3096.5L2096.3 3090.7L2097.2 3093.1L2098.1 3094.2L2099 3085.2L2100 3061.2L2101 3035.1L2101.9 3006.5L2102.9 2971.2L2103.9 2939.3L2104.8 2905.4L2105.7 2864.5L2106.7 2818.4L2107.6 2779.1L2108.5 2752.2L2109.4 2747.5L2110.4 2737.8L2111.4 2737.2L2112.3 2737.7L2113.3 2733.2L2114.3 2737.2L2115.3 2740.5L2116.2 2732.8L2117.2 2741.1L2118.1 2746.2L2119 2738.1L2119.9 2746.6L2120.8 2741.6L2121.7 2755.5L2122.6 2759.5L2123.5 2757.1L2124.5 2763.9L2125.4 2770L2126.3 2773.7L2127.2 2762.2L2128.1 2772.1L2129 2766.9L2129.9 2766.5L2130.8 2789.7L2131.7 2790.6L2132.6 2796.9L2133.5 2796.1L2134.4 2789.8L2135.3 2797.6L2136.3 2796.2L2137.2 2813.5L2138.1 2791.3L2139 2814.7L2139.9 2811.9L2140.8 2824.8L2141.7 2832.1L2142.6 2823.1L2143.5 2841.1L2144.4 2843.1L2145.3 2828.3L2146.2 2856.2L2147.2 2839L2148.1 2841.7L2149 2861.8L2149.9 2854L2150.8 2864.6L2151.7 2866.6L2152.6 2863.7L2153.5 2886.1L2154.4 2889.2L2155.3 2883.2L2156.2 2897.7L2157.1 2890.5L2158 2896.3L2159 2896.3L2159.9 2893.1L2160.8 2903.9L2161.7 2903.5L2162.6 2917L2163.5 2919.2L2164.4 2918L2165.3 2935L2166.2 2932.5L2167.1 2946.7L2168 2935L2168.9 2939L2169.9 2940.5L2170.8 2951.2L2171.7 2952.4L2172.6 2957.7L2173.5 2973.7L2174.4 2970.9L2175.3 2964.9L2176.2 2976L2177.1 2975.3L2178 2978.9L2178.9 2983.5L2179.8 2986.8L2180.7 2992.2L2181.7 2996.2L2182.6 2990.7L2183.5 2986.1L2184.4 2993.2L2185.3 2993.2L2186.2 2994L2187.1 2988.7L2188 2997.7L2188.9 2987.2L2189.8 3010.2L2190.7 3007.9L2191.6 3009.3L2192.6 2998.9L2193.5 3008.5L2194.4 3017.1L2195.3 3008L2196.2 3003.4L2197.1 3011.5L2198 2997.7L2198.9 3021.5L2199.8 3019.4L2200.7 3008L2201.6 3023L2202.5 3026.6L2203.4 3023.6L2204.4 3024.2L2205.3 3030.8L2206.2 3022L2207.1 3030.7L2208 3019.9L2208.9 3016.9L2209.8 3020L2210.7 3015.4L2211.6 3025.9L2212.5 3018.7L2213.4 3026.6L2214.3 3026.7L2215.3 3036.4L2216.2 3037.8L2217.1 3022L2218 3025.1L2218.9 3025.6L2219.8 3022.9L2220.7 3040.3L2221.6 3036.8L2222.5 3027.1L2223.4 3019.3L2224.3 3025L2225.2 3030.1L2226.1 3041.4L2227.1 3021.9L2228 3041.5L2228.9 3021.7L2229.8 3034.7L2230.7 3024.5L2231.6 3030.1L2232.5 3016.8L2233.4 3038.2L2234.3 3034.7L2235.2 3027.6L2236.1 3020.4L2237 3035.3L2238 3036.1L2238.9 3026.6L2239.8 3040.6L2240.7 3036.8L2241.6 3030.1L2242.5 3032.9L2243.4 3021.7L2244.3 3044.5L2245.2 3046.6L2246.1 3038.7L2247 3031.5L2247.9 3032.7L2248.8 3038.8L2249.8 3035L2250.7 3043.5L2251.6 3035.7L2252.5 3048.4L2253.4 3050.7L2254.3 3038.6L2255.2 3037.3L2256.1 3022.6L2257 3043.9L2257.9 3046.6L2258.8 3037.6L2259.7 3052.3L2260.7 3040.1L2261.6 3036.9L2262.5 3051.2L2263.4 3048.9L2264.3 3031.6L2265.2 3041.4L2266.1 3037.6L2267 3045.4L2267.9 3048.5L2268.8 3044.3L2269.7 3048.9L2270.6 3054.5L2271.5 3046.2L2272.5 3039.9L2273.4 3042.2L2274.3 3055.2L2275.2 3061.7L2276.1 3048.7L2277 3052.9L2277.9 3044.9L2278.8 3046.8L2279.7 3057.9L2280.6 3047.9L2281.5 3053L2282.4 3052.9L2283.4 3060.5L2284.3 3054.3L2285.2 3052.6L2286.1 3051.2L2287 3049.9L2287.9 3061L2288.8 3069.2L2289.7 3043.5L2290.6 3062.1L2291.5 3048.3L2292.4 3051.3L2293.3 3053.8L2294.2 3053.2L2295.2 3054L2296.1 3052.7L2297 3069.9L2297.9 3047.5L2298.8 3053.4L2299.7 3052.9L2300.6 3060L2301.5 3050L2302.4 3059.2L2303.3 3060.5L2304.2 3073.6L2305.1 3064.9L2306.1 3060.3L2307 3061.8L2307.9 3074.3L2308.8 3060.9L2309.7 3057.2L2310.6 3058.1L2311.5 3060.2L2312.4 3069.3L2313.3 3056.5L2314.2 3059.7L2315.1 3063.9L2316 3058L2316.9 3069.3L2317.9 3062.8L2318.8 3069.8L2319.7 3070.6L2320.6 3078.2L2321.5 3080.7L2322.4 3063.3L2323.3 3060.9L2324.2 3062.7L2325.1 3074.9L2326 3076L2326.9 3073.1L2327.8 3073.6L2328.7 3085.2L2329.7 3081.6L2330.6 3077.7L2331.5 3081.2L2332.4 3067.2L2333.3 3086.6L2334.2 3093.6L2335.1 3081L2336 3077.7L2336.9 3090.1L2337.8 3078.8L2338.7 3083" stroke="#000" stroke-width="6" fill="none" stroke-linejoin="round" stroke-linecap="round"/>
<text x="1778" y="2992.4" font-size="31" font-weight="bold" text-anchor="middle">Tet</text>
<path d="M1778.7 3006.8L1778.7 3041.5" stroke="#000" stroke-width="3.2"/>
<path d="M1768.5 3041.5H1788.9L1778.7 3070.7z" stroke="#000" stroke-width="3.2" fill="#fff" stroke-linejoin="miter"/>
<text x="2066.4" y="2992.4" font-size="31" font-weight="bold" text-anchor="middle">Caff</text>
<path d="M2082.3 3001.7L2082.3 3037.8" stroke="#000" stroke-width="3.2"/>
<path d="M2072.2 3037.8H2092.5L2082.3 3068.5z" stroke="#000" stroke-width="3.2" fill="#fff" stroke-linejoin="miter"/>
<path d="M2629.4 3013.6L2630.5 3037.1L2631.5 3056.7L2632.6 3084.4L2633.6 3080.7L2634.7 3082.8L2635.7 3088.3L2637 3007.4L2638.3 2928.3L2639.2 2851.8L2640.2 2778.8L2641.1 2773.5L2642.1 2776.3L2643 2769.1L2644 2773.2L2644.9 2844.1L2645.8 2914.1L2646.8 2937.1L2647.7 2960.1L2648.7 2984.9L2649.6 3008.1L2650.6 3031.1L2651.5 3054.9L2652.5 3054.1L2653.5 3065.6L2654.6 3072.7L2655.6 3080.8L2656.6 3082L2657.6 3031L2658.7 2977.6L2659.7 2927.7L2661 2853.2L2662.3 2776.6L2663.2 2788.2L2664.2 2773L2665.1 2786.8L2666 2783.5L2667.3 2849L2668.6 2916.2L2669.6 2944.1L2670.6 2972.4L2671.6 2998.8L2672.6 3026.1L2673.6 3051.8L2674.5 3054.1L2675.4 3062.5L2676.3 3063.1L2677.2 3075.7L2678.1 3066.3L2679 3073.9L2679.9 3081.9L2681 3029L2682 2982.1L2683.1 2925.5L2684.4 2851.3L2685.6 2772.5L2686.6 2782.5L2687.5 2765.8L2688.5 2779.8L2689.4 2774L2690.7 2838.8L2691.9 2902.3L2692.9 2935.4L2693.8 2964.9L2694.8 2997.7L2695.7 3029.7L2696.6 3039.6L2697.5 3042.8L2698.4 3055.4L2699.3 3062.9L2700.2 3069.4L2701.1 3078.4L2702 3084L2702.9 3094.8L2703.8 3089.4L2704.7 3088.5L2705.6 3089.6L2706.5 3090.9L2707.4 3092.1L2708.3 3090L2709.3 3104.6L2710.2 3087.5L2711.1 3080.8L2712 3098L2712.9 3099L2713.8 3102.5L2714.7 3101L2715.6 3101.4L2716.5 3103.8L2717.4 3106.8L2718.3 3100.5L2719.2 3101L2720.1 3111.8L2721 3105.4L2721.9 3098.6L2722.8 3114L2723.7 3107L2724.6 3100.9L2725.5 3098.3L2726.4 3105.3L2727.3 3100.2L2728.2 3099.3L2729.1 3098.4L2730 3102.2L2730.9 3109.7L2731.8 3102.8L2732.7 3098.3L2733.6 3108.2L2734.5 3105.5L2735.4 3109.3L2736.3 3111.1L2737.2 3104.9L2738.1 3105.2L2739 3105.8L2739.9 3100.9L2740.8 3109.4L2741.7 3112.8L2742.6 3107.4L2743.5 3105.6L2744.4 3105.7L2745.3 3103.5L2746.2 3103.5L2747.1 3105.5L2748 3103.6L2748.9 3105.6L2749.8 3100.5L2750.7 3109.6L2751.6 3108.3L2752.5 3102.9L2753.4 3097.7L2754.3 3108.2L2755.2 3113.3L2756.2 3104.9L2757.1 3106L2758 3105.6L2758.9 3111.3L2759.8 3104L2760.7 3112.8L2761.6 3106.9L2762.5 3112.5L2763.4 3108.4L2764.3 3107.2L2765.2 3101.4L2766.1 3105.1L2767 3107L2767.9 3111.3L2768.8 3109.4L2769.7 3105L2770.6 3110.1L2771.5 3112.8L2772.4 3107.6L2773.3 3106.2L2774.2 3106.4L2775.1 3112L2776 3110.7L2776.9 3104L2777.8 3110L2778.7 3106L2779.6 3104.8L2780.5 3113.9L2781.4 3112L2782.3 3104.9L2783.2 3108.6L2784.1 3110.6L2785 3105.3L2785.9 3107.7L2786.8 3111.3L2787.7 3100L2788.6 3109.8L2789.5 3111.6L2790.4 3110.6L2791.3 3102.1L2792.2 3109.7L2793.1 3104.3L2794 3110.9L2794.9 3111L2795.8 3109.2L2796.7 3104.7L2797.6 3105.5L2798.5 3112.2L2799.4 3104.1L2800.3 3110.5L2801.2 3110.6L2802.2 3107L2803.1 3119.3L2804 3108.6L2804.9 3118.1L2805.8 3099L2806.7 3097.9L2807.6 3112.8L2808.5 3111.2L2809.4 3106.8L2810.3 3108L2811.2 3099.5L2812.1 3105.4L2813 3103.5L2813.9 3107.2L2814.8 3112.3L2815.7 3108.5L2816.6 3109.9L2817.5 3104.9L2818.4 3106L2819.3 3108.4L2820.2 3106.6L2821.1 3113.6L2822 3103.7L2822.9 3116.3L2823.8 3103L2824.7 3112.3L2825.6 3103.8L2826.5 3114.9L2827.4 3107.8L2828.3 3109L2829.2 3110.5L2830.1 3104.1L2831 3102.1L2831.9 3097.5L2832.8 3112.4L2833.7 3103.5L2834.6 3103.9L2835.5 3106.4L2836.4 3115.6L2837.3 3098.4L2838.2 3107.4L2839.1 3104.4L2840 3108.6L2840.9 3097.8L2841.8 3104.1L2842.7 3109.7L2843.6 3113L2844.5 3113.1L2845.4 3101.7L2846.3 3105.8L2847.2 3105L2848.1 3099.1L2849.1 3098.7L2850 3108.7L2850.9 3106.3L2851.8 3104.4L2852.7 3110.6L2853.6 3100.3L2854.5 3107.3L2855.4 3104.8L2856.3 3104.4L2857.2 3106.9L2858.1 3105.3L2859 3105.7L2859.9 3105.6L2860.8 3113.2L2861.7 3102.8L2862.6 3108.8L2863.5 3106.9L2864.4 3102.4L2865.3 3107.6L2866.2 3099.9L2867.1 3109.1L2868 3100L2868.9 3101.4L2869.8 3105.1L2870.7 3107.4L2871.6 3107.7L2872.5 3107.6L2873.4 3102.4L2874.3 3098.9L2875.2 3105.8L2876.1 3104.6L2877 3098.8L2877.9 3107.6L2878.8 3104L2879.7 3098.6L2880.6 3105L2881.5 3096.8L2882.4 3098.8L2883.3 3104.6L2884.2 3095.6L2885.1 3102.9L2886 3096.4L2886.9 3106L2887.8 3099.2L2888.7 3103.3L2889.6 3095.5L2890.5 3100.8L2891.4 3106.7L2892.3 3104.4L2893.2 3093.7L2894.1 3106.4L2895.1 3106.2L2896 3100.3L2896.9 3108.5L2897.8 3097.1L2898.7 3103.7L2899.7 3111.5L2900.6 3114.6L2901.5 3116.7L2902.5 3107.9L2903.4 3107L2904.4 3119.2L2905.3 3113L2906.3 3121.2L2907.2 3118.1L2908.2 3130.4L2909.1 3130.7L2910 3131L2910.9 3130L2911.9 3131.7L2912.8 3131.6L2913.7 3136.2L2914.7 3137.1L2915.6 3139.5L2916.5 3136.9L2917.4 3149.1L2918.4 3143.2L2919.3 3149.8L2920.2 3150.9L2921.2 3142.3L2922.1 3140L2923 3155.1L2923.9 3147.8L2924.8 3150.2L2925.7 3148.9L2926.6 3151L2927.5 3145.2L2928.4 3150.4L2929.3 3149L2930.2 3151.4L2931.1 3141L2932 3155.8L2932.9 3153.8L2933.8 3144.6L2934.7 3149.4L2935.6 3153.2L2936.5 3156.2L2937.4 3153.6L2938.3 3160.2L2939.2 3154.3L2940.1 3149.8L2941.1 3151.6L2942 3158.4L2942.9 3152.4L2943.8 3159.4L2944.7 3160.5L2945.6 3158.8L2946.5 3161L2947.4 3155.8L2948.3 3156.8L2949.2 3154.4L2950.1 3154.6L2951 3150.5L2951.9 3155.4L2952.8 3153.3L2953.7 3151.9L2954.6 3159.4L2955.5 3160.8L2956.4 3157.2L2957.3 3165L2958.2 3163.1L2959.1 3163.6L2960 3156L2960.9 3151.9L2961.8 3161.3L2962.7 3160.2L2963.6 3162.1L2964.5 3160.7L2965.4 3164.6L2966.3 3157.4L2967.2 3161.8L2968.1 3154.6L2969 3148.1L2969.9 3156.7L2970.8 3165.6L2971.7 3151L2972.6 3163.4L2973.5 3155.6L2974.4 3156.9L2975.3 3159L2976.2 3159.7L2977.1 3154.3L2978 3159.3L2978.9 3160.8L2979.8 3162.6L2980.7 3155.3L2981.6 3165.9L2982.5 3167.5L2983.4 3169.9L2984.3 3152.6L2985.2 3159.5L2986.1 3150.2L2987 3160.5L2988 3161.3L2988.9 3153.5L2989.8 3151.5L2990.7 3159.6L2991.6 3161.6L2992.5 3155.1L2993.4 3157.6L2994.3 3147.1L2995.2 3155.5L2996.1 3159.4L2997 3159.5L2997.9 3166L2998.8 3153.5L2999.7 3148.4L3000.6 3160.8L3001.5 3156L3002.4 3160.1L3003.3 3162.1L3004.2 3161.5L3005.1 3165.4L3006 3164.9L3006.9 3150.9L3007.8 3158.2L3008.7 3167.7L3009.6 3156.5L3010.5 3162.8L3011.4 3158L3012.3 3156.2L3013.2 3165.4L3014.1 3162.8L3015 3156.8L3015.9 3162L3016.8 3151.7L3017.7 3154.4L3018.6 3161.8L3019.5 3157.7L3020.4 3152.6L3021.3 3159.5L3022.2 3158.8L3023.1 3163.2L3024 3161.6L3024.9 3155.8L3025.8 3154.8L3026.7 3156.3L3027.6 3155.8L3028.5 3163.5L3029.4 3164L3030.3 3162.9L3031.2 3158.3L3032.1 3155.4L3033 3160.6L3034 3154.7L3034.9 3157.4L3035.8 3148.5L3036.7 3154.2L3037.6 3162.7L3038.5 3151.2L3039.4 3149L3040.3 3155.1L3041.2 3163.4L3042.1 3162.3L3043 3153.9L3043.9 3151.9L3044.8 3152.1L3045.8 3146.9L3046.7 3149.8L3047.6 3146.8L3048.5 3139.9L3049.5 3142.5L3050.4 3142.5L3051.3 3138.3L3052.3 3135.6L3053.2 3143.4L3054.1 3146.5L3055 3135L3056 3132.8L3056.9 3135.6L3057.8 3130.8L3058.8 3126.7L3059.7 3135.3L3060.6 3122.6L3061.5 3122.5L3062.5 3121.3L3063.4 3118.8L3064.3 3120.3L3065.3 3122.6L3066.2 3125.1L3067.1 3120L3068 3115.6L3069 3108.2L3069.9 3112.2L3070.8 3106.7L3071.8 3109.1L3072.7 3112.6L3073.6 3107.5L3074.5 3104.1L3075.4 3101.4L3076.3 3104.6L3077.2 3105.1L3078.1 3100.1L3079 3101.9L3079.9 3108.1L3080.9 3096.2L3081.8 3101.6L3082.7 3098.1L3083.6 3110.4L3084.5 3105.9L3085.4 3105.3L3086.3 3104.6L3087.2 3103.9L3088.1 3103.7L3089 3094.9L3089.9 3103.2L3090.8 3104.6L3091.7 3095.1L3092.6 3105.3L3093.5 3104.4L3094.4 3094.1L3095.3 3098.8L3096.2 3099.3L3097.1 3098.2L3098 3102.2L3098.9 3094.3L3099.8 3099L3100.7 3100.9L3101.6 3103L3102.5 3099.7L3103.4 3098.2L3104.3 3102.3L3105.2 3089.8L3106.1 3103.1L3107 3097.4L3107.9 3093L3108.8 3096.8L3109.7 3090.3L3110.6 3089.4L3111.5 3097.3L3112.4 3095.2L3113.3 3102.1L3114.2 3094.7L3115.1 3092.8L3116 3094.4L3116.9 3106.7L3117.8 3098.9L3118.7 3096L3119.6 3094.2L3120.5 3093.7L3121.4 3098L3122.3 3100.7L3123.2 3104.1L3124.1 3104L3125 3100L3125.9 3095.7L3126.9 3094.8L3127.8 3088.1L3128.7 3094.1L3129.6 3100.7L3130.5 3097.2L3131.4 3100.5L3132.3 3092.6L3133.2 3102.9L3134.1 3100.1L3135 3099L3135.9 3100.6L3136.8 3088.5L3137.7 3096.2L3138.6 3094.7L3139.5 3107.1L3140.4 3097.9L3141.3 3096.5L3142.2 3102.7L3143.1 3093.9L3144 3105.3L3144.9 3095.5L3145.8 3098.5L3146.7 3094.6L3147.6 3102.5L3148.5 3088.8L3149.4 3102L3150.3 3095L3151.2 3099L3152.1 3093.5L3153 3099.8L3153.9 3099.6L3154.8 3101.5L3155.7 3100.2L3156.6 3101.6L3157.5 3103.3L3158.4 3097L3159.3 3093.3L3160.2 3092.9L3161.1 3101.9L3162 3097L3162.9 3103.6L3163.8 3099L3164.7 3094.1L3165.6 3102.9L3166.5 3107.7L3167.4 3097.9L3168.3 3094.5L3169.2 3094.9L3170.1 3102.9L3171 3096.1L3171.9 3096.9L3172.8 3101.9L3173.8 3098.8L3174.7 3099.3L3175.6 3096.3L3176.5 3095.8L3177.4 3099.5L3178.3 3099.5L3179.2 3101.5L3180.1 3096.5L3181 3100.4L3181.9 3101L3182.8 3099.2L3183.7 3101.4L3184.6 3103.4L3185.5 3099.7L3186.4 3099.1L3187.3 3094.3L3188.2 3100.3L3189.1 3098.3L3190 3097.3L3190.9 3095L3191.8 3101.4L3192.7 3110.5L3193.6 3100.8L3194.5 3099.2L3195.4 3100.8L3196.3 3096L3197.2 3099.2L3198.1 3095.7L3199 3095.8L3199.9 3099.8L3200.8 3099.8L3201.7 3098.3L3202.6 3095.1L3203.5 3100L3204.4 3093.8L3205.3 3102.3L3206.2 3097.2L3207.1 3098.8L3208 3102.4L3208.9 3101.3L3209.8 3092.8L3210.7 3097.6L3211.6 3100.5L3212.5 3093.8L3213.4 3087.7L3214.3 3098.4L3215.2 3098.4L3216.1 3100.5L3217 3098.8L3217.9 3098.9L3218.8 3099.3L3219.8 3104.5L3220.7 3100.3L3221.6 3100.5L3222.5 3096.1L3223.4 3102.9L3224.3 3096.8L3225.2 3101L3226.1 3087.8L3227 3098.6L3227.9 3096.9L3228.8 3095.1L3229.7 3103.1L3230.6 3098.9L3231.5 3096.3L3232.4 3094.5L3233.3 3105.4L3234.2 3100.1L3235.1 3099.6L3236 3093L3236.9 3102.4L3237.8 3098.9L3238.7 3095L3239.6 3095.7L3240.5 3088.6L3241.4 3099L3242.3 3090.9L3243.2 3099.7L3244.1 3093.7L3245 3094.9L3246.1 3015L3247.1 2933.8L3248.2 2851.3L3249.2 2797.7L3250.3 2743.8L3251.3 2688.1L3252.6 2718.4L3253.8 2751.2L3255.1 2778.8L3256.4 2807.7L3257.5 2825.8L3258.6 2843L3259.7 2860.2L3260.8 2870.2L3261.7 2883.2L3262.7 2884.5L3263.6 2887.3L3264.6 2893.7L3265.5 2905.6L3266.5 2894.6L3267.4 2896.9L3268.4 2911.6L3269.3 2908.3L3270.3 2921.6L3271.2 2915.3L3272.2 2921.7L3273.1 2931.8L3274 2936.3L3275 2938.2L3275.9 2942.4L3276.9 2943.8L3277.8 2946.5L3278.8 2951.7L3279.7 2962.5L3280.7 2963.4L3281.6 2963.7L3282.6 2968.6L3283.5 2974.4L3284.5 2979.5L3285.4 2976.9L3286.4 2980.7L3287.3 2986L3288.3 2999.9L3289.2 2992.5L3290.1 2999.5L3291.1 2988.8L3292 3002L3293 2993.9L3293.9 2997.5L3294.9 3001.8L3295.8 3006.3L3296.8 3009.9L3297.7 3013L3298.7 3014.6L3299.6 3013.4L3300.6 3029.2L3301.5 3021L3302.5 3024.2L3303.4 3032.3L3304.4 3029.3L3305.3 3029.4L3306.2 3030.2L3307.2 3039.1L3308.1 3027.5L3309 3028.8L3309.9 3034.5L3310.8 3025.2L3311.7 3031.6L3312.7 3041L3313.6 3034.4L3314.5 3038L3315.4 3041.1L3316.3 3033.3L3317.2 3040.5L3318.1 3037.1L3319 3035.6L3319.9 3040L3320.8 3041.7L3321.7 3040.8L3322.6 3040.3L3323.5 3048.3L3324.4 3049.9L3325.3 3047.9L3326.2 3045.6L3327.1 3041.9L3328 3043.6L3328.9 3043L3329.8 3049.7L3330.7 3053.6L3331.6 3054.2L3332.5 3050.6L3333.4 3049.7L3334.3 3052.5L3335.2 3052.6L3336.1 3055L3337 3059.3L3337.9 3049.8L3338.8 3062.8L3339.7 3044L3340.6 3045.7L3341.5 3047.2L3342.4 3049.8L3343.3 3053.7L3344.2 3064.4L3345.1 3052.1L3346 3060.7L3346.9 3054.3L3347.8 3056.9L3348.7 3051.9L3349.6 3067.2L3350.5 3057L3351.4 3054.6L3352.3 3068.1L3353.2 3058.9L3354.1 3060.2L3355 3058L3355.9 3055.2L3356.8 3052.7L3357.7 3058.7L3358.6 3067.2L3359.6 3062.1L3360.5 3059.6L3361.4 3065.6L3362.3 3056.8L3363.2 3067.6L3364.1 3061.6L3365 3058.2L3365.9 3065.3L3366.8 3064.9L3367.7 3061.3L3368.6 3064.1L3369.5 3067.9L3370.4 3070.2L3371.3 3060.2L3372.2 3052.2L3373.1 3073.6L3374 3063.2L3374.9 3062.6L3375.8 3066.5L3376.7 3062.7L3377.6 3069.5L3378.5 3059.2L3379.4 3064.1L3380.3 3059.4L3381.2 3072.2L3382.1 3064.2L3383 3070.4L3383.9 3071.8L3384.8 3060.2L3385.7 3064.7L3386.6 3069.1L3387.5 3066.2L3388.4 3065.4L3389.3 3070L3390.2 3070.4L3391.1 3063.7L3392 3065.9L3392.9 3069.5L3393.8 3067.6L3394.7 3067.4L3395.6 3061.8L3396.5 3075L3397.4 3066.1L3398.3 3068.4L3399.2 3067.2L3400.1 3067.7L3401 3068.2L3401.9 3063.8L3402.8 3069.5L3403.7 3073.3L3404.6 3069.8L3405.6 3071.4L3406.5 3070.4L3407.4 3068.4L3408.3 3076.6L3409.2 3065.4L3410.1 3070.4L3411 3073.4L3411.9 3070.2L3412.8 3064.2L3413.7 3064.2L3414.6 3076.4L3415.5 3065L3416.4 3069.6L3417.3 3072.2L3418.2 3070.2L3419.1 3061.8L3420 3061.4L3420.9 3069.7L3421.8 3066.8L3422.7 3069.3L3423.6 3071.1L3424.5 3071.5L3425.4 3064.8L3426.3 3063.4L3427.2 3075.5L3428.1 3068.4L3429 3066.1L3429.9 3062.5L3430.8 3074.2L3431.7 3066.1L3432.6 3067.2L3433.5 3075L3434.4 3072.6L3435.4 3066.8L3436.4 3058.7L3437.4 3050.8L3438.5 3046.9L3439.5 3041.6L3440.6 3031.7L3441.7 3024L3442.8 3014L3443.9 3002.9L3445 3014.2L3446.1 3022.8L3447.2 3031.9L3448.3 3043.2L3449.3 3047.6L3450.3 3058.3L3451.3 3065.9L3452.3 3069.9L3453.4 3079.6L3454.4 3067L3455.4 3053.3L3456.4 3041.3L3457.4 3028.4L3458.4 3016.8L3459.4 3006.6L3460.3 2995.3L3461.2 2989.7L3462.2 2979.8L3463.1 2968.4L3464.1 2960.9L3465 2971.7L3466 2977L3466.9 2987.8L3467.9 2997.2L3468.8 3007.9L3469.8 3016.4L3470.7 3024.6L3471.7 3037.1L3472.6 3044.7L3473.6 3055.4L3474.5 3066.7L3475.5 3072.7L3476.6 3057.3L3477.7 3043L3478.8 3026L3479.9 3011L3480.9 2997.5L3481.9 2987.8L3482.9 2972.5L3483.9 2959.3L3484.9 2946.1L3485.9 2959.4L3486.8 2970L3487.8 2984.5L3488.7 2998.6L3489.7 3009.8L3490.6 3024.6L3491.6 3037.9L3492.5 3051.4" stroke="#000" stroke-width="6" fill="none" stroke-linejoin="round" stroke-linecap="round"/>
<text x="2875" y="3017" font-size="31" font-weight="bold" text-anchor="middle">Tet</text>
<path d="M2875.7 3029.3L2875.7 3064.8" stroke="#000" stroke-width="3.2"/>
<path d="M2864.9 3064.8H2886.4L2875.7 3095.6z" stroke="#000" stroke-width="3.2" fill="#fff" stroke-linejoin="miter"/>
<text x="3202" y="3017" font-size="31" font-weight="bold" text-anchor="middle">Caff</text>
<path d="M3217.2 3024.3L3217.2 3059.7" stroke="#000" stroke-width="3.2"/>
<path d="M3206.5 3059.7H3228L3217.2 3089.3z" stroke="#000" stroke-width="3.2" fill="#fff" stroke-linejoin="miter"/>
<path d="M273.8 3678.5L276 3682.2L278.2 3683.1L280.4 3687.6L282.4 3688.3L284.4 3686.9L286.4 3686.5L288.6 3665.9L289.8 3569.5L291 3472.3L293 3423.9L295.2 3431.4L297.1 3496.9L299.5 3581.8L302.9 3643.1L305.3 3661.1L307.8 3672.9L310.8 3677L313.7 3689.7L316.2 3688.7L318.6 3689.5L320.9 3687.1L323.2 3678.3L325.2 3617L326.6 3521.2L328.3 3451.5L331.7 3450.8L333.4 3520.6L335.8 3593.4L339.2 3654.2L341.6 3664.3L344 3676.2L346.5 3683.3L348.9 3681.6L351 3679.2L353 3678.3L354.2 3618.5L355.7 3520.7L358 3458.1L362 3454.5L363.9 3520.5L365.8 3593.7L367.3 3621.1L368.8 3569.1L370.6 3521.3L372.6 3486.7L375.5 3485.3L377.5 3545.2L380.4 3618.6L382.8 3642.3L385.2 3665.9L387.6 3677.8L390.1 3682.7L392.9 3686L395.8 3688.2L398.3 3682.6L400.7 3678.2L402.1 3593.9L403.4 3472.4L405.7 3387.7L408 3388.3L410.4 3499.7L413.1 3593.2L417.1 3643L421 3665L423.4 3667.7L425.7 3673.5L428.1 3676.6L430.4 3680.3L432.8 3681.2L434.9 3684.7L436.9 3687L439 3686.8L441.1 3688.4L443.2 3690L445.2 3688.5L447.3 3692.3L449.4 3685.9L451.4 3689.1L453.5 3685.1L455.6 3692.4L457.7 3691.6L459.7 3695.4L461.8 3691.9L463.9 3689.2L465.9 3696.5L468 3691.8L470.1 3692.6L472.2 3695.4L474.2 3697.1L476.2 3695L478.2 3696.5L480.3 3692.5L482.3 3699.9L484.3 3696.4L486.4 3696.9L488.4 3697.9L490.4 3697.2L492.5 3697.4L494.5 3695.3L496.5 3697.1L498.6 3698.3L500.6 3699.6L502.6 3697.4L504.6 3698L506.7 3698.6L508.7 3699.2L510.7 3698.6L512.8 3697.8L514.8 3697.4L516.8 3700.8L518.9 3699.3L520.9 3698.8L522.9 3705.9L525 3700.8L527 3700.9L529 3699.6L531 3697.4L533.1 3701.8L535.1 3699.5L537.2 3699.7L539.2 3701.6L541.3 3701.5L543.4 3699.8L545.5 3699.3L547.5 3703.4L549.6 3700.3L551.7 3697L553.7 3700.5L555.8 3699.2L557.9 3698.8L560 3700.1L562 3699.1L564.1 3702.5L566.2 3698.9L568.2 3698.9L570.3 3700.6L572.4 3697.1L574.5 3700.1L576.8 3701.5L579.2 3707.4L581.5 3706.8L583.9 3712.8L586.3 3712.2L588.4 3716L590.6 3718.4L592.8 3720.9L595 3725.3L597.2 3726.5L599.4 3721.7L601.6 3724.3L603.7 3729.8L605.9 3729.7L608 3726L610 3729.6L612 3726.3L614.1 3726.7L616.1 3725.8L618.1 3727.7L620.1 3732.6L622.2 3728.8L624.2 3727.7L626.2 3732.8L628.3 3726.8L630.3 3727.3L632.3 3727L634.4 3728.2L636.4 3726.7L638.4 3730.1L640.5 3726.5L642.5 3728.1L644.5 3727.3L646.5 3725.1L648.6 3724.7L650.6 3726.5L652.6 3721.9L654.7 3726.4L656.7 3726.4L658.7 3726.5L660.8 3725.9L662.8 3726.7L664.8 3725.2L666.9 3727L668.9 3722.4L670.9 3727.4L673 3723.7L675 3726.3L677.1 3724.3L679.1 3724.3L681.2 3723.5L683.3 3727.6L685.3 3722.7L687.4 3722.3L689.4 3725.1L691.5 3725.1L693.5 3724.5L695.6 3722.4L697.6 3722.9L699.7 3725.9L701.7 3722L703.8 3725.1L705.8 3725.3L707.9 3724L709.9 3721.2L712 3727.3L714 3723.7L716.1 3723.7L718.3 3720.4L720.5 3717L722.7 3716.2L724.8 3715L727 3710.7L729.2 3710.4L731.4 3710.3L733.6 3706.7L735.8 3703.4L738 3705L740.1 3704.1L742.3 3703.3L744.5 3699.2L746.7 3696.5L748.9 3701L751.1 3698.9L753.3 3697.3L755.4 3698.3L757.5 3696.5L759.5 3696.2L761.5 3701.1L763.5 3694.4L765.6 3699.3L767.6 3699.8L769.6 3701.3L771.6 3698.4L773.7 3699L775.7 3696.2L777.7 3698.1L779.7 3694L781.7 3697.1L783.8 3698.2L785.8 3698.1L787.8 3697.5L789.8 3700.8L791.9 3695.4L793.9 3698.9L795.9 3697.9L797.9 3698.8L800 3698.9L802 3702.8L804 3696.8L806 3701.7L808.1 3701.9L810.1 3698.9L812.1 3698L814.1 3696.8L816.1 3697.6L818.2 3703.5L820.2 3695.2L822.2 3700.5L824.2 3698.2L826.3 3700.6L828.6 3514.9L830.2 3342.9L832.8 3348.5L835.4 3353.8L838.1 3357.4L840.4 3371.1L842.8 3385.6L845.2 3399.7L847.5 3414.3L849.9 3428.8L852.1 3438.8L854.4 3447.3L856.6 3460.1L858.9 3467.6L861.1 3477.1L863.4 3488.1L865.6 3498.4L867.8 3505.6L869.9 3509.5L872.1 3523.2L874.2 3528.9L876.3 3537.4L878.5 3541.2L880.6 3550.6L882.8 3556.7L884.9 3563.5L887.1 3574.1L889.2 3576.5L891.4 3583.9L893.5 3584.3L895.7 3593.9L897.8 3597.4L900 3600.7L902.1 3606.6L904.2 3608.6L906.4 3615.7L908.5 3623.1L910.7 3622.6L912.8 3635L914.9 3636.8L917 3635.5L919.1 3636.2L921.2 3638.4L923.3 3640.8L925.4 3643.9L927.5 3651.8L929.6 3647.3L931.7 3653.2L933.8 3656.3L935.9 3654L938 3657.5L940.1 3661.4L942.2 3660.9L944.3 3666.8L946.4 3669.2L948.4 3665.4L950.5 3664.5L952.6 3668L954.7 3668.1L956.7 3666.5L958.8 3668.4L960.9 3669.4L962.9 3670.9L965 3672.8L967.1 3670.2L969.2 3669.1L971.2 3669.1L973.3 3676.7L975.4 3672.8L977.4 3673.4L979.5 3679.8L981.6 3677.7L983.6 3680.6L985.7 3676.3L987.8 3675.8L989.8 3676.7L991.9 3679.6L994 3679.7L996 3680.3L998.1 3684.5L1000.1 3683.3L1002.2 3679L1004.3 3682.6L1006.3 3683.5L1008.4 3681.4L1010.4 3688L1012.5 3685.8L1014.6 3687.5L1016.6 3684L1018.7 3683.4L1020.7 3687.7L1022.8 3686.4L1024.9 3686.2L1026.9 3687.8L1029.7 3668.3L1032.4 3648.8L1035.1 3638.9L1037.7 3631.1L1040.3 3621" stroke="#000" stroke-width="6.4" fill="none" stroke-linejoin="round" stroke-linecap="round"/>
<text x="576.8" y="3614.7" font-size="31" font-weight="bold" text-anchor="middle">Tet</text>
<path d="M574.5 3628.9L574.5 3666.3" stroke="#000" stroke-width="3.2"/>
<path d="M563.4 3666.3H585.5L574.5 3697.3z" stroke="#000" stroke-width="3.2" fill="#fff" stroke-linejoin="miter"/>
<text x="784.5" y="3612.3" font-size="31" font-weight="bold" text-anchor="middle">Caff</text>
<path d="M798.7 3622.6L798.7 3658.4" stroke="#000" stroke-width="3.2"/>
<path d="M787.7 3658.4H809.7L798.7 3689.5z" stroke="#000" stroke-width="3.2" fill="#fff" stroke-linejoin="miter"/>
<path d="M1454.7 3556.7L1458.4 3613.4L1460.9 3632.6L1463.4 3645.1L1466 3664.6L1468.5 3674.2L1470.7 3691L1472.9 3697.7L1475.8 3491.3L1479.4 3365.3L1482.3 3454.5L1485.2 3526.7L1488.9 3584.6L1492.5 3621.4L1495 3638.7L1497.6 3656.8L1500.5 3670.1L1503.4 3679.5L1505.5 3681.6L1507.5 3690.7L1509.6 3688.9L1511.7 3690.5L1513.8 3695.3L1515.8 3696.9L1517.9 3700.3L1520 3698.8L1522.1 3702.8L1524.1 3696.6L1526.2 3695.4L1528.3 3695L1530.4 3696.5L1532.4 3689.8L1534.5 3691.5L1536.6 3701.2L1538.7 3694.7L1540.7 3699.8L1542.8 3704.8L1544.9 3711.1L1547 3706.3L1549 3703.3L1551 3710.8L1553 3708.5L1555 3709.2L1557.1 3711.6L1559.1 3711.4L1561.1 3712L1563.1 3710.7L1565.1 3712.8L1567.7 3602.2L1570.2 3490.6L1572.4 3418.7L1574.6 3347.9L1577.5 3432.7L1579.7 3490L1583.3 3562.9L1586.9 3607.4L1589.5 3626.7L1592 3646L1594.9 3659.9L1597.8 3672.1L1599.9 3676.3L1602 3676L1604 3688.6L1606.1 3689.2L1608.2 3690.9L1610.3 3699.3L1612.3 3701.9L1614.4 3702.3L1616.4 3705.6L1618.4 3709.4L1620.4 3706.5L1622.4 3709.9L1624.5 3712.2L1626.5 3705.9L1628.5 3708.1L1630.5 3712.1L1632.5 3707.4L1634.5 3711.7L1636.6 3716.3L1638.6 3716.7L1640.6 3716.7L1642.6 3712L1644.6 3722.8L1646.6 3719.6L1648.7 3721.1L1650.7 3720.5L1652.8 3715.4L1654.9 3716.1L1657 3716.6L1659 3723.8L1661.1 3717.5L1663.2 3718.8L1665.3 3718.8L1667.3 3720.7L1669.4 3720.5L1671.5 3720L1673.6 3716.5L1675.6 3712.1L1677.7 3719.8L1679.7 3719.9L1681.7 3722L1683.7 3718.9L1685.7 3717.7L1687.7 3719.9L1689.7 3715.3L1691.7 3716.4L1693.8 3716.5L1695.8 3719.4L1697.8 3723.4L1699.8 3720.3L1701.8 3721.1L1703.8 3718.9L1705.8 3719L1707.8 3717.2L1709.8 3717.5L1711.8 3712.5L1713.8 3715.3L1715.8 3715L1717.8 3719.8L1719.8 3719.3L1721.8 3720.3L1723.8 3721.2L1725.8 3716.9L1727.8 3719.9L1729.8 3721.9L1731.8 3717.3L1733.8 3719.8L1735.8 3716.8L1737.8 3713.5L1739.8 3717.5L1741.8 3715.3L1743.8 3717.4L1745.9 3716.1L1747.9 3717.9L1749.9 3712.3L1751.9 3722L1753.9 3720.3L1755.9 3716.4L1757.9 3715.1L1759.9 3717.2L1761.9 3718.7L1763.9 3718.2L1765.9 3718.1L1767.9 3712.7L1769.9 3714.6L1771.9 3720.3L1773.9 3717.7L1775.9 3713.7L1777.9 3715.2L1779.9 3713.9L1781.9 3714.8L1783.9 3719.9L1785.9 3716.7L1787.9 3719.8L1789.9 3717.6L1791.9 3713.7L1793.9 3715.7L1796.1 3722L1798.3 3714.4L1800.5 3713.2L1802.7 3718L1804.8 3714.9L1807 3714.1L1809.2 3717.1L1811.4 3709L1813.6 3713.6L1815.7 3709.6L1817.8 3710.4L1819.9 3713.3L1822 3719.5L1824 3718L1826.1 3715.6L1828.2 3718.8L1830.3 3726.6L1832.4 3726.7L1834.6 3723.1L1836.8 3732.6L1839 3727.4L1841.2 3726.7L1843.3 3730.5L1845.5 3734.4L1847.7 3737.2L1849.9 3737.2L1852.1 3735.1L1854.1 3734.8L1856.1 3732.7L1858.2 3735.9L1860.2 3734.7L1862.3 3736.7L1864.3 3733.1L1866.4 3734.9L1868.4 3734L1870.4 3733.2L1872.5 3733.3L1874.5 3733.7L1876.6 3733.3L1878.6 3737.4L1880.7 3736.3L1882.7 3733L1884.7 3737.3L1886.8 3736.8L1888.8 3739.5L1890.9 3735.6L1892.9 3735.6L1895 3734.5L1897 3736.4L1899 3737.2L1901.1 3736.5L1903.1 3735.5L1905.2 3737.4L1907.2 3736.3L1909.3 3736.7L1911.3 3733.9L1913.3 3736.6L1915.4 3733.7L1917.4 3734.1L1919.5 3736.4L1921.5 3740.9L1923.5 3738.2L1925.6 3735.7L1927.6 3735.2L1929.6 3737.9L1931.7 3738.7L1933.7 3738.2L1935.7 3734.9L1937.8 3735.6L1939.8 3734.3L1941.8 3734.4L1943.9 3732.9L1945.9 3734.3L1947.9 3729.7L1950 3731.9L1952 3735.6L1954 3732.3L1956.1 3735.7L1958.1 3731.3L1960.1 3733.4L1962.2 3735.1L1964.2 3731.6L1966.2 3732.3L1968.3 3739.7L1970.5 3730.8L1972.6 3729.3L1974.8 3728.2L1977 3728.2L1979.2 3726.6L1981.4 3727.5L1983.5 3725.6L1985.7 3721.3L1987.9 3720L1990.1 3716L1992.2 3714.8L1994.4 3715.5L1996.6 3717.8L1998.8 3715.3L2001 3715.8L2003.1 3715L2005.3 3711.4L2007.5 3715.6L2009.7 3708.3L2011.9 3707L2013.9 3707.2L2015.9 3710.7L2018 3707.5L2020 3705.8L2022 3708.3L2024.1 3709.7L2026.1 3706.6L2028.1 3706L2030.2 3708.9L2032.2 3708.5L2034.2 3708.1L2036.3 3703.9L2038.3 3706.1L2040.3 3706.1L2042.4 3700.8L2044.4 3707.6L2046.4 3704.8L2048.5 3703.5L2050.5 3709.4L2052.5 3704.2L2054.6 3701.9L2056.6 3703.2L2058.6 3704.5L2060.7 3704.8L2062.7 3702.5L2064.7 3700.5L2066.7 3700.8L2068.7 3700.4L2070.7 3699.8L2072.7 3702.1L2074.7 3700.9L2076.7 3702.1L2078.7 3699.9L2080.7 3699.7L2082.7 3701.2L2084.8 3700.7L2086.8 3704.2L2088.8 3699.2L2090.8 3701.7L2092.8 3701.1L2094.8 3698L2096.8 3702.7L2098.8 3701.3L2100.8 3695.8L2102.8 3702.1L2104.8 3702.8L2106.8 3698.6L2108.8 3704.3L2110.8 3700.6L2112.8 3697.5L2114.8 3701.4L2116.8 3699.1L2118.8 3696.7L2120.8 3694.7L2122.9 3700.2L2124.9 3697.7L2126.9 3700.7L2129 3700L2131 3697.7L2133 3697.5L2135.1 3702.7L2137.1 3702.4L2139.1 3700L2141.2 3697.2L2143.2 3695.5L2145.2 3696.8L2147.3 3701.4L2149.3 3698.4L2151.3 3696.5L2153.4 3694.1L2155.4 3697.2L2157.4 3694.6L2159.5 3696.5L2161.5 3698L2163.5 3698.6L2165.6 3696.2L2167.6 3694.9L2169.6 3696.1L2171.7 3696.5L2175.3 3418.1L2177.5 3313.9L2180 3341.8L2182.6 3367.7L2184.7 3385.4L2186.9 3386.3L2189.1 3397.4L2191.3 3407.1L2193.5 3418.8L2195.6 3423.8L2197.8 3429L2200 3435.2L2202.2 3446.7L2204.4 3453L2206.5 3460.1L2208.7 3473.7L2210.9 3477.9L2213.1 3485.8L2215.3 3489.4L2217.3 3496.4L2219.4 3500.4L2221.5 3505.6L2223.6 3513.1L2225.6 3517.9L2227.7 3522.4L2229.8 3527.2L2231.9 3528.7L2233.9 3535.5L2236 3543.3L2238.1 3546.8L2240.2 3551L2242.2 3558.8L2244.3 3561L2246.4 3565L2248.5 3572L2250.5 3572.5L2252.6 3580L2254.7 3581.3L2256.8 3585.3L2258.8 3589.4L2260.9 3585.1L2263 3593.4L2265.1 3593.9L2267.1 3599.2L2269.2 3603.4L2271.3 3609.9L2273.4 3610.3L2275.4 3616.1L2277.5 3612.8L2279.6 3615.7L2281.7 3617.9L2283.7 3621.7L2285.8 3621.2L2287.9 3621.7L2290 3624.2L2292 3623.5L2294.1 3631.5L2296.2 3632.1L2298.3 3633.2L2300.3 3634.7L2302.4 3634.4L2304.5 3636L2306.6 3640L2308.6 3637.4L2310.7 3638.6L2312.8 3645.2L2314.9 3646.3L2316.9 3644.5L2319 3646.2L2321.1 3646.5L2323.2 3650.6L2325.2 3647.4L2327.3 3649.7L2329.4 3651.8L2331.5 3655.2L2333.7 3651.8L2335.8 3653.5L2338 3652.4L2340.2 3652.6L2342.4 3653.2L2344.5 3655.5L2346.7 3657.9L2348.9 3654.9L2351.1 3655.6L2353.3 3657.6" stroke="#000" stroke-width="6.2" fill="none" stroke-linejoin="round" stroke-linecap="round"/>
<text x="1791.8" y="3632.3" font-size="31" font-weight="bold" text-anchor="middle">Tet</text>
<path d="M1793.2 3644.6L1793.2 3680" stroke="#000" stroke-width="3.2"/>
<path d="M1783 3680H1803.4L1793.2 3708.5z" stroke="#000" stroke-width="3.2" fill="#fff" stroke-linejoin="miter"/>
<text x="2119.4" y="3632.3" font-size="31" font-weight="bold" text-anchor="middle">Caff</text>
<path d="M2134.6 3639.5L2134.6 3672.7" stroke="#000" stroke-width="3.2"/>
<path d="M2124.5 3672.7H2144.8L2134.6 3701.2z" stroke="#000" stroke-width="3.2" fill="#fff" stroke-linejoin="miter"/>
<path d="M2635.7 3683.4L2637.6 3425.9L2639.5 3515.1L2642.1 3578.9L2645.2 3636.8L2648.4 3667.2L2650.4 3665.8L2652.5 3676.1L2654.5 3675.2L2656.6 3684L2659.7 3480.8L2661.6 3555L2664.2 3610.3L2667.3 3650.6L2670.5 3668.8L2673 3674.5L2675.5 3679.2L2678 3680.8L2681.2 3452.8L2683.1 3540.3L2685 3610.8L2687.5 3650.3L2689.4 3672L2691.8 3671.9L2694.1 3683L2696.5 3685.4L2698.9 3687.3L2700.9 3683.5L2702.9 3689.1L2704.9 3689L2706.9 3686.7L2708.9 3687L2710.9 3693.7L2712.9 3688.9L2714.9 3692.2L2717 3695.8L2719 3687.1L2721 3698.2L2723 3695.8L2725 3690.6L2727.1 3689.7L2729.1 3689L2731.2 3696L2733.2 3684.8L2735.2 3696.2L2737.3 3693.8L2739.3 3691.2L2741.3 3691.9L2743.4 3692.4L2745.4 3692.9L2747.5 3696.6L2749.5 3691.2L2751.5 3697.5L2753.6 3697.3L2755.6 3693.4L2757.6 3696.2L2759.7 3692.7L2761.7 3694.7L2763.7 3696.2L2765.8 3700.9L2767.8 3694.6L2769.9 3694.4L2771.9 3695.1L2773.9 3694.5L2776 3691.8L2778 3701.3L2780 3693.4L2782.1 3693.6L2784.1 3693.3L2786.1 3697.8L2788.2 3705.1L2790.2 3705.3L2792.3 3698.8L2794.3 3696.7L2796.3 3695.5L2798.4 3692.4L2800.4 3698L2802.4 3695.3L2804.5 3702.3L2806.5 3694.7L2808.6 3692.4L2810.6 3689.7L2812.6 3689.9L2814.7 3697.6L2816.7 3696.7L2818.7 3691.9L2820.8 3690.7L2822.8 3696.5L2824.8 3694.5L2826.9 3696.4L2828.9 3695.6L2831 3693.1L2833 3690L2835 3696.1L2837.1 3695.9L2839.1 3696.2L2841.1 3698.7L2843.2 3698.6L2845.2 3694L2847.2 3697.5L2849.4 3688.6L2851.5 3697.8L2853.6 3695.5L2855.7 3698.9L2857.8 3698.8L2859.9 3692.6L2862 3695.2L2864.1 3699.2L2866.2 3693.9L2868.3 3695.9L2870.4 3693.7L2872.5 3697.5L2874.6 3696.6L2876.7 3693L2878.8 3691L2881.1 3690.7L2883.3 3702.9L2885.6 3700.9L2887.8 3702.4L2890.1 3705.2L2892.3 3706.2L2894.6 3713.6L2896.6 3714L2898.7 3705.3L2900.7 3713L2902.8 3714L2904.8 3713.1L2906.9 3715.1L2908.9 3720.7L2910.9 3716.9L2913 3720.3L2915 3720.3L2917.1 3712.6L2919.1 3723.8L2921.2 3719.3L2923.2 3718.3L2925.2 3722.5L2927.3 3727.6L2929.3 3718.3L2931.3 3718.8L2933.4 3722.3L2935.4 3715.5L2937.4 3717.8L2939.4 3721.7L2941.4 3724.1L2943.5 3723.5L2945.5 3724.6L2947.5 3725.6L2949.5 3720.7L2951.5 3721.2L2953.6 3721.4L2955.6 3721.5L2957.6 3726.3L2959.6 3725.6L2961.7 3716.2L2963.7 3724.6L2965.7 3719.7L2967.7 3719.7L2969.7 3727.6L2971.8 3727.9L2973.8 3727.5L2975.8 3726L2977.8 3729.8L2979.8 3720.3L2981.9 3726.7L2983.9 3721.7L2985.9 3721.9L2987.9 3718.5L2989.9 3728.8L2992 3729.5L2994 3726.6L2996 3721.8L2998 3724.2L3000 3720.1L3002.1 3722.6L3004.1 3728.4L3006.1 3728.7L3008.1 3725.6L3010.1 3725.9L3012.2 3722.9L3014.2 3724.4L3016.2 3722.6L3018.2 3724.7L3020.2 3721L3022.3 3726.3L3024.3 3722.2L3026.3 3723.6L3028.3 3722.4L3030.3 3727.8L3032.7 3722.2L3035.1 3713L3037.4 3708.8L3039.8 3710.2L3042.1 3707.7L3044.3 3705.7L3046.6 3706.3L3048.8 3710.1L3051.1 3703.5L3053.3 3707.6L3055.6 3700.4L3057.6 3701.2L3059.6 3703L3061.7 3701.7L3063.7 3700.4L3065.7 3698.5L3067.7 3700.9L3069.7 3700.7L3071.8 3702L3073.8 3705.4L3075.8 3703.7L3077.8 3705.8L3079.8 3702.7L3081.9 3703.5L3083.9 3704L3085.9 3704.3L3087.9 3705.3L3089.9 3700.2L3092 3703.4L3094 3702.7L3096 3706L3098 3704.8L3100 3700.2L3102.1 3703.4L3104.1 3704.3L3106.1 3702.2L3108.1 3706.1L3110.2 3702.9L3112.2 3697.9L3114.3 3703L3116.3 3704.6L3118.3 3699.4L3120.4 3704.3L3122.4 3693.1L3124.4 3708.6L3126.5 3697.5L3128.5 3700.4L3130.5 3701L3132.6 3697.4L3134.6 3703L3136.7 3699L3138.7 3697.6L3140.7 3694.5L3142.8 3704.2L3144.8 3705.8L3146.8 3701.1L3148.9 3702.7L3150.9 3707.2L3152.9 3703.3L3155 3705.7L3157 3705.3L3159.1 3704.4L3161.1 3703.7L3163.1 3705.9L3165.2 3702.7L3167.2 3702.5L3169.2 3699.7L3171.3 3695.3L3173.3 3699L3175.3 3701L3177.4 3705.4L3179.4 3700.9L3181.4 3695.6L3183.4 3704.2L3185.5 3706L3187.5 3703.1L3189.5 3703L3191.6 3703L3193.6 3701.8L3195.6 3706.6L3197.7 3699.4L3199.7 3699.6L3201.7 3697.3L3203.7 3700.4L3205.8 3699.8L3207.8 3699.9L3209.8 3702.7L3211.9 3705.5L3213.9 3697.6L3215.9 3702.5L3217.9 3699.8L3220 3699.9L3222 3700.6L3224 3703.3L3226.1 3696.8L3228.2 3707L3230.3 3701.8L3232.4 3701.4L3234.3 3451.3L3235.5 3327.2L3237.7 3345.8L3240 3364.9L3242 3378.5L3244.1 3394L3246.1 3408.1L3248.2 3422.8L3250.5 3441.8L3252.9 3462.8L3255.3 3482.3L3257.6 3503.2L3260 3521.8L3262.4 3541L3264.7 3560L3267.1 3579L3269.5 3586.8L3271.8 3595.2L3274.2 3601.3L3276.6 3608.2L3278.7 3611.8L3280.8 3618.2L3282.9 3621.3L3285 3625.3L3287.1 3632.4L3289.2 3624L3291.3 3632.9L3293.4 3628.7L3295.5 3633.9L3297.6 3634.4L3299.7 3638.6L3301.8 3644L3303.9 3646L3306 3643.4L3308.1 3646.8L3310.2 3646.3L3312.3 3642.2L3314.5 3653L3316.6 3646.9L3318.7 3648.5L3320.8 3651.3L3322.9 3649.2L3325 3651.1L3327.1 3656.5L3329.2 3651.8L3331.3 3653.6L3333.4 3651L3335.5 3651.3L3337.6 3659.3L3339.7 3660.5L3341.8 3658.7L3343.9 3666.3L3346 3658.4L3348.1 3664.1L3350.2 3660.9L3352.3 3664L3354.4 3666.2L3356.5 3660.6L3358.6 3669.9L3360.8 3665.5L3362.9 3666.4L3365 3666.1L3367.1 3668.2L3369.2 3663.5L3371.3 3664L3373.4 3669.5L3375.5 3668.1L3377.6 3667.9L3379.7 3670.7L3381.8 3675.1L3383.9 3667.1L3386 3662.7L3388.1 3669.8L3390.2 3665.5L3392.3 3670.5L3394.4 3668.4L3396.5 3671.9L3398.6 3678L3400.7 3671.8L3402.8 3666.9L3404.9 3669L3407.1 3669.3L3409.2 3668.3L3411.3 3674.7L3413.4 3674L3415.5 3676.9L3417.7 3678.1L3420 3676.8L3422.2 3677.1L3424.5 3679.2L3426.7 3682.5L3429 3682.2L3431.3 3681L3433.6 3694.6L3436 3692.4L3438.4 3687.7L3440.7 3689.3" stroke="#000" stroke-width="6.4" fill="none" stroke-linejoin="round" stroke-linecap="round"/>
<text x="2866.2" y="3613.8" font-size="31" font-weight="bold" text-anchor="middle">Tet</text>
<path d="M2866.2 3626.2L2866.2 3661.6" stroke="#000" stroke-width="3.2"/>
<path d="M2855.5 3661.6H2876.9L2866.2 3691.2z" stroke="#000" stroke-width="3.2" fill="#fff" stroke-linejoin="miter"/>
<text x="3192.6" y="3613.8" font-size="31" font-weight="bold" text-anchor="middle">Caff</text>
<path d="M3208.4 3624.3L3208.4 3659.7" stroke="#000" stroke-width="3.2"/>
<path d="M3197.7 3659.7H3219.1L3208.4 3691.2z" stroke="#000" stroke-width="3.2" fill="#fff" stroke-linejoin="miter"/>
<path d="M207.7 3684V3800.7H406" stroke="#000" stroke-width="6.3" fill="none" stroke-linecap="round" stroke-linejoin="round"/>
<text x="208" y="3863.6" font-size="58" font-weight="bold">20 s</text>
<text transform="translate(179 3812) rotate(-90)" font-size="60" font-weight="bold">1<tspan font-weight="normal" font-family="Liberation Serif" font-size="68" dx="3">Δ</tspan>F/F<tspan font-size="42" dy="13">0, diastolic</tspan></text>

<!-- panelM -->

<text transform="translate(37.8 4016.3) scale(1.011 1.04)" x="-8.1" y="0" font-size="122" font-weight="bold">M</text>
<text x="607" y="3958.7" font-size="50.5" text-anchor="middle" font-weight="bold">Diastolic [Ca<tspan font-size="31" dy="-19">2+</tspan><tspan dy="19">]</tspan><tspan font-size="31" dy="10">i</tspan></text>
<path d="M325 4108.7V4514.2H936.4" stroke="#000" stroke-width="3.9" fill="none"/>
<text x="306" y="4125.3" font-size="41" font-weight="bold" text-anchor="end">40</text>
<text x="306" y="4226" font-size="41" font-weight="bold" text-anchor="end">30</text>
<text x="306" y="4326.7" font-size="41" font-weight="bold" text-anchor="end">20</text>
<text x="306" y="4427.4" font-size="41" font-weight="bold" text-anchor="end">10</text>
<text x="306" y="4528.9" font-size="41" font-weight="bold" text-anchor="end">0</text>
<path d="M310 4110.6h15M310 4211.3h15M310 4312h15M310 4412.7h15M310 4514.2h15M382.4 4514.2v15M469 4514.2v15M555.6 4514.2v15M698.8 4514.2v15M785.3 4514.2v15M871.9 4514.2v15" stroke="#000" stroke-width="3.9" fill="none"/>
<text transform="translate(222 4305) rotate(-90)" text-anchor="middle" font-size="45" font-weight="bold">F<tspan font-size="32" dy="9">0</tspan><tspan font-size="45" dy="-9">, diastolic</tspan></text>
<path d="M357.6 4514.2V4405H408.2V4514.2" stroke="#000080" stroke-width="5.2" fill="none"/>
<path d="M444.1 4514.2V4376.6H495.4V4514.2" stroke="#000080" stroke-width="5.2" fill="none"/>
<path d="M530.6 4514.2V4381.4H581.4V4514.2" stroke="#000080" stroke-width="5.2" fill="none"/>
<path d="M673.8 4514.2V4410.5H725.3V4514.2" stroke="#990000" stroke-width="5.2" fill="none"/>
<path d="M760.4 4514.2V4412.8H811.8V4514.2" stroke="#990000" stroke-width="5.2" fill="none"/>
<path d="M846.9 4514.2V4415.1H898.4V4514.2" stroke="#990000" stroke-width="5.2" fill="none"/>
<path d="M383.1 4277.4h0M383.7 4291h0M376.6 4291.2h0M383.2 4301.8h0M391.1 4305.4h0M375.8 4307.8h0M382.5 4334.2h0M390.8 4334.7h0M383.1 4344.5h0M379.3 4351.7h0M382.1 4359.2h0M383.1 4368.1h0M382.3 4378.8h0M375 4379.6h0M389.5 4380.1h0M367.8 4380.6h0M396.4 4381.3h0M362.1 4384.2h0M404 4385.6h0M382 4386.5h0M389.7 4388h0M376.7 4391.9h0M396.6 4392.4h0M368.4 4393.5h0M382 4394.3h0M405 4394.5h0M361.8 4394.8h0M411.3 4395h0M389.3 4395.7h0M354.5 4395.9h0M354 4397.9h0M415 4398.2h0M379.6 4400.8h0M386.6 4402.5h0M371.7 4403.7h0M394.4 4403.8h0M364 4405.6h0M401.2 4405.7h0M358.1 4406.9h0M380 4408.2h0M386.1 4409.8h0M408 4409.9h0M371.2 4412.8h0M394.3 4413.4h0M383.5 4416.3h0M375.1 4420.2h0M390.9 4422.5h0M397.2 4423.1h0M368.9 4423.5h0M382.6 4424h0M404.9 4425.3h0M360.9 4425.8h0M353.4 4426.7h0M412.3 4427.2h0M376.2 4427.5h0M382.7 4431.7h0M390.5 4433.3h0M368.4 4433.4h0M397.6 4433.8h0M376.7 4435.2h0M360.8 4437.1h0M405.4 4437.1h0M411.6 4437.3h0M382.2 4441.5h0M389.7 4442.3h0M372.8 4442.3h0M397.8 4444.6h0M364.7 4445.1h0M404.3 4445.2h0M356.8 4445.8h0M411.7 4447.1h0M378.7 4448.1h0M350.2 4448.3h0M351.9 4448.5h0M387.2 4449.6h0M372.7 4451.1h0M392.9 4451.8h0M400.6 4451.9h0M364.4 4454.1h0M408.6 4454.3h0M358 4454.8h0M416 4455.3h0M383.4 4456.6h0M375.9 4458.2h0M390.4 4458.7h0M398 4459.1h0M350.7 4459.9h0M367.5 4461h0M361.1 4461.8h0M405 4462.8h0M382.9 4467.8h0M390.7 4468.1h0M375.2 4470.5h0M368.2 4470.5h0M397.9 4471.3h0M385.6 4474.7h0M383.8 4481.5h0M376.5 4482.9h0M389.8 4484.6h0M382.9 4489.9h0" stroke="#000080" stroke-width="7.8" stroke-linecap="round" fill="none"/>
<path d="M468.8 4171.2h0M468.8 4202h0M469.7 4218h0M469.1 4253.2h0M462.9 4253.2h0M476.8 4254.3h0M469.5 4268.3h0M477.9 4272.2h0M469.8 4279.6h0M469.6 4295.6h0M470 4305.9h0M477.6 4308.6h0M466.4 4312.6h0M469.7 4320.5h0M477.6 4321.3h0M463.5 4325.8h0M469.3 4332.9h0M465.2 4339.9h0M473.4 4344.4h0M469.7 4351.2h0M462 4351.5h0M477.4 4352.6h0M469.3 4361h0M463.3 4365.5h0M469.3 4372.5h0M461.7 4377h0M477.5 4378h0M470.1 4380.1h0M485.1 4381.4h0M462.6 4385.1h0M473.1 4386.4h0M455.5 4386.5h0M481.2 4388h0M488.8 4388.6h0M447.2 4391h0M465.5 4391.8h0M473.3 4394.6h0M465.4 4399.5h0M458.9 4400.5h0M477.1 4401h0M470.3 4406h0M485 4406.4h0M452.1 4406.4h0M463.4 4407.1h0M476.7 4409.1h0M491.2 4410.6h0M444.7 4412.5h0M455.9 4413.1h0M470.4 4420.1h0M462.2 4421h0M477.3 4423.5h0M484.2 4424.1h0M455.4 4424.6h0M448.6 4425.7h0M492 4426.5h0M440.2 4427h0M468.8 4427.5h0M498.1 4428.2h0M463.2 4433h0M470.7 4437.9h0M476.3 4438.6h0M461.8 4440.3h0M455.1 4440.6h0M470.4 4447.4h0M462.3 4451.5h0M474.2 4454.6h0M466.9 4457.8h0M458.9 4458.8h0M479.6 4459.6h0M451.2 4459.8h0M473.2 4462.2h0M470.7 4474.2h0M463.5 4479.1h0M476.1 4479.7h0M470.5 4485.9h0" stroke="#000080" stroke-width="7.8" stroke-linecap="round" fill="none"/>
<path d="M556.2 4171.2h0M555.5 4197.6h0M555 4222.1h0M556.8 4250h0M556.1 4258.4h0M556.8 4290h0M555.6 4312.7h0M549.7 4312.9h0M562.8 4313.2h0M542 4318.7h0M555.5 4325.1h0M555.7 4332.9h0M549.3 4338.2h0M555.3 4344.8h0M563.3 4346.3h0M549.8 4346.6h0M541.6 4347.9h0M555.4 4352.5h0M566.8 4352.7h0M556.8 4368.2h0M563.6 4372.5h0M549.7 4372.7h0M540.8 4373.8h0M570.4 4374.2h0M556.7 4375.6h0M533.5 4375.9h0M576.9 4377.3h0M527.7 4377.5h0M585.4 4378h0M549.7 4378.3h0M560.3 4382.2h0M567.6 4382.3h0M545.8 4384.1h0M551.9 4386.2h0M574.5 4387.7h0M538.5 4388.1h0M580.8 4388.2h0M559.9 4389.6h0M566.6 4390.1h0M544.6 4392h0M551.5 4395.4h0M559.3 4399.3h0M567.1 4399.5h0M545.7 4399.6h0M573.4 4401h0M537.7 4402.3h0M552.7 4402.8h0M580.9 4403.1h0M530.6 4403.7h0M523.3 4405.6h0M560.3 4406.9h0M546 4408.6h0M566 4408.9h0M551.5 4410.6h0M558.8 4414.7h0M570.4 4415.8h0M548.6 4416.9h0M556.4 4422.5h0M563.7 4423h0M544.4 4423.5h0M571.1 4423.6h0M537.2 4425.6h0M577 4427h0M530.7 4427.4h0M585.2 4427.8h0M523.2 4428.2h0M555.3 4431.1h0M549.6 4431.4h0M563.3 4432.7h0M541.4 4434.4h0M551.5 4438.2h0M570.9 4438.9h0M560.5 4439.1h0M578.5 4440h0M535 4440.6h0M545.6 4442.6h0M556.2 4447.8h0M563 4448.8h0M548.3 4450.3h0M541.3 4451.2h0M570.6 4452.9h0M534.3 4454.9h0M556.7 4455.5h0M563.5 4456.7h0M552.7 4462.3h0" stroke="#000080" stroke-width="7.8" stroke-linecap="round" fill="none"/>
<path d="M687.8 4277.4h0M701.5 4319.4h0M693.7 4328.1h0M704.2 4333.5h0M705.2 4348.1h0M680.1 4350h0M677.8 4362.2h0M714.6 4386.1h0M688.8 4389.2h0M721.7 4394h0M698.2 4406.8h0M714.6 4411.5h0M698.5 4422.1h0M683.9 4422.4h0M705.6 4426.5h0M716 4431.3h0M700.6 4435.5h0M710.3 4443.3h0M680.1 4443.6h0M703.6 4447.5h0M690.7 4452.1h0M678.6 4452.3h0M715.9 4453.2h0M715.4 4453.2h0M695.5 4458.4h0M683.9 4459.1h0M711.6 4462h0M721 4463.3h0M703.8 4463.9h0M687.8 4466.3h0" stroke="#990000" stroke-width="7.8" stroke-linecap="round" fill="none"/>
<path d="M774.3 4265.6h0M768.4 4354.3h0M781.5 4358.5h0M804.7 4360.2h0M799.5 4376h0M773.7 4376.4h0M787.7 4380.9h0M776.1 4398.8h0M771.5 4410.3h0M768.5 4429.3h0M805.2 4431.1h0M777.6 4431.4h0M791.8 4432.3h0M797.1 4432.9h0M771.7 4436.8h0M784.3 4437.5h0M807.6 4438.7h0M794 4441h0M770.5 4450.4h0M785.7 4452.2h0M808.3 4455.4h0M798.3 4458h0M782.1 4460.1h0M765.4 4461.5h0M774.9 4463.8h0M803.5 4464.6h0M789 4466.8h0M781.8 4470.2h0M797 4470.8h0M767.9 4471.5h0M807.1 4471.5h0M798 4471.8h0" stroke="#990000" stroke-width="7.8" stroke-linecap="round" fill="none"/>
<path d="M878.1 4345.9h0M883.5 4354.6h0M885.8 4369.5h0M851.6 4370.1h0M871.1 4371.1h0M892.5 4393.3h0M879.3 4395.3h0M890.6 4405.4h0M855.4 4405.8h0M871.3 4408.3h0M862.8 4410.2h0M884.5 4410.8h0M850.4 4412.4h0M894.2 4412.6h0M874.4 4415.8h0M880.6 4421.5h0M859.5 4421.6h0M892.4 4423.1h0M866.4 4427h0M857.7 4433.5h0M856.8 4445.3h0M877.3 4446.4h0M850.5 4450.2h0M865.4 4451.5h0M886.9 4451.6h0M871.8 4458h0M881.8 4458.2h0M852.8 4458.6h0M893.9 4468.7h0M851.3 4475.7h0" stroke="#990000" stroke-width="7.8" stroke-linecap="round" fill="none"/>
<path d="M382.9 4395.4V4408.8M372.9 4395.4h20M372.9 4408.8h20" stroke="#000" stroke-width="4" fill="none" stroke-linecap="round"/>
<path d="M469.8 4365.5V4381.3M459.8 4365.5h20M459.8 4381.3h20" stroke="#000" stroke-width="4" fill="none" stroke-linecap="round"/>
<path d="M556 4371.8V4387.6M546 4371.8h20M546 4387.6h20" stroke="#000" stroke-width="4" fill="none" stroke-linecap="round"/>
<path d="M699.5 4399.4V4417.5M689.5 4399.4h20M689.5 4417.5h20" stroke="#000" stroke-width="4" fill="none" stroke-linecap="round"/>
<path d="M786.1 4400.9V4419.8M776.1 4400.9h20M776.1 4419.8h20" stroke="#000" stroke-width="4" fill="none" stroke-linecap="round"/>
<path d="M872.6 4408.8V4421.4M862.6 4408.8h20M862.6 4421.4h20" stroke="#000" stroke-width="4" fill="none" stroke-linecap="round"/>
<circle cx="928.5" cy="4146" r="4.5" fill="#000080"/>
<text x="975.8" y="4161" font-size="44" font-weight="bold" fill="#000080">Vehicle</text>
<circle cx="928.5" cy="4213.7" r="4.5" fill="#990000"/>
<text x="975.8" y="4230.2" font-size="44" font-weight="bold" fill="#990000">VER-155008</text>
<path d="M377.7 4104.3V4084.6H469V4104.3" stroke="#000" stroke-width="5.1" fill="none" stroke-linejoin="miter" stroke-linecap="round"/>
<path d="M410.9 4042V4061M402.3 4046.5L419.5 4056.5M402.3 4056.5L419.5 4046.5M435.9 4042V4061M427.3 4046.5L444.5 4056.5M427.3 4056.5L444.5 4046.5" stroke="#000" stroke-width="3.8" fill="none"/>
<path d="M374.6 4054.7V4033.4H549.3V4054.7" stroke="#000" stroke-width="5.1" fill="none" stroke-linejoin="miter" stroke-linecap="round"/>
<path d="M462.7 3992.5V4011.5M454.1 3997L471.3 4007M454.1 4007L471.3 3997" stroke="#000" stroke-width="3.8" fill="none"/>
<path d="M467.4 4161.7V4142H780.6V4161.7" stroke="#000" stroke-width="5.1" fill="none" stroke-linejoin="miter" stroke-linecap="round"/>
<path d="M624 4102.5V4121.5M615.4 4107L632.6 4117M615.4 4117L632.6 4107" stroke="#000" stroke-width="3.8" fill="none"/>
<path d="M563.4 4112V4090.9H863.2V4112" stroke="#000" stroke-width="5.1" fill="none" stroke-linejoin="miter" stroke-linecap="round"/>
<path d="M712 4053.1V4072.1M703.4 4057.6L720.6 4067.6M703.4 4067.6L720.6 4057.6" stroke="#000" stroke-width="3.8" fill="none"/>
<g transform="translate(355.1 4598.2) rotate(-30)"><text x="-211.6" y="0" font-size="46" font-weight="bold">WT + Ang</text><path d="M0 -30.4h23v2.5h-23zM0 -2.5h23v2.5h-23zM4.4 -30.4h4.6v30.4h-4.6zM14 -30.4h4.6v30.4h-4.6z" transform="translate(25.8 0)"/></g>
<g transform="translate(441.7 4598.2) rotate(-30)"><text x="-285.9" y="0" font-size="46" font-weight="bold">L460fs + Ang</text><path d="M0 -30.4h23v2.5h-23zM0 -2.5h23v2.5h-23zM4.4 -30.4h4.6v30.4h-4.6zM14 -30.4h4.6v30.4h-4.6z" transform="translate(25.8 0)"/></g>
<g transform="translate(528.3 4598.2) rotate(-30)"><text x="-293.6" y="0" font-size="46" font-weight="bold">G853fs + Ang</text><path d="M0 -30.4h23v2.5h-23zM0 -2.5h23v2.5h-23zM4.4 -30.4h4.6v30.4h-4.6zM14 -30.4h4.6v30.4h-4.6z" transform="translate(25.8 0)"/></g>
<g transform="translate(671.5 4598.2) rotate(-30)"><text x="-211.6" y="0" font-size="46" font-weight="bold">WT + Ang</text><path d="M0 -30.4h23v2.5h-23zM0 -2.5h23v2.5h-23zM4.4 -30.4h4.6v30.4h-4.6zM14 -30.4h4.6v30.4h-4.6z" transform="translate(25.8 0)"/></g>
<g transform="translate(758 4598.2) rotate(-30)"><text x="-285.9" y="0" font-size="46" font-weight="bold">L460fs + Ang</text><path d="M0 -30.4h23v2.5h-23zM0 -2.5h23v2.5h-23zM4.4 -30.4h4.6v30.4h-4.6zM14 -30.4h4.6v30.4h-4.6z" transform="translate(25.8 0)"/></g>
<g transform="translate(844.6 4598.2) rotate(-30)"><text x="-293.6" y="0" font-size="46" font-weight="bold">G853fs + Ang</text><path d="M0 -30.4h23v2.5h-23zM0 -2.5h23v2.5h-23zM4.4 -30.4h4.6v30.4h-4.6zM14 -30.4h4.6v30.4h-4.6z" transform="translate(25.8 0)"/></g>

<!-- panelN -->

<text transform="translate(1465 4016.3) scale(0.995 1.04)" x="-8.1" y="0" font-size="122" font-weight="bold">N</text>
<text x="1943" y="3958" font-size="49.5" text-anchor="middle" font-weight="bold">RYR2-mediated Ca<tspan font-size="31" dy="-19">2+</tspan><tspan dy="19"> leak</tspan></text>
<path d="M1686.3 4114.4V4514.6H2285.6" stroke="#000" stroke-width="3.9" fill="none"/>
<text x="1667.3" y="4127.5" font-size="31" font-weight="bold" text-anchor="end">0.8</text>
<text x="1667.3" y="4227.4" font-size="31" font-weight="bold" text-anchor="end">0.6</text>
<text x="1667.3" y="4327.3" font-size="31" font-weight="bold" text-anchor="end">0.4</text>
<text x="1667.3" y="4425.8" font-size="31" font-weight="bold" text-anchor="end">0.2</text>
<text x="1667.3" y="4525.7" font-size="31" font-weight="bold" text-anchor="end">0.0</text>
<path d="M1671.3 4116.4h15M1671.3 4216.3h15M1671.3 4316.2h15M1671.3 4414.7h15M1671.3 4514.6h15M1742.3 4514.6v15M1826.8 4514.6v15M1912 4514.6v15M2054 4514.6v15M2139 4514.6v15M2225.7 4514.6v15" stroke="#000" stroke-width="3.9" fill="none"/>
<text transform="translate(1596.4 4319.5) rotate(-90)" text-anchor="middle" font-size="46" font-weight="bold"><tspan font-weight="normal" font-family="Liberation Serif">Δ</tspan>F<tspan font-size="32.5" dy="9.2">tet</tspan><tspan font-size="46" dy="-9.2">/F</tspan><tspan font-size="32.5" dy="9.2">0, daistolic</tspan></text>
<path d="M1718.2 4514.6V4377.5H1767.6V4514.6" stroke="#000080" stroke-width="5.2" fill="none"/>
<path d="M1803.5 4514.6V4344.1H1852.2V4514.6" stroke="#000080" stroke-width="5.2" fill="none"/>
<path d="M1888.6 4514.6V4341.6H1938.1V4514.6" stroke="#000080" stroke-width="5.2" fill="none"/>
<path d="M2029.9 4514.6V4366.1H2079.9V4514.6" stroke="#990000" stroke-width="5.2" fill="none"/>
<path d="M2115.1 4514.6V4376.1H2165.2V4514.6" stroke="#990000" stroke-width="5.2" fill="none"/>
<path d="M2200.3 4514.6V4372.9H2250.4V4514.6" stroke="#990000" stroke-width="5.2" fill="none"/>
<path d="M1743.1 4238.2h0M1743.7 4248.9h0M1743.8 4265.5h0M1746.9 4272.8h0M1740.1 4276.6h0M1743 4284.3h0M1735.1 4285.5h0M1743.6 4292.6h0M1735.7 4292.9h0M1742.9 4321.7h0M1734.7 4326.4h0M1750.5 4327.1h0M1742.3 4329.9h0M1757.1 4330h0M1727.4 4331.4h0M1764.4 4332.6h0M1745.6 4336.5h0M1740.1 4337.4h0M1731.3 4338.7h0M1753.1 4340.5h0M1761 4343.6h0M1743.9 4351.8h0M1734.7 4352.1h0M1750.2 4353.5h0M1727.2 4353.7h0M1758.1 4353.9h0M1721.3 4356.3h0M1764.7 4356.5h0M1771.7 4356.8h0M1713.8 4357.2h0M1713.7 4357.4h0M1743.9 4360.2h0M1735.9 4360.7h0M1750.4 4364.6h0M1757.3 4364.8h0M1728.7 4367.1h0M1742.1 4370.6h0M1750.6 4373.5h0M1739.7 4378h0M1747.3 4380.3h0M1753.6 4380.7h0M1731.6 4381.1h0M1760.5 4381.2h0M1725 4382.5h0M1769.4 4382.6h0M1716.4 4382.8h0M1777 4383.2h0M1709.4 4384.1h0M1758.5 4384.8h0M1738.9 4385.7h0M1754.5 4386.4h0M1746.3 4387.8h0M1731.2 4388.6h0M1759.9 4388.7h0M1721.2 4389.8h0M1768.6 4390.3h0M1713.7 4390.9h0M1739.1 4394.2h0M1750.6 4395h0M1732.8 4398.3h0M1757.3 4398.5h0M1725.2 4399.8h0M1764.9 4400.4h0M1742.2 4406h0M1749.9 4406.2h0M1736.2 4407h0M1758.2 4411.8h0M1728 4411.8h0M1764.9 4412.2h0M1719.8 4412.4h0M1742.8 4414.5h0M1734.9 4414.7h0M1750.1 4415.4h0M1771.6 4417.9h0M1762.1 4418.9h0M1725 4418.9h0M1716.2 4419.1h0M1746.2 4421.8h0M1738.7 4422.9h0M1732.3 4425.1h0M1754.3 4427.3h0M1725 4428.8h0M1761.9 4429h0M1743.1 4430.5h0M1769.1 4431.2h0M1736.1 4432.7h0M1750.6 4433.9h0M1756.7 4437.2h0M1742.8 4438h0M1732.3 4439.3h0M1724.4 4440.1h0M1765.7 4440.4h0M1749.8 4441.8h0M1716.7 4441.9h0M1773 4442.1h0M1708.7 4444h0M1740.1 4444.8h0M1758.5 4445.8h0M1731.1 4446.4h0M1741.6 4446.8h0M1720.9 4447.4h0M1738.2 4447.6h0M1765.8 4448.5h0M1776.4 4448.9h0M1747.1 4452.9h0M1754 4453.9h0M1740 4456.5h0M1732.1 4458.2h0M1746.5 4462.2h0M1743.8 4477.9h0" stroke="#000080" stroke-width="8" stroke-linecap="round" fill="none"/>
<path d="M1827 4138.4h0M1828.7 4184.8h0M1826.9 4205.7h0M1834.3 4206.2h0M1820.9 4212h0M1828.5 4213.4h0M1835.7 4218.9h0M1826.9 4221.3h0M1828.4 4247.6h0M1827.9 4269.5h0M1835.4 4271.7h0M1823.8 4276.2h0M1828.6 4290.7h0M1819.5 4292.1h0M1834.6 4296.2h0M1842 4297.2h0M1812.3 4298h0M1827.9 4302.1h0M1821.4 4305h0M1826.9 4309.7h0M1835.7 4313.8h0M1828.2 4320.8h0M1828.8 4328.7h0M1835.6 4329.6h0M1821 4333h0M1828.6 4336.4h0M1834.9 4339h0M1820.6 4342.2h0M1812.3 4343.5h0M1828.3 4346h0M1834.5 4347h0M1841.8 4349.4h0M1820.8 4350.9h0M1812.9 4351.2h0M1850.8 4352.7h0M1827 4356.5h0M1834.6 4358.1h0M1820.1 4358.4h0M1842.3 4359.2h0M1812.4 4362h0M1806.4 4362.1h0M1849.2 4362.1h0M1797.7 4363.1h0M1827.8 4364.6h0M1834.3 4366.4h0M1821.1 4366.5h0M1842 4368.3h0M1813.1 4369.7h0M1806.6 4369.9h0M1849.8 4369.9h0M1857.7 4370.1h0M1826.9 4372.7h0M1820 4375h0M1835.4 4375.1h0M1843.2 4375.9h0M1812.1 4377.9h0M1827.6 4382h0M1838.9 4382.4h0M1820.2 4382.7h0M1846.8 4382.9h0M1806.5 4383.2h0M1813.8 4385.8h0M1853.6 4387.3h0M1798.5 4387.7h0M1831.6 4388.9h0M1824.3 4389.1h0M1838 4391.7h0M1816.1 4392.4h0M1808.6 4394.7h0M1846.1 4395h0M1828.3 4396.8h0M1801.7 4396.9h0M1854.2 4397.5h0M1820.2 4398.9h0M1834.5 4399.8h0M1841.8 4403.8h0M1828.2 4406.8h0M1821.3 4407.9h0M1834.6 4411.2h0M1814 4413.2h0M1827.6 4416.2h0M1819.5 4417h0M1841.9 4417.3h0M1849.7 4418.3h0M1835.9 4419.9h0M1808.5 4419.9h0M1801.6 4421.3h0M1858.4 4422.7h0M1827.1 4423.9h0M1820.7 4424.6h0M1843.5 4425.3h0M1849.6 4426.1h0M1834.3 4427.6h0M1812.9 4428.4h0M1827.3 4434.8h0M1819.5 4436.6h0M1836 4437.7h0M1814 4437.8h0M1842 4439.7h0M1828.2 4444.6h0" stroke="#000080" stroke-width="8" stroke-linecap="round" fill="none"/>
<path d="M1913.6 4163h0M1912.9 4183.1h0M1912.4 4204.4h0M1921.6 4210.4h0M1913.4 4215.8h0M1914.2 4244.1h0M1913 4270.2h0M1906.8 4275.1h0M1912.9 4296.4h0M1906.4 4297.8h0M1920.3 4301.3h0M1898.2 4303.1h0M1913.9 4304.4h0M1927.4 4304.4h0M1906.1 4305.2h0M1892.1 4305.4h0M1913.4 4322.9h0M1920.2 4324h0M1906 4326.7h0M1899.4 4327.2h0M1928.5 4329.1h0M1914.2 4330.5h0M1934.8 4330.5h0M1917 4337.1h0M1910.3 4337.8h0M1923.6 4339h0M1901.5 4339.1h0M1932.4 4339.6h0M1895.4 4339.8h0M1939.1 4341.6h0M1888.2 4343.5h0M1914.1 4345h0M1906.6 4345.5h0M1920.3 4347.3h0M1899.1 4348.4h0M1928.7 4350.5h0M1912.9 4353.2h0M1906.2 4354.2h0M1920.5 4356.5h0M1898 4357.2h0M1927.3 4358.5h0M1890.8 4359h0M1935.8 4359.4h0M1913.9 4361.1h0M1905.3 4362.9h0M1942.7 4363.8h0M1921 4364.3h0M1898.2 4365h0M1928 4366.1h0M1887.2 4366.1h0M1936.2 4366.9h0M1880.9 4367.1h0M1886.1 4368.1h0M1912.5 4368.7h0M1905.2 4370.5h0M1894.9 4371.6h0M1920.6 4372.6h0M1932.3 4373.4h0M1939.7 4374.7h0M1912.6 4376.5h0M1906.6 4378.2h0M1923.7 4379.4h0M1898 4380.1h0M1891.1 4380.7h0M1932.2 4382.1h0M1938.9 4382.7h0M1883 4382.7h0M1947.5 4382.7h0M1917.1 4383.3h0M1906.1 4383.3h0M1883.6 4383.6h0M1929 4384.3h0M1942.9 4384.9h0M1943 4385h0M1933.7 4385.8h0M1899 4388.4h0M1891.3 4388.9h0M1906.9 4389.1h0M1916.6 4392.1h0M1924.2 4393.1h0M1932 4394h0M1902.2 4396h0M1914 4398.9h0M1921.1 4399.8h0M1895.2 4400.2h0M1928.7 4400.5h0M1936.5 4401.3h0M1887.8 4402.1h0M1906.6 4402.9h0M1942.9 4405h0M1879.5 4405.1h0M1918.2 4405.4h0M1895.9 4405.4h0M1926.7 4405.8h0M1910.2 4410.7h0" stroke="#000080" stroke-width="8" stroke-linecap="round" fill="none"/>
<path d="M2043.1 4296.2h0M2056.9 4315.5h0M2049 4318.5h0M2035.3 4318.9h0M2032.9 4327.7h0M2070.2 4328.4h0M2044 4339h0M2077.3 4340h0M2053.6 4342.8h0M2070.1 4349.7h0M2053.8 4352.3h0M2039.1 4355.3h0M2061 4361.7h0M2071.5 4369.3h0M2055.9 4371.2h0M2065.8 4375.6h0M2035.2 4380.6h0M2059 4382.5h0M2045.9 4386h0M2033.7 4391.3h0M2071.4 4391.3h0M2053.7 4397.8h0M2064.8 4398.2h0M2072 4401.7h0M2036.7 4404.2h0M2042.1 4411.6h0M2075.9 4415.5h0M2052 4415.9h0M2060.6 4416.9h0M2045.9 4427.3h0" stroke="#990000" stroke-width="8" stroke-linecap="round" fill="none"/>
<path d="M2128.2 4300.8h0M2122.2 4319h0M2135.4 4328.3h0M2124.5 4329h0M2159.1 4329.6h0M2145.9 4330.3h0M2150.7 4341.2h0M2156.2 4348.6h0M2121.4 4351.1h0M2144.9 4351.9h0M2131.1 4354.8h0M2162.7 4355.4h0M2152.2 4355.5h0M2145.4 4361.4h0M2128.3 4363.6h0M2138.3 4365.8h0M2119.4 4370.6h0M2149.1 4373.2h0M2158.1 4374.4h0M2118.3 4379.4h0M2130.6 4380h0M2152.6 4381.7h0M2136.1 4406.5h0M2160.2 4407.2h0M2145.6 4407.8h0M2126.2 4411.1h0M2117.9 4411.6h0M2153 4414.6h0M2133.9 4449.4h0M2121.9 4456h0" stroke="#990000" stroke-width="8" stroke-linecap="round" fill="none"/>
<path d="M2230.9 4304.8h0M2236.3 4322.9h0M2238.7 4332.2h0M2245.4 4342.6h0M2236.2 4349.2h0M2244.5 4365.4h0M2204 4367.7h0M2223.8 4369.6h0M2245.4 4373.7h0M2232.1 4373.7h0M2207.8 4376.4h0M2223.9 4379.5h0M2213.9 4383.2h0M2203.3 4383.9h0M2244.2 4385.4h0M2230.7 4387.8h0M2208.4 4391.7h0M2242.2 4393.9h0M2216.2 4394.3h0M2230 4399.2h0M2202.9 4401.4h0M2218 4402.6h0M2239.8 4404.3h0M2217.1 4405.4h0M2247.9 4406.3h0M2226.9 4407.9h0M2205.2 4409.1h0M2244.2 4416h0" stroke="#990000" stroke-width="8" stroke-linecap="round" fill="none"/>
<path d="M1742.9 4371.4V4380.7M1730.9 4371.4h24M1730.9 4380.7h24" stroke="#000" stroke-width="4" fill="none" stroke-linecap="round"/>
<path d="M1827.8 4338.1V4348.8M1815.8 4338.1h24M1815.8 4348.8h24" stroke="#000" stroke-width="4" fill="none" stroke-linecap="round"/>
<path d="M1913.3 4334.8V4346.1M1901.3 4334.8h24M1901.3 4346.1h24" stroke="#000" stroke-width="4" fill="none" stroke-linecap="round"/>
<path d="M2054.9 4356.1V4374.1M2042.9 4356.1h24M2042.9 4374.1h24" stroke="#000" stroke-width="4" fill="none" stroke-linecap="round"/>
<path d="M2140.2 4364.7V4384.7M2128.2 4364.7h24M2128.2 4384.7h24" stroke="#000" stroke-width="4" fill="none" stroke-linecap="round"/>
<path d="M2225.3 4364.1V4379.4M2213.3 4364.1h24M2213.3 4379.4h24" stroke="#000" stroke-width="4" fill="none" stroke-linecap="round"/>
<path d="M1743 4116.4V4096.4H1826.2V4116.4" stroke="#000" stroke-width="5.1" fill="none" stroke-linejoin="miter" stroke-linecap="round"/>
<path d="M1746.7 4057V4076M1738.1 4061.5L1755.3 4071.5M1738.1 4071.5L1755.3 4061.5M1771.7 4057V4076M1763.1 4061.5L1780.3 4071.5M1763.1 4071.5L1780.3 4061.5M1796.7 4057V4076M1788.1 4061.5L1805.3 4071.5M1788.1 4071.5L1805.3 4061.5M1821.7 4057V4076M1813.1 4061.5L1830.3 4071.5M1813.1 4071.5L1830.3 4061.5" stroke="#000" stroke-width="3.8" fill="none"/>
<path d="M1743 4054.5V4034.5H1912V4054.5" stroke="#000" stroke-width="5.1" fill="none" stroke-linejoin="miter" stroke-linecap="round"/>
<path d="M1790.7 3993.7V4012.7M1782.1 3998.2L1799.3 4008.2M1782.1 4008.2L1799.3 3998.2M1815.7 3993.7V4012.7M1807.1 3998.2L1824.3 4008.2M1807.1 4008.2L1824.3 3998.2M1840.7 3993.7V4012.7M1832.1 3998.2L1849.3 4008.2M1832.1 4008.2L1849.3 3998.2M1865.7 3993.7V4012.7M1857.1 3998.2L1874.3 4008.2M1857.1 4008.2L1874.3 3998.2" stroke="#000" stroke-width="3.8" fill="none"/>
<path d="M1826.2 4116.4V4096.4H2125.8V4116.4" stroke="#000" stroke-width="5.1" fill="none" stroke-linejoin="miter" stroke-linecap="round"/>
<path d="M1974.7 4055.5V4074.5M1966.1 4060L1983.3 4070M1966.1 4070L1983.3 4060" stroke="#000" stroke-width="3.8" fill="none"/>
<path d="M1918 4159.7V4139.7H2227.7V4159.7" stroke="#000" stroke-width="5.1" fill="none" stroke-linejoin="miter" stroke-linecap="round"/>
<path d="M2072.6 4100.2V4119.2M2064 4104.7L2081.2 4114.7M2064 4114.7L2081.2 4104.7" stroke="#000" stroke-width="3.8" fill="none"/>
<g transform="translate(1715 4598.6) rotate(-30)"><text x="-211.6" y="0" font-size="46" font-weight="bold">WT + Ang</text><path d="M0 -30.4h23v2.5h-23zM0 -2.5h23v2.5h-23zM4.4 -30.4h4.6v30.4h-4.6zM14 -30.4h4.6v30.4h-4.6z" transform="translate(25.8 0)"/></g>
<g transform="translate(1799.5 4598.6) rotate(-30)"><text x="-285.9" y="0" font-size="46" font-weight="bold">L460fs + Ang</text><path d="M0 -30.4h23v2.5h-23zM0 -2.5h23v2.5h-23zM4.4 -30.4h4.6v30.4h-4.6zM14 -30.4h4.6v30.4h-4.6z" transform="translate(25.8 0)"/></g>
<g transform="translate(1884.7 4598.6) rotate(-30)"><text x="-293.6" y="0" font-size="46" font-weight="bold">G853fs + Ang</text><path d="M0 -30.4h23v2.5h-23zM0 -2.5h23v2.5h-23zM4.4 -30.4h4.6v30.4h-4.6zM14 -30.4h4.6v30.4h-4.6z" transform="translate(25.8 0)"/></g>
<g transform="translate(2026.7 4598.6) rotate(-30)"><text x="-211.6" y="0" font-size="46" font-weight="bold">WT + Ang</text><path d="M0 -30.4h23v2.5h-23zM0 -2.5h23v2.5h-23zM4.4 -30.4h4.6v30.4h-4.6zM14 -30.4h4.6v30.4h-4.6z" transform="translate(25.8 0)"/></g>
<g transform="translate(2111.7 4598.6) rotate(-30)"><text x="-285.9" y="0" font-size="46" font-weight="bold">L460fs + Ang</text><path d="M0 -30.4h23v2.5h-23zM0 -2.5h23v2.5h-23zM4.4 -30.4h4.6v30.4h-4.6zM14 -30.4h4.6v30.4h-4.6z" transform="translate(25.8 0)"/></g>
<g transform="translate(2198.4 4598.6) rotate(-30)"><text x="-293.6" y="0" font-size="46" font-weight="bold">G853fs + Ang</text><path d="M0 -30.4h23v2.5h-23zM0 -2.5h23v2.5h-23zM4.4 -30.4h4.6v30.4h-4.6zM14 -30.4h4.6v30.4h-4.6z" transform="translate(25.8 0)"/></g>

<!-- panelO -->

<text transform="translate(2639 4015.5) scale(1.019 1.04)" x="-5" y="0" font-size="122" font-weight="bold">O</text>
<text x="3137" y="3957" font-size="49" text-anchor="middle" font-weight="bold">SR Ca<tspan font-size="31" dy="-19">2+</tspan><tspan dy="19"> load</tspan></text>
<path d="M2846 4102.1V4514.6H3464" stroke="#000" stroke-width="3.9" fill="none"/>
<text x="2827" y="4118.7" font-size="41" font-weight="bold" text-anchor="end">8</text>
<text x="2827" y="4221.7" font-size="41" font-weight="bold" text-anchor="end">6</text>
<text x="2827" y="4324.7" font-size="41" font-weight="bold" text-anchor="end">4</text>
<text x="2827" y="4427" font-size="41" font-weight="bold" text-anchor="end">2</text>
<text x="2827" y="4529.3" font-size="41" font-weight="bold" text-anchor="end">0</text>
<path d="M2831 4104h15M2831 4207h15M2831 4310h15M2831 4412.3h15M2831 4514.6h15M2904 4514.6v15M2991 4514.6v15M3079 4514.6v15M3226 4514.6v15M3313.2 4514.6v15M3401.6 4514.6v15" stroke="#000" stroke-width="3.9" fill="none"/>
<text transform="translate(2768 4303) rotate(-90)" text-anchor="middle" font-size="48" font-weight="bold"><tspan font-weight="normal" font-family="Liberation Serif">Δ</tspan>F<tspan font-size="34" dy="9.6">caff</tspan><tspan font-size="48" dy="-9.6">/F</tspan><tspan font-size="34" dy="9.6">0, daistolic</tspan></text>
<path d="M2878.9 4514.6V4361.9H2929.9V4514.6" stroke="#000080" stroke-width="5.2" fill="none"/>
<path d="M2966 4514.6V4347.3H3017V4514.6" stroke="#000080" stroke-width="5.2" fill="none"/>
<path d="M3053.8 4514.6V4339.1H3104.2V4514.6" stroke="#000080" stroke-width="5.2" fill="none"/>
<path d="M3200.9 4514.6V4366.3H3251.3V4514.6" stroke="#990000" stroke-width="5.2" fill="none"/>
<path d="M3288.1 4514.6V4375.7H3339.1V4514.6" stroke="#990000" stroke-width="5.2" fill="none"/>
<path d="M3375.8 4514.6V4383.3H3426.8V4514.6" stroke="#990000" stroke-width="5.2" fill="none"/>
<path d="M2904.4 4154.6h0M2905.4 4178.6h0M2904.3 4201.6h0M2903.4 4217.2h0M2904.1 4229.5h0M2904 4237.2h0M2905.3 4245.2h0M2903.8 4257.2h0M2897.8 4261.2h0M2912 4261.5h0M2904.6 4266.4h0M2896.7 4269.4h0M2904.8 4278.4h0M2896 4279.4h0M2903.6 4289.7h0M2905.4 4300.2h0M2910.9 4300.5h0M2896.8 4305h0M2904.9 4315.4h0M2912.7 4317.6h0M2896.7 4318h0M2889.4 4318.5h0M2919.7 4318.8h0M2883.2 4320.2h0M2904.8 4323.5h0M2898 4326.6h0M2907.4 4330.1h0M2915.6 4330.2h0M2901.5 4333.7h0M2893.9 4335.2h0M2908.2 4339.8h0M2900.4 4341.6h0M2915.9 4341.9h0M2893.6 4344.1h0M2908.1 4347.8h0M2900.4 4350.4h0M2892.7 4352.6h0M2909.1 4355.4h0M2915.5 4357.7h0M2901.3 4358h0M2903.5 4366.4h0M2896.3 4368.2h0M2912.4 4368.3h0M2889.6 4368.8h0M2919.2 4368.9h0M2926.9 4369.6h0M2882.6 4370h0M2933.3 4371.1h0M2874.8 4371.6h0M2922.3 4371.8h0M2922.2 4373.1h0M2905.3 4375.8h0M2897.8 4376h0M2905.3 4384.3h0M2912.6 4386.1h0M2897.9 4386.4h0M2918.2 4387.9h0M2888.9 4388.1h0M2883.2 4388.2h0M2927.1 4388.4h0M2904.5 4392.7h0M2910.9 4393.5h0M2897.6 4394h0M2903.9 4401.5h0M2897.4 4402h0M2911.7 4403.2h0M2888.7 4403.3h0M2920 4404.1h0M2881.5 4404.5h0M2926.4 4406.1h0M2934.2 4406.4h0M2875.1 4406.8h0M2873.9 4407.4h0M2911.9 4407.8h0M2902 4407.9h0M2881.3 4408.6h0M2931.8 4408.8h0M2892.6 4409.8h0M2912.6 4410h0M2918.6 4414.2h0M2905.3 4414.9h0M2885.8 4415.8h0M2926.9 4416h0M2910.9 4418.4h0M2896.2 4421.3h0M2918.3 4422.2h0M2904 4422.8h0M2888.8 4423h0M2882.2 4423h0M2926.9 4424.9h0M2911.1 4428.5h0M2900.7 4429.5h0M2908.7 4435.3h0M2893 4435.5h0M2900.3 4438.2h0M2914.6 4438.3h0M2889.2 4442h0M2907.6 4443h0M2922.6 4443.1h0M2901.2 4446.4h0M2916.2 4448.7h0M2893.9 4449.9h0M2908 4450.9h0M2885.1 4452.4h0M2922.7 4453.3h0M2930.2 4453.3h0M2901.3 4453.9h0M2915.6 4456.9h0M2905.2 4471.1h0M2904 4479.8h0" stroke="#000080" stroke-width="8" stroke-linecap="round" fill="none"/>
<path d="M2990.7 4186.2h0M2992.4 4199.3h0M2998 4203.3h0M2990.5 4227.1h0M2991.9 4235.4h0M2984.8 4239.3h0M2991.9 4248.9h0M2998 4252.2h0M2992 4269.7h0M2984.2 4275.9h0M2991.6 4287.6h0M2991.2 4296h0M2984.8 4296.5h0M2994.2 4302.5h0M2987.1 4308.2h0M2994.6 4311.6h0M2990.8 4318.1h0M2998.9 4318.5h0M2985 4319.5h0M2990.5 4325.6h0M2999.3 4330.2h0M2984.4 4331.2h0M2977.7 4332.2h0M2991.9 4335.3h0M3006.8 4335.7h0M2970.1 4336.8h0M2983.8 4341.3h0M2999 4341.5h0M2990.7 4344h0M2977.2 4344.1h0M3005.5 4344.5h0M2968.4 4346.3h0M3014.1 4348.4h0M2998.8 4349.1h0M2984.9 4349.3h0M3020.2 4351.2h0M2961.2 4351.4h0M2991.1 4354.4h0M2983.7 4358.4h0M2998.2 4359.3h0M3007 4361.4h0M2990.6 4362.5h0M2976.2 4364.5h0M2969.3 4364.9h0M2983.2 4366.2h0M2999.6 4367.1h0M3009.4 4368.8h0M2991.5 4372.3h0M2985 4374.1h0M2998.7 4374.5h0M3006.5 4375.2h0M2975.7 4378.2h0M2968.8 4379.6h0M2991.6 4380h0M3014.2 4380h0M2960.9 4381.1h0M2998.7 4382.6h0M2984 4384.5h0M3006 4385.1h0M2992 4388.9h0M2977.6 4389.9h0M2999.6 4390.5h0M3013.5 4391.3h0M2988 4395.9h0M2980.4 4396.4h0M2995.3 4397.4h0M3001.7 4400.6h0M2987.1 4403.4h0M2976 4403.7h0M3009.8 4404h0M2995.6 4404.9h0M2969.1 4405.3h0M3017.8 4406.1h0M3002.4 4408.2h0M2961.2 4408.6h0M2990.6 4412.9h0M2999.3 4415.8h0M2985 4416.9h0M2976.1 4419.3h0M2992.5 4421.1h0M3002.3 4423h0M2983.1 4425.2h0M2990.8 4429.1h0M2998.6 4430.5h0M2984.8 4433.4h0M2990.7 4438.8h0M2983.8 4444.1h0M2999.9 4445.1h0M2976 4445.5h0M2991.8 4451.4h0" stroke="#000080" stroke-width="8" stroke-linecap="round" fill="none"/>
<path d="M3079.2 4162.8h0M3079.1 4184h0M3086.5 4186.5h0M3078.4 4211.2h0M3072.5 4215.8h0M3079.7 4223.5h0M3078.4 4231.8h0M3072 4235.2h0M3079.2 4242.1h0M3078.5 4249.7h0M3078.8 4266.2h0M3086.9 4268.5h0M3080 4275.1h0M3086.3 4276.6h0M3071.9 4278.6h0M3063.5 4278.8h0M3092.9 4280.1h0M3056.7 4282.2h0M3078 4283h0M3100.6 4283.2h0M3049.3 4283.6h0M3071.3 4286.5h0M3081.9 4290.3h0M3079.2 4302.9h0M3078.8 4314.8h0M3083.6 4322.1h0M3075.9 4326.7h0M3089.6 4327.9h0M3082.4 4332h0M3067.2 4332.4h0M3098.4 4332.6h0M3075.1 4337.4h0M3085.8 4339.1h0M3067.6 4341.3h0M3094.8 4343.4h0M3079.9 4348.7h0M3072.1 4351.4h0M3086.3 4352.5h0M3093.8 4354.4h0M3079.5 4356.6h0M3067.8 4358.4h0M3061.2 4359.1h0M3086.7 4361.5h0M3094.5 4362.4h0M3074.5 4363.6h0M3100.8 4365h0M3052.5 4365h0M3109.2 4365.5h0M3083.4 4368.5h0M3067.2 4368.5h0M3060.2 4368.7h0M3089.9 4369.2h0M3063.7 4370h0M3075.8 4371.8h0M3097.2 4373.4h0M3053.8 4374.1h0M3079 4379.5h0M3086 4382.5h0M3072.5 4383.4h0M3092.9 4384h0M3063.5 4384h0M3102 4385.5h0M3056.6 4385.6h0M3078.6 4388h0M3078.4 4397.8h0M3072.1 4399.4h0M3085.8 4401.1h0M3093.4 4402.7h0M3064.6 4404.5h0M3078.4 4410h0M3071 4410.1h0M3085.8 4410.2h0M3063.2 4413.3h0M3078.8 4417.4h0M3086.6 4418h0M3072.5 4419h0M3063.3 4421.4h0M3093.6 4422.6h0M3057.2 4424.3h0M3079.5 4425.5h0M3086.7 4427.2h0M3071.9 4429.2h0M3063.9 4429.5h0M3079.7 4439.3h0M3078.9 4449.2h0M3082.3 4456.2h0M3075.5 4457.9h0M3078.1 4468.9h0M3079.9 4483.9h0M3071.8 4487.4h0" stroke="#000080" stroke-width="8" stroke-linecap="round" fill="none"/>
<path d="M3214.2 4226h0M3228.1 4265.4h0M3220.2 4270.5h0M3230.8 4299.4h0M3206.3 4303h0M3241.5 4305.4h0M3215.1 4312.2h0M3248.7 4317.4h0M3224.7 4325.1h0M3241.4 4328.1h0M3232.4 4330.1h0M3210.2 4343.6h0M3232.2 4359.1h0M3242.9 4362h0M3206.2 4362.9h0M3217 4365.5h0M3204.7 4375.3h0M3242.8 4378.7h0M3224.9 4379.7h0M3236.1 4393.4h0M3243.4 4405.2h0M3221.3 4405.8h0M3207.7 4408.1h0M3209.5 4417.1h0M3247.3 4418.8h0M3223.2 4422.3h0M3231.9 4428.3h0M3217 4436.4h0M3226.4 4437.2h0M3220.9 4443.8h0" stroke="#990000" stroke-width="8" stroke-linecap="round" fill="none"/>
<path d="M3301.4 4200.7h0M3295.3 4238.5h0M3308.8 4267.3h0M3297.7 4315.8h0M3293.6 4330.1h0M3309.1 4337.1h0M3332.9 4340.8h0M3325.9 4345.1h0M3300.8 4348.2h0M3315.3 4372.5h0M3303.3 4374.8h0M3298.5 4383h0M3333.3 4385.9h0M3319.5 4387.9h0M3304.4 4389.5h0M3328 4392.4h0M3292.5 4394.3h0M3319.4 4398.7h0M3303.5 4408.7h0M3315.2 4414.8h0M3312.3 4423.9h0M3306.3 4430.6h0M3336.6 4445.9h0M3299.5 4446h0M3309.6 4447.4h0M3319.7 4447.9h0M3291.3 4448.1h0M3328.3 4450.3h0M3313.5 4452.5h0M3296.4 4452.6h0" stroke="#990000" stroke-width="8" stroke-linecap="round" fill="none"/>
<path d="M3407 4275.9h0M3412.5 4327.2h0M3414.9 4341.6h0M3421.7 4351.9h0M3412.4 4358.7h0M3379.5 4359.1h0M3399.7 4359.8h0M3421.8 4365.4h0M3408.2 4373.8h0M3419.8 4376.7h0M3383.4 4393.4h0M3399.9 4398.6h0M3389.6 4400.3h0M3403.3 4406.2h0M3378.8 4406.8h0M3420.5 4407h0M3394.9 4407.1h0M3410.8 4409.8h0M3386.6 4411.4h0M3380.8 4412.6h0M3401 4414.5h0M3416.9 4416.8h0M3384.2 4424.1h0M3412 4427.3h0M3422.1 4428.2h0M3398.3 4431.6h0M3405 4431.7h0M3378.7 4432.8h0M3389.8 4433.4h0M3415.9 4436.9h0" stroke="#990000" stroke-width="8" stroke-linecap="round" fill="none"/>
<path d="M2904.4 4353.5V4369.3M2892.4 4353.5h24M2892.4 4369.3h24" stroke="#000" stroke-width="4" fill="none" stroke-linecap="round"/>
<path d="M2991.5 4337.7V4354.8M2979.5 4337.7h24M2979.5 4354.8h24" stroke="#000" stroke-width="4" fill="none" stroke-linecap="round"/>
<path d="M3079 4330.2V4348.5M3067 4330.2h24M3067 4348.5h24" stroke="#000" stroke-width="4" fill="none" stroke-linecap="round"/>
<path d="M3226.1 4352.3V4377.5M3214.1 4352.3h24M3214.1 4377.5h24" stroke="#000" stroke-width="4" fill="none" stroke-linecap="round"/>
<path d="M3313.6 4363V4387M3301.6 4363h24M3301.6 4387h24" stroke="#000" stroke-width="4" fill="none" stroke-linecap="round"/>
<path d="M3401.3 4372.5V4391.4M3389.3 4372.5h24M3389.3 4391.4h24" stroke="#000" stroke-width="4" fill="none" stroke-linecap="round"/>
<path d="M3084 4138.9V4118.7H3412.4V4138.9" stroke="#000" stroke-width="5.1" fill="none" stroke-linejoin="miter" stroke-linecap="round"/>
<path d="M3248.2 4077.5V4096.5M3239.6 4082L3256.8 4092M3239.6 4092L3256.8 4082" stroke="#000" stroke-width="3.8" fill="none"/>
<g transform="translate(2876.7 4598.6) rotate(-30)"><text x="-211.6" y="0" font-size="46" font-weight="bold">WT + Ang</text><path d="M0 -30.4h23v2.5h-23zM0 -2.5h23v2.5h-23zM4.4 -30.4h4.6v30.4h-4.6zM14 -30.4h4.6v30.4h-4.6z" transform="translate(25.8 0)"/></g>
<g transform="translate(2963.7 4598.6) rotate(-30)"><text x="-285.9" y="0" font-size="46" font-weight="bold">L460fs + Ang</text><path d="M0 -30.4h23v2.5h-23zM0 -2.5h23v2.5h-23zM4.4 -30.4h4.6v30.4h-4.6zM14 -30.4h4.6v30.4h-4.6z" transform="translate(25.8 0)"/></g>
<g transform="translate(3051.7 4598.6) rotate(-30)"><text x="-293.6" y="0" font-size="46" font-weight="bold">G853fs + Ang</text><path d="M0 -30.4h23v2.5h-23zM0 -2.5h23v2.5h-23zM4.4 -30.4h4.6v30.4h-4.6zM14 -30.4h4.6v30.4h-4.6z" transform="translate(25.8 0)"/></g>
<g transform="translate(3198.7 4598.6) rotate(-30)"><text x="-211.6" y="0" font-size="46" font-weight="bold">WT + Ang</text><path d="M0 -30.4h23v2.5h-23zM0 -2.5h23v2.5h-23zM4.4 -30.4h4.6v30.4h-4.6zM14 -30.4h4.6v30.4h-4.6z" transform="translate(25.8 0)"/></g>
<g transform="translate(3285.9 4598.6) rotate(-30)"><text x="-285.9" y="0" font-size="46" font-weight="bold">L460fs + Ang</text><path d="M0 -30.4h23v2.5h-23zM0 -2.5h23v2.5h-23zM4.4 -30.4h4.6v30.4h-4.6zM14 -30.4h4.6v30.4h-4.6z" transform="translate(25.8 0)"/></g>
<g transform="translate(3374.3 4598.6) rotate(-30)"><text x="-293.6" y="0" font-size="46" font-weight="bold">G853fs + Ang</text><path d="M0 -30.4h23v2.5h-23zM0 -2.5h23v2.5h-23zM4.4 -30.4h4.6v30.4h-4.6zM14 -30.4h4.6v30.4h-4.6z" transform="translate(25.8 0)"/></g>
</svg></div></body></html>
